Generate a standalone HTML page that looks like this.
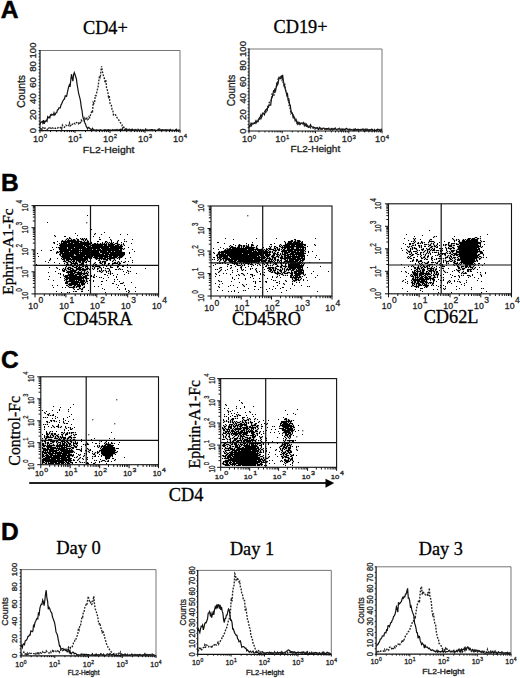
<!DOCTYPE html>
<html><head><meta charset="utf-8"><style>
html,body{margin:0;padding:0;background:#fff;}
svg{display:block;}
</style></head><body>
<svg width="520" height="678" viewBox="0 0 520 678">
<rect width="520" height="678" fill="#fff"/>
<text transform="translate(0.80 18.20)" font-family='"Liberation Sans", sans-serif' font-size="24.6" text-anchor="start" font-weight="bold" fill="#000" stroke="#000" stroke-width="0.5">A</text>
<text transform="translate(1.00 191.00)" font-family='"Liberation Sans", sans-serif' font-size="24.5" text-anchor="start" font-weight="bold" fill="#000" stroke="#000" stroke-width="0.5">B</text>
<text transform="translate(1.00 368.20)" font-family='"Liberation Sans", sans-serif' font-size="24.5" text-anchor="start" font-weight="bold" fill="#000" stroke="#000" stroke-width="0.5">C</text>
<text transform="translate(1.00 539.60)" font-family='"Liberation Sans", sans-serif' font-size="24.5" text-anchor="start" font-weight="bold" fill="#000" stroke="#000" stroke-width="0.5">D</text>
<line x1="40" y1="50.5" x2="180" y2="50.5" stroke="#666" stroke-width="0.9" />
<line x1="180" y1="50.5" x2="180" y2="130.7" stroke="#666" stroke-width="0.9" />
<line x1="40" y1="50.1" x2="40" y2="131.1" stroke="#111" stroke-width="1.2" />
<line x1="39.6" y1="130.7" x2="180.4" y2="130.7" stroke="#111" stroke-width="1.2" />
<text transform="translate(36.00 130.70) rotate(-90)" font-family='"Liberation Sans", sans-serif' font-size="9.5" text-anchor="middle" font-weight="normal" fill="#222" stroke="#222" stroke-width="0.3">0</text>
<text transform="translate(36.00 114.66) rotate(-90)" font-family='"Liberation Sans", sans-serif' font-size="9.5" text-anchor="middle" font-weight="normal" fill="#222" stroke="#222" stroke-width="0.3">20</text>
<text transform="translate(36.00 98.62) rotate(-90)" font-family='"Liberation Sans", sans-serif' font-size="9.5" text-anchor="middle" font-weight="normal" fill="#222" stroke="#222" stroke-width="0.3">40</text>
<text transform="translate(36.00 82.58) rotate(-90)" font-family='"Liberation Sans", sans-serif' font-size="9.5" text-anchor="middle" font-weight="normal" fill="#222" stroke="#222" stroke-width="0.3">60</text>
<text transform="translate(36.00 66.54) rotate(-90)" font-family='"Liberation Sans", sans-serif' font-size="9.5" text-anchor="middle" font-weight="normal" fill="#222" stroke="#222" stroke-width="0.3">80</text>
<text transform="translate(36.00 50.50) rotate(-90)" font-family='"Liberation Sans", sans-serif' font-size="9.5" text-anchor="middle" font-weight="normal" fill="#222" stroke="#222" stroke-width="0.3">100</text>
<path d="M40 130.7h-1.4M40 127.5h-1.4M40 124.3h-1.4M40 121.1h-1.4M40 117.9h-1.4M40 114.7h-1.4M40 111.5h-1.4M40 108.2h-1.4M40 105.0h-1.4M40 101.8h-1.4M40 98.6h-1.4M40 95.4h-1.4M40 92.2h-1.4M40 89.0h-1.4M40 85.8h-1.4M40 82.6h-1.4M40 79.4h-1.4M40 76.2h-1.4M40 73.0h-1.4M40 69.7h-1.4M40 66.5h-1.4M40 63.3h-1.4M40 60.1h-1.4M40 56.9h-1.4M40 53.7h-1.4M40 50.5h-1.4" stroke="#222" stroke-width="1.0" fill="none"/>
<text transform="translate(25.40 91.40) rotate(-90)" font-family='"Liberation Sans", sans-serif' font-size="10.3" text-anchor="middle" font-weight="normal" fill="#222" stroke="#222" stroke-width="0.3">Counts</text>
<text transform="translate(40.00 142.00)" x="-7.04" y="0" font-family='"Liberation Sans", sans-serif' font-size="9.3" fill="#222" stroke="#222" stroke-width="0.28">10<tspan dx="0.4" dy="-3.80" font-size="6.00">0</tspan></text>
<text transform="translate(75.00 142.00)" x="-7.04" y="0" font-family='"Liberation Sans", sans-serif' font-size="9.3" fill="#222" stroke="#222" stroke-width="0.28">10<tspan dx="0.4" dy="-3.80" font-size="6.00">1</tspan></text>
<text transform="translate(110.00 142.00)" x="-7.04" y="0" font-family='"Liberation Sans", sans-serif' font-size="9.3" fill="#222" stroke="#222" stroke-width="0.28">10<tspan dx="0.4" dy="-3.80" font-size="6.00">2</tspan></text>
<text transform="translate(145.00 142.00)" x="-7.04" y="0" font-family='"Liberation Sans", sans-serif' font-size="9.3" fill="#222" stroke="#222" stroke-width="0.28">10<tspan dx="0.4" dy="-3.80" font-size="6.00">3</tspan></text>
<text transform="translate(180.00 142.00)" x="-7.04" y="0" font-family='"Liberation Sans", sans-serif' font-size="9.3" fill="#222" stroke="#222" stroke-width="0.28">10<tspan dx="0.4" dy="-3.80" font-size="6.00">4</tspan></text>
<path d="M40.0 130.7v2.2399999999999998M50.5 130.7v1.4M56.7 130.7v1.4M61.1 130.7v1.4M64.5 130.7v1.4M67.2 130.7v1.4M69.6 130.7v1.4M71.6 130.7v1.4M73.4 130.7v1.4M75.0 130.7v2.2399999999999998M85.5 130.7v1.4M91.7 130.7v1.4M96.1 130.7v1.4M99.5 130.7v1.4M102.2 130.7v1.4M104.6 130.7v1.4M106.6 130.7v1.4M108.4 130.7v1.4M110.0 130.7v2.2399999999999998M120.5 130.7v1.4M126.7 130.7v1.4M131.1 130.7v1.4M134.5 130.7v1.4M137.2 130.7v1.4M139.6 130.7v1.4M141.6 130.7v1.4M143.4 130.7v1.4M145.0 130.7v2.2399999999999998M155.5 130.7v1.4M161.7 130.7v1.4M166.1 130.7v1.4M169.5 130.7v1.4M172.2 130.7v1.4M174.6 130.7v1.4M176.6 130.7v1.4M178.4 130.7v1.4M180.0 130.7v2.2399999999999998" stroke="#111" stroke-width="1.0" fill="none"/>
<text transform="translate(108.60 152.50) scale(1.100 1)" font-family='"Liberation Sans", sans-serif' font-size="9.5" text-anchor="middle" font-weight="normal" fill="#222" stroke="#222" stroke-width="0.3">FL2-Height</text>
<text transform="translate(105.40 33.70)" font-family='"Liberation Serif", serif' font-size="18.3" text-anchor="middle" font-weight="normal" fill="#000" stroke="#000" stroke-width="0.3">CD4+</text>
<line x1="249" y1="49" x2="382" y2="49" stroke="#666" stroke-width="0.9" />
<line x1="382" y1="49" x2="382" y2="131" stroke="#666" stroke-width="0.9" />
<line x1="249" y1="48.6" x2="249" y2="131.4" stroke="#111" stroke-width="1.2" />
<line x1="248.6" y1="131" x2="382.4" y2="131" stroke="#111" stroke-width="1.2" />
<text transform="translate(245.50 131.00) rotate(-90)" font-family='"Liberation Sans", sans-serif' font-size="9.5" text-anchor="middle" font-weight="normal" fill="#222" stroke="#222" stroke-width="0.3">0</text>
<text transform="translate(245.50 114.60) rotate(-90)" font-family='"Liberation Sans", sans-serif' font-size="9.5" text-anchor="middle" font-weight="normal" fill="#222" stroke="#222" stroke-width="0.3">20</text>
<text transform="translate(245.50 98.20) rotate(-90)" font-family='"Liberation Sans", sans-serif' font-size="9.5" text-anchor="middle" font-weight="normal" fill="#222" stroke="#222" stroke-width="0.3">40</text>
<text transform="translate(245.50 81.80) rotate(-90)" font-family='"Liberation Sans", sans-serif' font-size="9.5" text-anchor="middle" font-weight="normal" fill="#222" stroke="#222" stroke-width="0.3">60</text>
<text transform="translate(245.50 65.40) rotate(-90)" font-family='"Liberation Sans", sans-serif' font-size="9.5" text-anchor="middle" font-weight="normal" fill="#222" stroke="#222" stroke-width="0.3">80</text>
<text transform="translate(245.50 49.00) rotate(-90)" font-family='"Liberation Sans", sans-serif' font-size="9.5" text-anchor="middle" font-weight="normal" fill="#222" stroke="#222" stroke-width="0.3">100</text>
<path d="M249 131.0h-1.4M249 127.7h-1.4M249 124.4h-1.4M249 121.2h-1.4M249 117.9h-1.4M249 114.6h-1.4M249 111.3h-1.4M249 108.0h-1.4M249 104.8h-1.4M249 101.5h-1.4M249 98.2h-1.4M249 94.9h-1.4M249 91.6h-1.4M249 88.4h-1.4M249 85.1h-1.4M249 81.8h-1.4M249 78.5h-1.4M249 75.2h-1.4M249 72.0h-1.4M249 68.7h-1.4M249 65.4h-1.4M249 62.1h-1.4M249 58.8h-1.4M249 55.6h-1.4M249 52.3h-1.4M249 49.0h-1.4" stroke="#222" stroke-width="1.0" fill="none"/>
<text transform="translate(235.30 90.50) rotate(-90)" font-family='"Liberation Sans", sans-serif' font-size="10" text-anchor="middle" font-weight="normal" fill="#222" stroke="#222" stroke-width="0.3">Counts</text>
<text transform="translate(249.00 142.30)" x="-7.04" y="0" font-family='"Liberation Sans", sans-serif' font-size="9.3" fill="#222" stroke="#222" stroke-width="0.28">10<tspan dx="0.4" dy="-3.80" font-size="6.00">0</tspan></text>
<text transform="translate(282.25 142.30)" x="-7.04" y="0" font-family='"Liberation Sans", sans-serif' font-size="9.3" fill="#222" stroke="#222" stroke-width="0.28">10<tspan dx="0.4" dy="-3.80" font-size="6.00">1</tspan></text>
<text transform="translate(315.50 142.30)" x="-7.04" y="0" font-family='"Liberation Sans", sans-serif' font-size="9.3" fill="#222" stroke="#222" stroke-width="0.28">10<tspan dx="0.4" dy="-3.80" font-size="6.00">2</tspan></text>
<text transform="translate(348.75 142.30)" x="-7.04" y="0" font-family='"Liberation Sans", sans-serif' font-size="9.3" fill="#222" stroke="#222" stroke-width="0.28">10<tspan dx="0.4" dy="-3.80" font-size="6.00">3</tspan></text>
<text transform="translate(382.00 142.30)" x="-7.04" y="0" font-family='"Liberation Sans", sans-serif' font-size="9.3" fill="#222" stroke="#222" stroke-width="0.28">10<tspan dx="0.4" dy="-3.80" font-size="6.00">4</tspan></text>
<path d="M249.0 131v2.2399999999999998M259.0 131v1.4M264.9 131v1.4M269.0 131v1.4M272.2 131v1.4M274.9 131v1.4M277.1 131v1.4M279.0 131v1.4M280.7 131v1.4M282.2 131v2.2399999999999998M292.3 131v1.4M298.1 131v1.4M302.3 131v1.4M305.5 131v1.4M308.1 131v1.4M310.3 131v1.4M312.3 131v1.4M314.0 131v1.4M315.5 131v2.2399999999999998M325.5 131v1.4M331.4 131v1.4M335.5 131v1.4M338.7 131v1.4M341.4 131v1.4M343.6 131v1.4M345.5 131v1.4M347.2 131v1.4M348.8 131v2.2399999999999998M358.8 131v1.4M364.6 131v1.4M368.8 131v1.4M372.0 131v1.4M374.6 131v1.4M376.8 131v1.4M378.8 131v1.4M380.5 131v1.4M382.0 131v2.2399999999999998" stroke="#111" stroke-width="1.0" fill="none"/>
<text transform="translate(315.40 152.30) scale(1.060 1)" font-family='"Liberation Sans", sans-serif' font-size="9.5" text-anchor="middle" font-weight="normal" fill="#222" stroke="#222" stroke-width="0.3">FL2-Height</text>
<text transform="translate(300.50 33.10)" font-family='"Liberation Serif", serif' font-size="18.3" text-anchor="middle" font-weight="normal" fill="#000" stroke="#000" stroke-width="0.3">CD19+</text>
<path d="M40.0 124.5 L40.7 122.3 L41.4 122.2 L42.1 121.6 L42.8 123.2 L43.5 120.2 L44.2 123.8 L44.9 121.3 L45.6 121.6 L46.3 120.3 L47.0 121.2 L47.7 116.8 L48.4 117.8 L49.1 116.9 L49.8 117.8 L50.5 114.8 L51.2 115.4 L51.9 114.2 L52.6 114.9 L53.3 115.1 L54.0 112.8 L54.7 115.0 L55.4 114.1 L56.1 112.8 L56.8 112.5 L57.5 109.7 L58.2 109.6 L58.9 107.8 L59.6 107.8 L60.3 107.8 L61.0 104.8 L61.7 103.9 L62.4 102.1 L63.1 100.5 L63.8 99.4 L64.5 99.0 L65.2 95.8 L65.9 95.9 L66.6 96.3 L67.3 93.0 L68.0 89.6 L68.7 86.6 L69.4 84.9 L70.1 86.9 L70.8 79.8 L71.5 74.2 L72.2 78.3 L72.9 81.1 L73.6 74.6 L74.3 72.6 L75.0 74.5 L75.7 76.7 L76.4 79.0 L77.1 84.4 L77.8 88.5 L78.5 92.7 L79.2 95.6 L79.9 98.2 L80.6 101.6 L81.3 107.3 L82.0 110.3 L82.7 116.2 L83.4 118.6 L84.1 120.1 L84.8 122.7 L85.5 124.0 L86.2 126.3 L86.9 127.5 L87.6 128.8 L88.3 127.3 L89.0 127.7 L89.7 128.5 L90.4 129.0 L91.1 129.6 L91.8 129.4 L92.5 128.3 L93.2 129.4 L93.9 130.2 L94.6 130.0 L95.3 130.4 L96.0 129.9 L96.7 129.9 L97.4 130.1 L98.1 130.2 L98.8 130.1 L99.5 130.1 L100.2 129.7 L100.9 130.2 L101.6 130.1 L102.3 130.4 L103.0 130.4 L103.7 130.1 L104.4 129.8 L105.1 129.7 L105.8 130.2 L106.5 130.1 L107.2 129.9 L107.9 130.1 L108.6 129.7 L109.3 130.4 L110.0 129.8 L110.7 130.4 L111.4 130.2 L112.1 130.3 L112.8 129.5 L113.5 130.1 L114.2 130.4 L114.9 129.6 L115.6 129.9 L116.3 130.1 L117.0 129.4 L117.7 130.2 L118.4 130.4 L119.1 129.6 L119.8 130.2 L120.5 129.4 L121.2 130.0 L121.9 129.2 L122.6 130.4 L123.3 130.3 L124.0 130.1 L124.7 129.7 L125.4 130.4 L126.1 130.4 L126.8 129.1 L127.5 130.4 L128.2 130.4 L128.9 130.3 L129.6 129.5 L130.3 130.4 L131.0 130.0 L131.7 129.8 L132.4 129.5 L133.1 130.4 L133.8 130.4 L134.5 129.8 L135.2 130.4 L135.9 129.5 L136.6 130.4 L137.3 130.1 L138.0 130.0 L138.7 130.1 L139.4 130.4 L140.1 130.4 L140.8 130.4 L141.5 130.2 L142.2 130.2 L142.9 130.4 L143.6 130.2 L144.3 130.4 L145.0 130.0 L145.7 128.9 L146.4 130.4 L147.1 130.4 L147.8 130.3 L148.5 130.1 L149.2 130.1 L149.9 130.1 L150.6 130.1 L151.3 129.6 L152.0 129.9 L152.7 129.6 L153.4 130.3 L154.1 130.0 L154.8 130.4 L155.5 130.1 L156.2 130.4 L156.9 130.3 L157.6 130.4 L158.3 129.2 L159.0 129.8 L159.7 130.4 L160.4 130.4 L161.1 130.0 L161.8 130.2 L162.5 130.0 L163.2 130.4 L163.9 130.0 L164.6 130.4 L165.3 130.0 L166.0 129.5 L166.7 130.3 L167.4 130.4 L168.1 130.4 L168.8 130.1 L169.5 129.9 L170.2 130.4 L170.9 130.3 L171.6 130.3 L172.3 130.1 L173.0 130.4 L173.7 130.4 L174.4 130.4 L175.1 130.4 L175.8 130.4 L176.5 129.4 L177.2 130.4 L177.9 130.4 L178.6 130.4 L179.3 130.4 L180.0 130.0" fill="none" stroke="#111" stroke-width="1.2"/>
<path d="M40.0 128.7 L40.7 128.9 L41.4 127.6 L42.1 129.9 L42.8 127.7 L43.5 128.3 L44.2 129.1 L44.9 128.0 L45.6 128.1 L46.3 128.1 L47.0 129.0 L47.7 130.1 L48.4 128.6 L49.1 127.8 L49.8 128.9 L50.5 128.1 L51.2 128.4 L51.9 129.2 L52.6 127.9 L53.3 128.3 L54.0 127.7 L54.7 128.2 L55.4 128.4 L56.1 127.5 L56.8 127.9 L57.5 128.0 L58.2 127.7 L58.9 127.3 L59.6 127.1 L60.3 127.8 L61.0 127.4 L61.7 128.9 L62.4 125.3 L63.1 126.8 L63.8 126.8 L64.5 127.3 L65.2 126.3 L65.9 125.1 L66.6 125.5 L67.3 125.8 L68.0 124.8 L68.7 125.5 L69.4 123.1 L70.1 125.9 L70.8 125.5 L71.5 123.8 L72.2 124.4 L72.9 123.7 L73.6 122.7 L74.3 123.3 L75.0 123.9 L75.7 122.6 L76.4 122.5 L77.1 122.8 L77.8 123.2 L78.5 123.9 L79.2 122.1 L79.9 123.1 L80.6 122.5 L81.3 120.2 L82.0 121.2 L82.7 121.1 L83.4 120.9 L84.1 120.9 L84.8 118.3 L85.5 120.1 L86.2 119.1 L86.9 118.1 L87.6 119.7 L88.3 119.1 L89.0 116.9 L89.7 117.7 L90.4 115.1 L91.1 113.9 L91.8 110.7 L92.5 111.5 L93.2 102.5 L93.9 103.5 L94.6 102.3 L95.3 95.7 L96.0 95.7 L96.7 92.6 L97.4 89.6 L98.1 86.8 L98.8 80.8 L99.5 76.2 L100.2 78.4 L100.9 70.8 L101.6 66.3 L102.3 71.1 L103.0 74.1 L103.7 76.7 L104.4 78.4 L105.1 82.9 L105.8 79.7 L106.5 87.5 L107.2 89.6 L107.9 92.2 L108.6 98.4 L109.3 95.7 L110.0 103.2 L110.7 104.7 L111.4 105.6 L112.1 109.9 L112.8 110.4 L113.5 115.3 L114.2 115.6 L114.9 115.1 L115.6 114.9 L116.3 116.2 L117.0 117.6 L117.7 118.5 L118.4 119.3 L119.1 120.7 L119.8 122.1 L120.5 122.8 L121.2 123.7 L121.9 124.5 L122.6 128.2 L123.3 126.2 L124.0 127.5 L124.7 129.3 L125.4 128.9 L126.1 129.4 L126.8 129.7 L127.5 130.0 L128.2 129.8 L128.9 128.8 L129.6 130.1 L130.3 128.6 L131.0 129.6 L131.7 129.4 L132.4 129.2 L133.1 130.1 L133.8 129.8 L134.5 130.4 L135.2 129.2 L135.9 130.4 L136.6 130.3 L137.3 130.1 L138.0 129.3 L138.7 129.9 L139.4 129.2 L140.1 129.0 L140.8 130.4 L141.5 130.4 L142.2 130.4 L142.9 129.8 L143.6 130.4 L144.3 130.4 L145.0 130.4 L145.7 130.0 L146.4 129.9 L147.1 129.0 L147.8 130.4 L148.5 130.3 L149.2 130.4 L149.9 129.9 L150.6 130.4 L151.3 129.8 L152.0 129.4 L152.7 130.4 L153.4 129.8 L154.1 129.4 L154.8 130.2 L155.5 130.4 L156.2 130.2 L156.9 130.3 L157.6 130.4 L158.3 130.4 L159.0 130.4 L159.7 129.1 L160.4 130.3 L161.1 130.4 L161.8 129.9 L162.5 129.7 L163.2 130.3 L163.9 130.0 L164.6 129.8 L165.3 130.4 L166.0 130.4 L166.7 130.3 L167.4 129.9 L168.1 130.4 L168.8 130.4 L169.5 130.4 L170.2 129.4 L170.9 130.0 L171.6 130.3 L172.3 130.4 L173.0 130.4 L173.7 130.4 L174.4 129.6 L175.1 129.8 L175.8 129.6 L176.5 130.4 L177.2 130.3 L177.9 130.4 L178.6 130.4 L179.3 130.0 L180.0 129.6" fill="none" stroke="#222" stroke-width="1.35" stroke-dasharray="1.8 1.3"/>
<path d="M249.0 127.2 L249.7 125.8 L250.4 125.2 L251.1 123.2 L251.8 124.3 L252.5 123.9 L253.2 123.8 L253.9 123.0 L254.6 123.1 L255.3 122.2 L256.0 120.7 L256.7 122.1 L257.4 121.3 L258.1 121.5 L258.8 119.0 L259.5 117.8 L260.2 116.9 L260.9 115.0 L261.6 117.1 L262.3 114.0 L263.0 113.1 L263.7 113.5 L264.4 114.7 L265.1 112.4 L265.8 109.7 L266.5 109.0 L267.2 109.5 L267.9 107.4 L268.6 105.4 L269.3 105.0 L270.0 105.2 L270.7 105.1 L271.4 98.6 L272.1 97.5 L272.8 95.3 L273.5 90.9 L274.2 91.3 L274.9 89.3 L275.6 90.9 L276.3 87.0 L277.0 82.6 L277.7 84.6 L278.4 81.3 L279.1 77.4 L279.8 77.9 L280.5 77.2 L281.2 76.2 L281.9 77.4 L282.6 74.9 L283.3 80.3 L284.0 84.5 L284.7 86.7 L285.4 89.6 L286.1 92.1 L286.8 95.1 L287.5 94.0 L288.2 100.2 L288.9 99.4 L289.6 104.4 L290.3 105.3 L291.0 111.0 L291.7 113.2 L292.4 113.2 L293.1 117.3 L293.8 116.4 L294.5 118.5 L295.2 119.4 L295.9 119.1 L296.6 121.6 L297.3 123.9 L298.0 122.1 L298.7 123.7 L299.4 122.7 L300.1 124.4 L300.8 123.1 L301.5 123.2 L302.2 123.3 L302.9 123.5 L303.6 122.6 L304.3 125.6 L305.0 123.8 L305.7 125.7 L306.4 126.4 L307.1 125.4 L307.8 126.4 L308.5 127.3 L309.2 126.6 L309.9 126.1 L310.6 124.7 L311.3 126.4 L312.0 126.8 L312.7 127.1 L313.4 126.9 L314.1 128.0 L314.8 127.5 L315.5 128.0 L316.2 128.5 L316.9 127.5 L317.6 128.0 L318.3 129.7 L319.0 128.9 L319.7 127.4 L320.4 128.3 L321.1 128.8 L321.8 129.3 L322.5 128.6 L323.2 128.2 L323.9 128.1 L324.6 129.1 L325.3 128.9 L326.0 128.4 L326.7 128.7 L327.4 128.6 L328.1 129.3 L328.8 128.5 L329.5 129.3 L330.2 129.5 L330.9 129.3 L331.6 128.5 L332.3 129.9 L333.0 128.7 L333.7 129.4 L334.4 128.6 L335.1 128.0 L335.8 129.3 L336.5 129.4 L337.2 129.1 L337.9 129.4 L338.6 128.8 L339.3 128.8 L340.0 129.2 L340.7 130.5 L341.4 129.8 L342.1 129.0 L342.8 129.7 L343.5 129.1 L344.2 129.1 L344.9 129.9 L345.6 129.1 L346.3 128.4 L347.0 128.9 L347.7 129.5 L348.4 129.6 L349.1 130.2 L349.8 129.1 L350.5 130.0 L351.2 129.8 L351.9 129.5 L352.6 130.1 L353.3 129.9 L354.0 129.1 L354.7 130.3 L355.4 129.0 L356.1 129.7 L356.8 129.7 L357.5 130.0 L358.2 129.3 L358.9 129.8 L359.6 129.7 L360.3 130.4 L361.0 129.4 L361.7 129.9 L362.4 129.7 L363.1 129.1 L363.8 130.7 L364.5 129.9 L365.2 129.1 L365.9 130.7 L366.6 129.4 L367.3 130.2 L368.0 130.5 L368.7 129.6 L369.4 129.8 L370.1 129.7 L370.8 130.0 L371.5 129.2 L372.2 129.4 L372.9 130.0 L373.6 130.7 L374.3 130.5 L375.0 130.7 L375.7 130.5 L376.4 129.9 L377.1 130.1 L377.8 129.1 L378.5 129.7 L379.2 129.7 L379.9 130.4 L380.6 130.6 L381.3 130.0 L382.0 130.0" fill="none" stroke="#111" stroke-width="1.2"/>
<path d="M249.0 126.5 L249.7 126.5 L250.4 125.0 L251.1 126.0 L251.8 124.8 L252.5 123.4 L253.2 123.8 L253.9 124.6 L254.6 124.0 L255.3 122.1 L256.0 123.0 L256.7 121.5 L257.4 121.3 L258.1 120.4 L258.8 118.1 L259.5 118.9 L260.2 117.1 L260.9 118.6 L261.6 116.9 L262.3 115.3 L263.0 113.3 L263.7 113.6 L264.4 112.9 L265.1 110.3 L265.8 113.3 L266.5 109.8 L267.2 110.3 L267.9 105.3 L268.6 107.7 L269.3 102.4 L270.0 102.1 L270.7 101.9 L271.4 99.3 L272.1 93.8 L272.8 93.8 L273.5 95.0 L274.2 95.1 L274.9 91.4 L275.6 87.6 L276.3 87.4 L277.0 82.0 L277.7 82.8 L278.4 77.6 L279.1 78.2 L279.8 76.3 L280.5 78.0 L281.2 76.6 L281.9 80.1 L282.6 79.4 L283.3 83.4 L284.0 85.4 L284.7 83.5 L285.4 89.2 L286.1 91.8 L286.8 93.1 L287.5 97.4 L288.2 98.1 L288.9 104.0 L289.6 107.0 L290.3 109.1 L291.0 113.6 L291.7 112.7 L292.4 114.1 L293.1 114.9 L293.8 117.8 L294.5 117.5 L295.2 120.7 L295.9 119.5 L296.6 121.1 L297.3 123.6 L298.0 123.6 L298.7 122.8 L299.4 124.0 L300.1 122.7 L300.8 123.6 L301.5 123.0 L302.2 122.3 L302.9 124.1 L303.6 125.0 L304.3 124.4 L305.0 124.3 L305.7 125.3 L306.4 124.2 L307.1 125.8 L307.8 125.6 L308.5 128.2 L309.2 126.4 L309.9 125.8 L310.6 127.8 L311.3 127.2 L312.0 127.6 L312.7 127.8 L313.4 128.0 L314.1 127.8 L314.8 128.9 L315.5 128.7 L316.2 128.0 L316.9 128.3 L317.6 127.8 L318.3 128.7 L319.0 129.1 L319.7 129.0 L320.4 129.1 L321.1 128.6 L321.8 129.8 L322.5 128.7 L323.2 128.9 L323.9 128.7 L324.6 129.0 L325.3 128.8 L326.0 130.3 L326.7 129.3 L327.4 128.1 L328.1 128.9 L328.8 128.3 L329.5 129.8 L330.2 130.1 L330.9 129.0 L331.6 129.7 L332.3 129.2 L333.0 129.6 L333.7 130.4 L334.4 129.2 L335.1 128.7 L335.8 129.9 L336.5 129.8 L337.2 129.9 L337.9 130.1 L338.6 129.1 L339.3 128.4 L340.0 130.1 L340.7 129.3 L341.4 128.9 L342.1 128.9 L342.8 130.3 L343.5 129.7 L344.2 129.8 L344.9 130.1 L345.6 129.3 L346.3 129.0 L347.0 129.2 L347.7 129.1 L348.4 129.6 L349.1 129.2 L349.8 129.8 L350.5 129.5 L351.2 129.7 L351.9 130.2 L352.6 130.6 L353.3 130.7 L354.0 129.9 L354.7 130.0 L355.4 129.6 L356.1 130.5 L356.8 130.7 L357.5 129.6 L358.2 130.4 L358.9 129.8 L359.6 129.9 L360.3 130.1 L361.0 129.8 L361.7 130.5 L362.4 129.2 L363.1 129.7 L363.8 130.0 L364.5 129.5 L365.2 130.3 L365.9 129.3 L366.6 130.1 L367.3 129.3 L368.0 130.0 L368.7 130.4 L369.4 130.7 L370.1 130.7 L370.8 130.7 L371.5 130.2 L372.2 130.7 L372.9 130.0 L373.6 130.1 L374.3 129.5 L375.0 130.3 L375.7 130.7 L376.4 129.9 L377.1 130.0 L377.8 130.0 L378.5 130.1 L379.2 130.0 L379.9 129.6 L380.6 130.7 L381.3 129.3 L382.0 129.8" fill="none" stroke="#222" stroke-width="1.35" stroke-dasharray="1.8 1.3"/>
<line x1="21" y1="569.6" x2="156" y2="569.6" stroke="#666" stroke-width="0.9" />
<line x1="156" y1="569.6" x2="156" y2="655.8" stroke="#666" stroke-width="0.9" />
<line x1="21" y1="569.2" x2="21" y2="656.1999999999999" stroke="#111" stroke-width="1.2" />
<line x1="20.6" y1="655.8" x2="156.4" y2="655.8" stroke="#111" stroke-width="1.2" />
<text transform="translate(16.90 655.80) rotate(-90)" font-family='"Liberation Sans", sans-serif' font-size="8.0" text-anchor="middle" font-weight="normal" fill="#222" stroke="#222" stroke-width="0.3">0</text>
<text transform="translate(16.90 638.56) rotate(-90)" font-family='"Liberation Sans", sans-serif' font-size="8.0" text-anchor="middle" font-weight="normal" fill="#222" stroke="#222" stroke-width="0.3">20</text>
<text transform="translate(16.90 621.32) rotate(-90)" font-family='"Liberation Sans", sans-serif' font-size="8.0" text-anchor="middle" font-weight="normal" fill="#222" stroke="#222" stroke-width="0.3">40</text>
<text transform="translate(16.90 604.08) rotate(-90)" font-family='"Liberation Sans", sans-serif' font-size="8.0" text-anchor="middle" font-weight="normal" fill="#222" stroke="#222" stroke-width="0.3">60</text>
<text transform="translate(16.90 586.84) rotate(-90)" font-family='"Liberation Sans", sans-serif' font-size="8.0" text-anchor="middle" font-weight="normal" fill="#222" stroke="#222" stroke-width="0.3">80</text>
<text transform="translate(16.90 569.60) rotate(-90)" font-family='"Liberation Sans", sans-serif' font-size="8.0" text-anchor="middle" font-weight="normal" fill="#222" stroke="#222" stroke-width="0.3">100</text>
<path d="M21 655.8h-1.4M21 652.4h-1.4M21 648.9h-1.4M21 645.5h-1.4M21 642.0h-1.4M21 638.6h-1.4M21 635.1h-1.4M21 631.7h-1.4M21 628.2h-1.4M21 624.8h-1.4M21 621.3h-1.4M21 617.9h-1.4M21 614.4h-1.4M21 611.0h-1.4M21 607.5h-1.4M21 604.1h-1.4M21 600.6h-1.4M21 597.2h-1.4M21 593.7h-1.4M21 590.3h-1.4M21 586.8h-1.4M21 583.4h-1.4M21 579.9h-1.4M21 576.5h-1.4M21 573.0h-1.4M21 569.6h-1.4" stroke="#222" stroke-width="1.0" fill="none"/>
<text transform="translate(8.10 611.60) rotate(-90)" font-family='"Liberation Sans", sans-serif' font-size="9" text-anchor="middle" font-weight="normal" fill="#222" stroke="#222" stroke-width="0.3">Counts</text>
<text transform="translate(21.00 667.00)" x="-5.65" y="0" font-family='"Liberation Sans", sans-serif' font-size="7.3" fill="#222" stroke="#222" stroke-width="0.28">10<tspan dx="0.4" dy="-3.00" font-size="5.00">0</tspan></text>
<text transform="translate(54.75 667.00)" x="-5.65" y="0" font-family='"Liberation Sans", sans-serif' font-size="7.3" fill="#222" stroke="#222" stroke-width="0.28">10<tspan dx="0.4" dy="-3.00" font-size="5.00">1</tspan></text>
<text transform="translate(88.50 667.00)" x="-5.65" y="0" font-family='"Liberation Sans", sans-serif' font-size="7.3" fill="#222" stroke="#222" stroke-width="0.28">10<tspan dx="0.4" dy="-3.00" font-size="5.00">2</tspan></text>
<text transform="translate(122.25 667.00)" x="-5.65" y="0" font-family='"Liberation Sans", sans-serif' font-size="7.3" fill="#222" stroke="#222" stroke-width="0.28">10<tspan dx="0.4" dy="-3.00" font-size="5.00">3</tspan></text>
<text transform="translate(156.00 667.00)" x="-5.65" y="0" font-family='"Liberation Sans", sans-serif' font-size="7.3" fill="#222" stroke="#222" stroke-width="0.28">10<tspan dx="0.4" dy="-3.00" font-size="5.00">4</tspan></text>
<path d="M21.0 655.8v2.2399999999999998M31.2 655.8v1.4M37.1 655.8v1.4M41.3 655.8v1.4M44.6 655.8v1.4M47.3 655.8v1.4M49.5 655.8v1.4M51.5 655.8v1.4M53.2 655.8v1.4M54.8 655.8v2.2399999999999998M64.9 655.8v1.4M70.9 655.8v1.4M75.1 655.8v1.4M78.3 655.8v1.4M81.0 655.8v1.4M83.3 655.8v1.4M85.2 655.8v1.4M87.0 655.8v1.4M88.5 655.8v2.2399999999999998M98.7 655.8v1.4M104.6 655.8v1.4M108.8 655.8v1.4M112.1 655.8v1.4M114.8 655.8v1.4M117.0 655.8v1.4M119.0 655.8v1.4M120.7 655.8v1.4M122.2 655.8v2.2399999999999998M132.4 655.8v1.4M138.4 655.8v1.4M142.6 655.8v1.4M145.8 655.8v1.4M148.5 655.8v1.4M150.8 655.8v1.4M152.7 655.8v1.4M154.5 655.8v1.4M156.0 655.8v2.2399999999999998" stroke="#111" stroke-width="1.0" fill="none"/>
<text transform="translate(83.60 674.60)" font-family='"Liberation Sans", sans-serif' font-size="6.4" text-anchor="middle" font-weight="normal" fill="#222" stroke="#222" stroke-width="0.3">FL2-Height</text>
<text transform="translate(78.50 554.20)" font-family='"Liberation Serif", serif' font-size="18.5" text-anchor="middle" font-weight="normal" fill="#000" stroke="#000" stroke-width="0.3">Day 0</text>
<line x1="197.7" y1="570.4" x2="331.3" y2="570.4" stroke="#666" stroke-width="0.9" />
<line x1="331.3" y1="570.4" x2="331.3" y2="654.3" stroke="#666" stroke-width="0.9" />
<line x1="197.7" y1="570.0" x2="197.7" y2="654.6999999999999" stroke="#111" stroke-width="1.2" />
<line x1="197.29999999999998" y1="654.3" x2="331.7" y2="654.3" stroke="#111" stroke-width="1.2" />
<text transform="translate(194.80 654.30) rotate(-90) scale(0.920 1)" font-family='"Liberation Sans", sans-serif' font-size="8.2" text-anchor="middle" font-weight="normal" fill="#222" stroke="#222" stroke-width="0.3">0</text>
<text transform="translate(194.80 643.81) rotate(-90) scale(0.920 1)" font-family='"Liberation Sans", sans-serif' font-size="8.2" text-anchor="middle" font-weight="normal" fill="#222" stroke="#222" stroke-width="0.3">10</text>
<text transform="translate(194.80 633.32) rotate(-90) scale(0.920 1)" font-family='"Liberation Sans", sans-serif' font-size="8.2" text-anchor="middle" font-weight="normal" fill="#222" stroke="#222" stroke-width="0.3">20</text>
<text transform="translate(194.80 622.84) rotate(-90) scale(0.920 1)" font-family='"Liberation Sans", sans-serif' font-size="8.2" text-anchor="middle" font-weight="normal" fill="#222" stroke="#222" stroke-width="0.3">30</text>
<text transform="translate(194.80 612.35) rotate(-90) scale(0.920 1)" font-family='"Liberation Sans", sans-serif' font-size="8.2" text-anchor="middle" font-weight="normal" fill="#222" stroke="#222" stroke-width="0.3">40</text>
<text transform="translate(194.80 601.86) rotate(-90) scale(0.920 1)" font-family='"Liberation Sans", sans-serif' font-size="8.2" text-anchor="middle" font-weight="normal" fill="#222" stroke="#222" stroke-width="0.3">50</text>
<text transform="translate(194.80 591.38) rotate(-90) scale(0.920 1)" font-family='"Liberation Sans", sans-serif' font-size="8.2" text-anchor="middle" font-weight="normal" fill="#222" stroke="#222" stroke-width="0.3">60</text>
<text transform="translate(194.80 580.89) rotate(-90) scale(0.920 1)" font-family='"Liberation Sans", sans-serif' font-size="8.2" text-anchor="middle" font-weight="normal" fill="#222" stroke="#222" stroke-width="0.3">70</text>
<text transform="translate(194.80 570.40) rotate(-90) scale(0.920 1)" font-family='"Liberation Sans", sans-serif' font-size="8.2" text-anchor="middle" font-weight="normal" fill="#222" stroke="#222" stroke-width="0.3">80</text>
<path d="M197.7 654.3h-1.4M197.7 649.1h-1.4M197.7 643.8h-1.4M197.7 638.6h-1.4M197.7 633.3h-1.4M197.7 628.1h-1.4M197.7 622.8h-1.4M197.7 617.6h-1.4M197.7 612.3h-1.4M197.7 607.1h-1.4M197.7 601.9h-1.4M197.7 596.6h-1.4M197.7 591.4h-1.4M197.7 586.1h-1.4M197.7 580.9h-1.4M197.7 575.6h-1.4M197.7 570.4h-1.4" stroke="#222" stroke-width="1.0" fill="none"/>
<text transform="translate(186.00 612.30) rotate(-90)" font-family='"Liberation Sans", sans-serif' font-size="8.4" text-anchor="middle" font-weight="normal" fill="#222" stroke="#222" stroke-width="0.3">Counts</text>
<text transform="translate(197.70 664.60)" x="-5.65" y="0" font-family='"Liberation Sans", sans-serif' font-size="7.3" fill="#222" stroke="#222" stroke-width="0.28">10<tspan dx="0.4" dy="-3.00" font-size="5.00">0</tspan></text>
<text transform="translate(231.10 664.60)" x="-5.65" y="0" font-family='"Liberation Sans", sans-serif' font-size="7.3" fill="#222" stroke="#222" stroke-width="0.28">10<tspan dx="0.4" dy="-3.00" font-size="5.00">1</tspan></text>
<text transform="translate(264.50 664.60)" x="-5.65" y="0" font-family='"Liberation Sans", sans-serif' font-size="7.3" fill="#222" stroke="#222" stroke-width="0.28">10<tspan dx="0.4" dy="-3.00" font-size="5.00">2</tspan></text>
<text transform="translate(297.90 664.60)" x="-5.65" y="0" font-family='"Liberation Sans", sans-serif' font-size="7.3" fill="#222" stroke="#222" stroke-width="0.28">10<tspan dx="0.4" dy="-3.00" font-size="5.00">3</tspan></text>
<text transform="translate(331.30 664.60)" x="-5.65" y="0" font-family='"Liberation Sans", sans-serif' font-size="7.3" fill="#222" stroke="#222" stroke-width="0.28">10<tspan dx="0.4" dy="-3.00" font-size="5.00">4</tspan></text>
<path d="M197.7 654.3v2.2399999999999998M207.8 654.3v1.4M213.6 654.3v1.4M217.8 654.3v1.4M221.0 654.3v1.4M223.7 654.3v1.4M225.9 654.3v1.4M227.9 654.3v1.4M229.6 654.3v1.4M231.1 654.3v2.2399999999999998M241.2 654.3v1.4M247.0 654.3v1.4M251.2 654.3v1.4M254.4 654.3v1.4M257.1 654.3v1.4M259.3 654.3v1.4M261.3 654.3v1.4M263.0 654.3v1.4M264.5 654.3v2.2399999999999998M274.6 654.3v1.4M280.4 654.3v1.4M284.6 654.3v1.4M287.8 654.3v1.4M290.5 654.3v1.4M292.7 654.3v1.4M294.7 654.3v1.4M296.4 654.3v1.4M297.9 654.3v2.2399999999999998M308.0 654.3v1.4M313.8 654.3v1.4M318.0 654.3v1.4M321.2 654.3v1.4M323.9 654.3v1.4M326.1 654.3v1.4M328.1 654.3v1.4M329.8 654.3v1.4M331.3 654.3v2.2399999999999998" stroke="#111" stroke-width="1.0" fill="none"/>
<text transform="translate(265.00 674.60) scale(1.050 1)" font-family='"Liberation Sans", sans-serif' font-size="7.3" text-anchor="middle" font-weight="normal" fill="#222" stroke="#222" stroke-width="0.3">FL2-Height</text>
<text transform="translate(252.00 554.90)" font-family='"Liberation Serif", serif' font-size="18.3" text-anchor="middle" font-weight="normal" fill="#000" stroke="#000" stroke-width="0.3">Day 1</text>
<line x1="376.1" y1="566.8" x2="511" y2="566.8" stroke="#666" stroke-width="0.9" />
<line x1="511" y1="566.8" x2="511" y2="654.2" stroke="#666" stroke-width="0.9" />
<line x1="376.1" y1="566.4" x2="376.1" y2="654.6" stroke="#111" stroke-width="1.2" />
<line x1="375.70000000000005" y1="654.2" x2="511.4" y2="654.2" stroke="#111" stroke-width="1.2" />
<text transform="translate(373.20 654.20) rotate(-90) scale(0.920 1)" font-family='"Liberation Sans", sans-serif' font-size="8.2" text-anchor="middle" font-weight="normal" fill="#222" stroke="#222" stroke-width="0.3">0</text>
<text transform="translate(373.20 643.28) rotate(-90) scale(0.920 1)" font-family='"Liberation Sans", sans-serif' font-size="8.2" text-anchor="middle" font-weight="normal" fill="#222" stroke="#222" stroke-width="0.3">10</text>
<text transform="translate(373.20 632.35) rotate(-90) scale(0.920 1)" font-family='"Liberation Sans", sans-serif' font-size="8.2" text-anchor="middle" font-weight="normal" fill="#222" stroke="#222" stroke-width="0.3">20</text>
<text transform="translate(373.20 621.42) rotate(-90) scale(0.920 1)" font-family='"Liberation Sans", sans-serif' font-size="8.2" text-anchor="middle" font-weight="normal" fill="#222" stroke="#222" stroke-width="0.3">30</text>
<text transform="translate(373.20 610.50) rotate(-90) scale(0.920 1)" font-family='"Liberation Sans", sans-serif' font-size="8.2" text-anchor="middle" font-weight="normal" fill="#222" stroke="#222" stroke-width="0.3">40</text>
<text transform="translate(373.20 599.58) rotate(-90) scale(0.920 1)" font-family='"Liberation Sans", sans-serif' font-size="8.2" text-anchor="middle" font-weight="normal" fill="#222" stroke="#222" stroke-width="0.3">50</text>
<text transform="translate(373.20 588.65) rotate(-90) scale(0.920 1)" font-family='"Liberation Sans", sans-serif' font-size="8.2" text-anchor="middle" font-weight="normal" fill="#222" stroke="#222" stroke-width="0.3">60</text>
<text transform="translate(373.20 577.72) rotate(-90) scale(0.920 1)" font-family='"Liberation Sans", sans-serif' font-size="8.2" text-anchor="middle" font-weight="normal" fill="#222" stroke="#222" stroke-width="0.3">70</text>
<text transform="translate(373.20 566.80) rotate(-90) scale(0.920 1)" font-family='"Liberation Sans", sans-serif' font-size="8.2" text-anchor="middle" font-weight="normal" fill="#222" stroke="#222" stroke-width="0.3">80</text>
<path d="M376.1 654.2h-1.4M376.1 648.7h-1.4M376.1 643.3h-1.4M376.1 637.8h-1.4M376.1 632.4h-1.4M376.1 626.9h-1.4M376.1 621.4h-1.4M376.1 616.0h-1.4M376.1 610.5h-1.4M376.1 605.0h-1.4M376.1 599.6h-1.4M376.1 594.1h-1.4M376.1 588.6h-1.4M376.1 583.2h-1.4M376.1 577.7h-1.4M376.1 572.3h-1.4M376.1 566.8h-1.4" stroke="#222" stroke-width="1.0" fill="none"/>
<text transform="translate(364.40 610.50) rotate(-90)" font-family='"Liberation Sans", sans-serif' font-size="8.4" text-anchor="middle" font-weight="normal" fill="#222" stroke="#222" stroke-width="0.3">Counts</text>
<text transform="translate(376.10 663.70)" x="-5.65" y="0" font-family='"Liberation Sans", sans-serif' font-size="7.3" fill="#222" stroke="#222" stroke-width="0.28">10<tspan dx="0.4" dy="-3.00" font-size="5.00">0</tspan></text>
<text transform="translate(409.83 663.70)" x="-5.65" y="0" font-family='"Liberation Sans", sans-serif' font-size="7.3" fill="#222" stroke="#222" stroke-width="0.28">10<tspan dx="0.4" dy="-3.00" font-size="5.00">1</tspan></text>
<text transform="translate(443.55 663.70)" x="-5.65" y="0" font-family='"Liberation Sans", sans-serif' font-size="7.3" fill="#222" stroke="#222" stroke-width="0.28">10<tspan dx="0.4" dy="-3.00" font-size="5.00">2</tspan></text>
<text transform="translate(477.27 663.70)" x="-5.65" y="0" font-family='"Liberation Sans", sans-serif' font-size="7.3" fill="#222" stroke="#222" stroke-width="0.28">10<tspan dx="0.4" dy="-3.00" font-size="5.00">3</tspan></text>
<text transform="translate(511.00 663.70)" x="-5.65" y="0" font-family='"Liberation Sans", sans-serif' font-size="7.3" fill="#222" stroke="#222" stroke-width="0.28">10<tspan dx="0.4" dy="-3.00" font-size="5.00">4</tspan></text>
<path d="M376.1 654.2v2.2399999999999998M386.3 654.2v1.4M392.2 654.2v1.4M396.4 654.2v1.4M399.7 654.2v1.4M402.3 654.2v1.4M404.6 654.2v1.4M406.6 654.2v1.4M408.3 654.2v1.4M409.8 654.2v2.2399999999999998M420.0 654.2v1.4M425.9 654.2v1.4M430.1 654.2v1.4M433.4 654.2v1.4M436.1 654.2v1.4M438.3 654.2v1.4M440.3 654.2v1.4M442.0 654.2v1.4M443.6 654.2v2.2399999999999998M453.7 654.2v1.4M459.6 654.2v1.4M463.9 654.2v1.4M467.1 654.2v1.4M469.8 654.2v1.4M472.1 654.2v1.4M474.0 654.2v1.4M475.7 654.2v1.4M477.3 654.2v2.2399999999999998M487.4 654.2v1.4M493.4 654.2v1.4M497.6 654.2v1.4M500.8 654.2v1.4M503.5 654.2v1.4M505.8 654.2v1.4M507.7 654.2v1.4M509.5 654.2v1.4M511.0 654.2v2.2399999999999998" stroke="#111" stroke-width="1.0" fill="none"/>
<text transform="translate(443.30 673.80) scale(1.170 1)" font-family='"Liberation Sans", sans-serif' font-size="7.3" text-anchor="middle" font-weight="normal" fill="#222" stroke="#222" stroke-width="0.3">FL2-Height</text>
<text transform="translate(440.80 554.90)" font-family='"Liberation Serif", serif' font-size="18.3" text-anchor="middle" font-weight="normal" fill="#000" stroke="#000" stroke-width="0.3">Day 3</text>
<path d="M21.0 646.7 L21.7 645.3 L22.4 647.4 L23.1 644.1 L23.8 643.8 L24.5 644.7 L25.2 641.0 L25.9 640.3 L26.6 640.1 L27.3 638.5 L28.0 636.4 L28.7 636.4 L29.4 635.0 L30.1 635.1 L30.8 630.9 L31.5 631.0 L32.2 631.7 L32.9 631.0 L33.6 624.5 L34.3 626.2 L35.0 622.4 L35.7 621.2 L36.4 619.6 L37.1 618.4 L37.8 618.8 L38.5 612.4 L39.2 614.1 L39.9 608.1 L40.6 605.7 L41.3 604.1 L42.0 604.3 L42.7 600.0 L43.4 601.9 L44.1 605.7 L44.8 600.7 L45.5 594.3 L46.2 590.2 L46.9 598.2 L47.6 601.0 L48.3 609.2 L49.0 607.4 L49.7 608.6 L50.4 610.7 L51.1 612.1 L51.8 613.1 L52.5 617.0 L53.2 618.9 L53.9 620.8 L54.6 622.8 L55.3 626.5 L56.0 631.9 L56.7 633.5 L57.4 634.8 L58.1 638.8 L58.8 642.2 L59.5 646.2 L60.2 646.0 L60.9 649.3 L61.6 648.7 L62.3 648.6 L63.0 648.4 L63.7 650.0 L64.4 649.3 L65.1 649.2 L65.8 650.7 L66.5 650.6 L67.2 651.8 L67.9 651.2 L68.6 649.4 L69.3 652.5 L70.0 650.8 L70.7 653.5 L71.4 653.9 L72.1 652.5 L72.8 652.1 L73.5 652.2 L74.2 653.9 L74.9 653.4 L75.6 653.4 L76.3 653.8 L77.0 655.4 L77.7 654.6 L78.4 654.9 L79.1 654.9 L79.8 655.1 L80.5 655.1 L81.2 654.1 L81.9 654.4 L82.6 654.1 L83.3 654.2 L84.0 655.3 L84.7 654.3 L85.4 654.6 L86.1 654.3 L86.8 654.4 L87.5 655.2 L88.2 654.5 L88.9 654.5 L89.6 655.1 L90.3 655.1 L91.0 655.2 L91.7 654.9 L92.4 653.8 L93.1 655.2 L93.8 655.1 L94.5 655.4 L95.2 654.4 L95.9 655.5 L96.6 654.1 L97.3 655.2 L98.0 654.8 L98.7 654.6 L99.4 655.3 L100.1 654.7 L100.8 653.6 L101.5 654.2 L102.2 655.1 L102.9 655.5 L103.6 654.0 L104.3 654.8 L105.0 655.5 L105.7 655.2 L106.4 654.6 L107.1 654.1 L107.8 653.9 L108.5 654.4 L109.2 654.7 L109.9 653.6 L110.6 653.9 L111.3 655.0 L112.0 654.6 L112.7 654.5 L113.4 654.6 L114.1 654.4 L114.8 655.4 L115.5 655.5 L116.2 655.5 L116.9 655.3 L117.6 655.3 L118.3 655.5 L119.0 655.5 L119.7 655.5 L120.4 655.5 L121.1 654.6 L121.8 654.0 L122.5 655.4 L123.2 654.8 L123.9 654.9 L124.6 654.4 L125.3 654.2 L126.0 655.5 L126.7 655.2 L127.4 654.3 L128.1 655.1 L128.8 655.1 L129.5 655.2 L130.2 655.5 L130.9 654.9 L131.6 654.2 L132.3 654.9 L133.0 654.6 L133.7 655.2 L134.4 655.0 L135.1 655.1 L135.8 654.6 L136.5 655.2 L137.2 654.7 L137.9 655.2 L138.6 654.8 L139.3 654.4 L140.0 655.2 L140.7 654.6 L141.4 655.5 L142.1 655.2 L142.8 655.2 L143.5 655.0 L144.2 654.9 L144.9 653.7 L145.6 655.5 L146.3 654.5 L147.0 655.5 L147.7 654.6 L148.4 654.9 L149.1 654.9 L149.8 654.4 L150.5 654.9 L151.2 655.2 L151.9 654.8 L152.6 654.3 L153.3 654.7 L154.0 655.1 L154.7 655.5 L155.4 655.4" fill="none" stroke="#111" stroke-width="1.2"/>
<path d="M21.0 653.6 L21.7 654.2 L22.4 653.9 L23.1 653.1 L23.8 652.1 L24.5 654.2 L25.2 654.3 L25.9 652.6 L26.6 654.6 L27.3 653.2 L28.0 655.2 L28.7 653.8 L29.4 653.2 L30.1 654.2 L30.8 653.4 L31.5 653.4 L32.2 653.3 L32.9 653.1 L33.6 653.6 L34.3 653.7 L35.0 653.4 L35.7 654.3 L36.4 652.1 L37.1 652.7 L37.8 653.5 L38.5 652.1 L39.2 654.0 L39.9 653.4 L40.6 652.7 L41.3 653.2 L42.0 652.3 L42.7 651.7 L43.4 653.3 L44.1 653.3 L44.8 652.6 L45.5 652.4 L46.2 650.8 L46.9 651.7 L47.6 651.9 L48.3 652.3 L49.0 653.1 L49.7 651.6 L50.4 651.4 L51.1 652.6 L51.8 651.7 L52.5 650.7 L53.2 652.6 L53.9 650.9 L54.6 651.1 L55.3 650.6 L56.0 651.5 L56.7 651.9 L57.4 650.7 L58.1 651.2 L58.8 650.3 L59.5 652.5 L60.2 651.7 L60.9 649.8 L61.6 650.6 L62.3 650.8 L63.0 650.2 L63.7 649.1 L64.4 649.4 L65.1 650.0 L65.8 649.7 L66.5 648.5 L67.2 649.6 L67.9 648.3 L68.6 647.2 L69.3 648.6 L70.0 648.6 L70.7 647.4 L71.4 647.7 L72.1 647.3 L72.8 645.0 L73.5 643.0 L74.2 642.7 L74.9 640.3 L75.6 640.5 L76.3 638.0 L77.0 636.0 L77.7 634.8 L78.4 628.1 L79.1 629.7 L79.8 625.6 L80.5 625.3 L81.2 621.6 L81.9 616.9 L82.6 617.3 L83.3 612.3 L84.0 612.1 L84.7 607.9 L85.4 605.9 L86.1 604.6 L86.8 605.4 L87.5 600.9 L88.2 596.2 L88.9 598.7 L89.6 601.5 L90.3 602.8 L91.0 601.9 L91.7 604.3 L92.4 603.6 L93.1 600.2 L93.8 596.1 L94.5 604.1 L95.2 608.7 L95.9 610.7 L96.6 612.6 L97.3 615.0 L98.0 618.4 L98.7 623.7 L99.4 623.9 L100.1 623.1 L100.8 628.2 L101.5 628.3 L102.2 633.4 L102.9 631.1 L103.6 632.8 L104.3 635.8 L105.0 638.7 L105.7 641.1 L106.4 643.5 L107.1 645.6 L107.8 646.7 L108.5 648.3 L109.2 649.0 L109.9 650.5 L110.6 651.1 L111.3 652.0 L112.0 652.7 L112.7 653.3 L113.4 653.9 L114.1 653.5 L114.8 654.0 L115.5 654.2 L116.2 654.0 L116.9 654.3 L117.6 654.6 L118.3 653.5 L119.0 654.8 L119.7 654.2 L120.4 652.4 L121.1 654.8 L121.8 653.9 L122.5 655.1 L123.2 654.0 L123.9 654.5 L124.6 655.0 L125.3 654.2 L126.0 654.1 L126.7 654.6 L127.4 655.5 L128.1 655.4 L128.8 655.5 L129.5 655.0 L130.2 655.1 L130.9 655.4 L131.6 655.1 L132.3 654.4 L133.0 655.3 L133.7 654.6 L134.4 654.4 L135.1 654.9 L135.8 654.8 L136.5 655.3 L137.2 655.0 L137.9 654.6 L138.6 654.8 L139.3 654.6 L140.0 654.7 L140.7 655.5 L141.4 655.1 L142.1 654.7 L142.8 654.7 L143.5 654.6 L144.2 654.8 L144.9 654.1 L145.6 655.2 L146.3 654.8 L147.0 655.3 L147.7 655.5 L148.4 655.1 L149.1 654.4 L149.8 654.3 L150.5 655.4 L151.2 655.4 L151.9 654.2 L152.6 654.5 L153.3 655.5 L154.0 655.0 L154.7 655.5 L155.4 655.3" fill="none" stroke="#222" stroke-width="1.35" stroke-dasharray="1.8 1.3"/>
<path d="M197.7 630.7 L198.4 629.0 L199.1 630.9 L199.8 632.6 L200.5 628.8 L201.2 626.2 L201.9 626.5 L202.6 625.0 L203.3 629.8 L204.0 627.4 L204.7 623.8 L205.4 622.7 L206.1 622.8 L206.8 620.7 L207.5 619.0 L208.2 613.3 L208.9 612.8 L209.6 611.5 L210.3 615.3 L211.0 613.5 L211.7 617.6 L212.4 614.3 L213.1 612.2 L213.8 614.8 L214.5 609.9 L215.2 607.0 L215.9 608.3 L216.6 604.6 L217.3 608.5 L218.0 604.6 L218.7 604.7 L219.4 608.6 L220.1 604.8 L220.8 609.9 L221.5 606.9 L222.2 611.2 L222.9 613.2 L223.6 619.9 L224.3 622.5 L225.0 618.6 L225.7 618.5 L226.4 615.1 L227.1 615.0 L227.8 611.7 L228.5 609.0 L229.2 609.8 L229.9 614.4 L230.6 620.2 L231.3 620.0 L232.0 622.4 L232.7 629.1 L233.4 629.0 L234.1 631.2 L234.8 633.3 L235.5 634.2 L236.2 635.4 L236.9 635.4 L237.6 638.9 L238.3 639.3 L239.0 641.8 L239.7 641.2 L240.4 640.9 L241.1 644.2 L241.8 647.2 L242.5 646.7 L243.2 646.6 L243.9 646.8 L244.6 647.4 L245.3 648.4 L246.0 648.2 L246.7 650.7 L247.4 649.8 L248.1 650.5 L248.8 651.9 L249.5 652.2 L250.2 651.2 L250.9 651.8 L251.6 652.3 L252.3 651.9 L253.0 651.1 L253.7 652.8 L254.4 653.0 L255.1 652.7 L255.8 651.9 L256.5 652.4 L257.2 652.3 L257.9 652.5 L258.6 653.5 L259.3 653.7 L260.0 653.2 L260.7 653.2 L261.4 653.3 L262.1 653.0 L262.8 652.9 L263.5 652.6 L264.2 652.9 L264.9 654.0 L265.6 653.5 L266.3 652.8 L267.0 652.7 L267.7 652.4 L268.4 653.2 L269.1 653.2 L269.8 652.1 L270.5 653.2 L271.2 652.6 L271.9 653.7 L272.6 653.0 L273.3 653.9 L274.0 652.6 L274.7 652.7 L275.4 653.1 L276.1 653.5 L276.8 653.2 L277.5 652.1 L278.2 653.0 L278.9 652.9 L279.6 652.6 L280.3 652.4 L281.0 653.9 L281.7 652.6 L282.4 652.3 L283.1 653.2 L283.8 652.9 L284.5 652.4 L285.2 652.4 L285.9 651.7 L286.6 651.1 L287.3 651.0 L288.0 650.0 L288.7 649.9 L289.4 650.6 L290.1 651.0 L290.8 652.0 L291.5 651.8 L292.2 651.7 L292.9 652.9 L293.6 652.0 L294.3 651.7 L295.0 653.1 L295.7 652.4 L296.4 653.1 L297.1 652.6 L297.8 652.2 L298.5 652.2 L299.2 652.6 L299.9 652.7 L300.6 652.4 L301.3 652.8 L302.0 652.0 L302.7 652.9 L303.4 651.9 L304.1 652.8 L304.8 653.4 L305.5 653.6 L306.2 654.0 L306.9 652.1 L307.6 653.4 L308.3 653.7 L309.0 653.6 L309.7 652.5 L310.4 653.3 L311.1 654.0 L311.8 652.2 L312.5 653.3 L313.2 653.7 L313.9 652.7 L314.6 653.4 L315.3 652.5 L316.0 652.6 L316.7 652.7 L317.4 653.2 L318.1 653.1 L318.8 653.7 L319.5 652.6 L320.2 653.1 L320.9 653.7 L321.6 653.5 L322.3 652.4 L323.0 653.6 L323.7 652.9 L324.4 653.4 L325.1 653.4 L325.8 653.9 L326.5 653.3 L327.2 652.2 L327.9 652.5 L328.6 653.7 L329.3 653.1 L330.0 653.9 L330.7 653.4" fill="none" stroke="#111" stroke-width="1.2"/>
<path d="M197.7 649.7 L198.4 650.5 L199.1 648.1 L199.8 648.5 L200.5 647.3 L201.2 650.6 L201.9 649.5 L202.6 649.4 L203.3 647.6 L204.0 647.2 L204.7 645.1 L205.4 647.8 L206.1 644.9 L206.8 645.2 L207.5 645.3 L208.2 645.0 L208.9 646.7 L209.6 646.0 L210.3 646.4 L211.0 646.5 L211.7 648.1 L212.4 646.1 L213.1 646.0 L213.8 646.1 L214.5 643.7 L215.2 644.3 L215.9 644.8 L216.6 645.0 L217.3 643.6 L218.0 642.2 L218.7 644.0 L219.4 641.8 L220.1 641.4 L220.8 640.5 L221.5 639.2 L222.2 637.5 L222.9 637.5 L223.6 634.1 L224.3 633.5 L225.0 632.3 L225.7 629.5 L226.4 628.5 L227.1 626.2 L227.8 623.4 L228.5 620.3 L229.2 618.7 L229.9 615.6 L230.6 609.6 L231.3 598.0 L232.0 601.4 L232.7 591.8 L233.4 587.3 L234.1 584.9 L234.8 573.6 L235.5 574.9 L236.2 580.6 L236.9 580.8 L237.6 577.6 L238.3 580.8 L239.0 581.9 L239.7 581.2 L240.4 586.8 L241.1 588.6 L241.8 594.0 L242.5 594.7 L243.2 598.8 L243.9 600.5 L244.6 600.4 L245.3 610.8 L246.0 609.3 L246.7 613.5 L247.4 619.1 L248.1 620.7 L248.8 624.1 L249.5 627.6 L250.2 628.7 L250.9 635.4 L251.6 637.2 L252.3 638.8 L253.0 643.0 L253.7 644.8 L254.4 646.2 L255.1 648.5 L255.8 649.8 L256.5 651.3 L257.2 651.4 L257.9 651.8 L258.6 650.7 L259.3 651.7 L260.0 651.2 L260.7 652.3 L261.4 651.3 L262.1 650.9 L262.8 652.2 L263.5 654.0 L264.2 653.5 L264.9 653.0 L265.6 654.0 L266.3 652.9 L267.0 652.9 L267.7 653.5 L268.4 653.2 L269.1 653.0 L269.8 652.8 L270.5 653.0 L271.2 653.6 L271.9 652.3 L272.6 652.6 L273.3 653.8 L274.0 654.0 L274.7 652.0 L275.4 653.3 L276.1 654.0 L276.8 652.9 L277.5 652.7 L278.2 653.8 L278.9 652.7 L279.6 652.7 L280.3 652.7 L281.0 652.3 L281.7 651.7 L282.4 653.7 L283.1 654.0 L283.8 653.2 L284.5 653.0 L285.2 653.4 L285.9 653.0 L286.6 652.1 L287.3 652.4 L288.0 653.3 L288.7 652.9 L289.4 652.2 L290.1 652.3 L290.8 653.7 L291.5 652.3 L292.2 653.8 L292.9 653.4 L293.6 652.6 L294.3 653.0 L295.0 653.2 L295.7 653.3 L296.4 653.3 L297.1 654.0 L297.8 653.7 L298.5 652.9 L299.2 653.1 L299.9 652.6 L300.6 652.9 L301.3 653.2 L302.0 651.8 L302.7 653.2 L303.4 653.1 L304.1 653.0 L304.8 652.4 L305.5 652.9 L306.2 652.8 L306.9 653.2 L307.6 651.8 L308.3 653.0 L309.0 653.5 L309.7 652.7 L310.4 652.7 L311.1 653.6 L311.8 654.0 L312.5 653.6 L313.2 653.6 L313.9 653.2 L314.6 653.7 L315.3 653.6 L316.0 652.7 L316.7 653.4 L317.4 653.7 L318.1 652.8 L318.8 653.5 L319.5 653.9 L320.2 653.8 L320.9 653.2 L321.6 654.0 L322.3 653.8 L323.0 653.1 L323.7 652.2 L324.4 653.1 L325.1 653.3 L325.8 653.1 L326.5 653.3 L327.2 654.0 L327.9 653.7 L328.6 654.0 L329.3 652.5 L330.0 653.3 L330.7 654.0" fill="none" stroke="#222" stroke-width="1.35" stroke-dasharray="1.8 1.3"/>
<path d="M376.1 646.5 L376.8 645.6 L377.5 644.2 L378.2 644.1 L378.9 642.6 L379.6 641.3 L380.3 639.0 L381.0 638.9 L381.7 637.8 L382.4 635.9 L383.1 636.0 L383.8 636.1 L384.5 633.0 L385.2 632.5 L385.9 632.9 L386.6 629.9 L387.3 630.3 L388.0 625.8 L388.7 625.7 L389.4 626.7 L390.1 624.6 L390.8 622.5 L391.5 622.5 L392.2 620.3 L392.9 619.2 L393.6 616.4 L394.3 615.9 L395.0 614.3 L395.7 611.3 L396.4 606.8 L397.1 608.7 L397.8 612.1 L398.5 602.3 L399.2 604.0 L399.9 603.3 L400.6 602.3 L401.3 601.7 L402.0 599.3 L402.7 597.4 L403.4 598.3 L404.1 596.5 L404.8 596.8 L405.5 594.1 L406.2 594.0 L406.9 590.9 L407.6 588.4 L408.3 598.2 L409.0 598.2 L409.7 600.9 L410.4 606.8 L411.1 606.0 L411.8 609.9 L412.5 612.4 L413.2 613.8 L413.9 616.1 L414.6 623.2 L415.3 625.2 L416.0 628.1 L416.7 632.6 L417.4 632.8 L418.1 638.3 L418.8 636.2 L419.5 636.4 L420.2 640.7 L420.9 642.4 L421.6 644.5 L422.3 643.1 L423.0 644.1 L423.7 645.1 L424.4 648.1 L425.1 644.6 L425.8 647.1 L426.5 647.2 L427.2 646.9 L427.9 647.8 L428.6 648.6 L429.3 648.1 L430.0 649.2 L430.7 650.0 L431.4 650.4 L432.1 649.8 L432.8 650.1 L433.5 650.5 L434.2 651.3 L434.9 651.0 L435.6 651.9 L436.3 651.6 L437.0 650.3 L437.7 652.2 L438.4 651.0 L439.1 651.8 L439.8 651.4 L440.5 652.1 L441.2 651.4 L441.9 651.5 L442.6 650.2 L443.3 652.3 L444.0 651.4 L444.7 651.1 L445.4 652.2 L446.1 651.7 L446.8 651.5 L447.5 651.6 L448.2 651.3 L448.9 650.5 L449.6 650.3 L450.3 651.9 L451.0 651.9 L451.7 651.6 L452.4 651.4 L453.1 651.8 L453.8 651.9 L454.5 651.4 L455.2 651.8 L455.9 651.7 L456.6 650.7 L457.3 651.6 L458.0 650.3 L458.7 649.4 L459.4 651.5 L460.1 650.7 L460.8 652.0 L461.5 649.3 L462.2 650.6 L462.9 649.4 L463.6 649.4 L464.3 648.0 L465.0 650.5 L465.7 647.9 L466.4 649.5 L467.1 647.5 L467.8 646.9 L468.5 647.6 L469.2 649.7 L469.9 648.5 L470.6 649.4 L471.3 650.7 L472.0 650.8 L472.7 649.4 L473.4 650.1 L474.1 651.6 L474.8 650.1 L475.5 651.4 L476.2 651.0 L476.9 650.1 L477.6 651.3 L478.3 650.8 L479.0 651.4 L479.7 650.9 L480.4 652.0 L481.1 651.7 L481.8 652.5 L482.5 651.3 L483.2 652.0 L483.9 653.0 L484.6 653.2 L485.3 653.1 L486.0 653.1 L486.7 652.1 L487.4 652.8 L488.1 653.0 L488.8 652.8 L489.5 653.0 L490.2 652.4 L490.9 653.1 L491.6 652.5 L492.3 652.2 L493.0 651.8 L493.7 653.4 L494.4 652.0 L495.1 652.2 L495.8 651.9 L496.5 653.9 L497.2 653.9 L497.9 652.4 L498.6 651.8 L499.3 652.4 L500.0 652.5 L500.7 652.6 L501.4 653.2 L502.1 652.4 L502.8 652.9 L503.5 653.2 L504.2 653.2 L504.9 653.2 L505.6 652.7 L506.3 653.0 L507.0 653.5 L507.7 652.4 L508.4 653.7 L509.1 652.9 L509.8 653.7 L510.5 652.2" fill="none" stroke="#111" stroke-width="1.2"/>
<path d="M376.1 652.7 L376.8 652.2 L377.5 650.5 L378.2 651.5 L378.9 651.7 L379.6 650.7 L380.3 651.2 L381.0 651.0 L381.7 650.7 L382.4 650.5 L383.1 650.8 L383.8 651.2 L384.5 649.4 L385.2 650.8 L385.9 649.9 L386.6 649.9 L387.3 648.5 L388.0 649.3 L388.7 650.1 L389.4 647.8 L390.1 646.9 L390.8 646.9 L391.5 648.3 L392.2 649.8 L392.9 648.4 L393.6 648.5 L394.3 646.8 L395.0 647.6 L395.7 645.7 L396.4 646.2 L397.1 645.0 L397.8 644.2 L398.5 644.3 L399.2 643.2 L399.9 644.5 L400.6 642.9 L401.3 642.6 L402.0 641.3 L402.7 642.2 L403.4 639.1 L404.1 639.7 L404.8 637.6 L405.5 636.0 L406.2 635.5 L406.9 633.8 L407.6 633.2 L408.3 631.6 L409.0 631.1 L409.7 630.1 L410.4 627.3 L411.1 625.7 L411.8 624.4 L412.5 621.4 L413.2 621.4 L413.9 619.8 L414.6 616.6 L415.3 617.4 L416.0 612.2 L416.7 607.7 L417.4 604.3 L418.1 602.3 L418.8 600.0 L419.5 601.1 L420.2 592.8 L420.9 586.7 L421.6 587.1 L422.3 594.9 L423.0 591.3 L423.7 592.8 L424.4 592.7 L425.1 594.3 L425.8 595.5 L426.5 595.2 L427.2 595.3 L427.9 592.1 L428.6 595.6 L429.3 588.0 L430.0 597.1 L430.7 598.8 L431.4 603.1 L432.1 611.6 L432.8 615.0 L433.5 613.2 L434.2 619.9 L434.9 624.0 L435.6 625.0 L436.3 631.6 L437.0 635.4 L437.7 638.0 L438.4 638.4 L439.1 643.5 L439.8 644.0 L440.5 645.1 L441.2 645.9 L441.9 648.0 L442.6 648.8 L443.3 648.3 L444.0 649.5 L444.7 650.2 L445.4 648.3 L446.1 650.0 L446.8 648.7 L447.5 649.6 L448.2 650.9 L448.9 650.6 L449.6 650.6 L450.3 650.8 L451.0 651.6 L451.7 651.4 L452.4 650.3 L453.1 651.1 L453.8 650.5 L454.5 652.5 L455.2 650.3 L455.9 650.5 L456.6 650.5 L457.3 650.4 L458.0 650.8 L458.7 650.8 L459.4 649.4 L460.1 650.2 L460.8 649.6 L461.5 651.4 L462.2 652.2 L462.9 651.1 L463.6 650.0 L464.3 650.2 L465.0 649.1 L465.7 650.0 L466.4 648.9 L467.1 647.9 L467.8 647.5 L468.5 648.2 L469.2 649.4 L469.9 648.5 L470.6 649.6 L471.3 651.2 L472.0 650.5 L472.7 652.0 L473.4 651.7 L474.1 650.4 L474.8 649.7 L475.5 650.7 L476.2 650.4 L476.9 651.1 L477.6 652.0 L478.3 650.1 L479.0 650.7 L479.7 651.3 L480.4 651.9 L481.1 651.5 L481.8 651.5 L482.5 652.2 L483.2 651.6 L483.9 651.2 L484.6 651.4 L485.3 650.9 L486.0 651.8 L486.7 652.2 L487.4 649.6 L488.1 652.4 L488.8 651.6 L489.5 652.0 L490.2 652.2 L490.9 650.3 L491.6 651.1 L492.3 651.7 L493.0 651.4 L493.7 652.2 L494.4 651.7 L495.1 651.0 L495.8 652.5 L496.5 652.9 L497.2 652.6 L497.9 651.8 L498.6 652.2 L499.3 652.7 L500.0 652.8 L500.7 653.1 L501.4 652.4 L502.1 651.7 L502.8 652.2 L503.5 653.0 L504.2 653.2 L504.9 653.9 L505.6 652.9 L506.3 653.0 L507.0 652.8 L507.7 652.7 L508.4 653.5 L509.1 653.3 L509.8 653.0 L510.5 652.6" fill="none" stroke="#222" stroke-width="1.35" stroke-dasharray="1.8 1.3"/>
<path d="M94 233h1v1h-1zM95 234h1v1h-1zM55 235h1v1h-1zM54 236h1v1h-1zM433 236h1v1h-1zM435 236h1v1h-1zM70 237h1v1h-1zM434 237h1v1h-1zM474 237h1v1h-1zM477 237h1v1h-1zM480 237h1v1h-1zM66 238h1v1h-1zM68 238h1v1h-1zM71 238h1v1h-1zM77 238h1v1h-1zM81 238h1v1h-1zM83 238h1v1h-1zM85 238h1v1h-1zM99 238h1v1h-1zM414 238h1v1h-1zM453 238h1v1h-1zM467 238h1v1h-1zM471 238h1v1h-1zM475 238h2v1h-2zM479 238h1v1h-1zM65 239h1v1h-1zM67 239h1v1h-1zM69 239h2v1h-2zM72 239h1v1h-1zM75 239h2v1h-2zM80 239h1v1h-1zM84 239h1v1h-1zM87 239h1v1h-1zM111 239h1v1h-1zM413 239h1v1h-1zM415 239h1v1h-1zM429 239h1v1h-1zM452 239h1v1h-1zM454 239h1v1h-1zM457 239h1v1h-1zM459 239h1v1h-1zM462 239h1v1h-1zM464 239h1v1h-1zM466 239h1v1h-1zM470 239h1v1h-1zM478 239h1v1h-1zM480 239h1v1h-1zM61 240h1v1h-1zM63 240h2v1h-2zM66 240h1v1h-1zM76 240h1v1h-1zM79 240h1v1h-1zM81 240h2v1h-2zM84 240h1v1h-1zM86 240h1v1h-1zM88 240h1v1h-1zM110 240h1v1h-1zM117 240h1v1h-1zM124 240h1v1h-1zM290 240h1v1h-1zM294 240h1v1h-1zM296 240h1v1h-1zM300 240h1v1h-1zM413 240h1v1h-1zM415 240h1v1h-1zM430 240h2v1h-2zM453 240h1v1h-1zM455 240h1v1h-1zM458 240h1v1h-1zM465 240h1v1h-1zM481 240h1v1h-1zM82 241h2v1h-2zM85 241h2v1h-2zM107 241h1v1h-1zM118 241h1v1h-1zM125 241h1v1h-1zM285 241h1v1h-1zM293 241h1v1h-1zM296 241h1v1h-1zM301 241h1v1h-1zM412 241h1v1h-1zM414 241h1v1h-1zM422 241h1v1h-1zM428 241h1v1h-1zM434 241h1v1h-1zM460 241h2v1h-2zM478 241h1v1h-1zM480 241h1v1h-1zM482 241h1v1h-1zM62 242h1v1h-1zM70 242h1v1h-1zM79 242h1v1h-1zM89 242h1v1h-1zM97 242h1v1h-1zM104 242h1v1h-1zM106 242h1v1h-1zM108 242h1v1h-1zM110 242h1v1h-1zM112 242h1v1h-1zM116 242h1v1h-1zM284 242h1v1h-1zM287 242h1v1h-1zM292 242h1v1h-1zM300 242h1v1h-1zM413 242h1v1h-1zM415 242h1v1h-1zM417 242h1v1h-1zM420 242h1v1h-1zM423 242h1v1h-1zM429 242h1v1h-1zM431 242h1v1h-1zM433 242h1v1h-1zM454 242h1v1h-1zM458 242h1v1h-1zM481 242h1v1h-1zM53 243h1v1h-1zM60 243h1v1h-1zM67 243h1v1h-1zM73 243h1v1h-1zM90 243h1v1h-1zM92 243h2v1h-2zM96 243h1v1h-1zM98 243h2v1h-2zM101 243h1v1h-1zM103 243h1v1h-1zM105 243h1v1h-1zM107 243h1v1h-1zM109 243h1v1h-1zM113 243h2v1h-2zM118 243h1v1h-1zM121 243h1v1h-1zM252 243h1v1h-1zM286 243h1v1h-1zM303 243h1v1h-1zM411 243h1v1h-1zM414 243h1v1h-1zM419 243h1v1h-1zM421 243h1v1h-1zM424 243h1v1h-1zM428 243h1v1h-1zM430 243h1v1h-1zM432 243h1v1h-1zM434 243h1v1h-1zM449 243h1v1h-1zM455 243h1v1h-1zM457 243h2v1h-2zM59 244h1v1h-1zM91 244h1v1h-1zM107 244h1v1h-1zM115 244h2v1h-2zM120 244h1v1h-1zM122 244h1v1h-1zM124 244h1v1h-1zM238 244h1v1h-1zM240 244h1v1h-1zM246 244h1v1h-1zM253 244h1v1h-1zM279 244h1v1h-1zM281 244h1v1h-1zM284 244h1v1h-1zM315 244h1v1h-1zM412 244h2v1h-2zM418 244h1v1h-1zM427 244h1v1h-1zM429 244h1v1h-1zM431 244h1v1h-1zM434 244h1v1h-1zM436 244h1v1h-1zM444 244h1v1h-1zM447 244h1v1h-1zM449 244h2v1h-2zM452 244h3v1h-3zM459 244h1v1h-1zM478 244h2v1h-2zM83 245h1v1h-1zM89 245h2v1h-2zM103 245h1v1h-1zM107 245h1v1h-1zM114 245h1v1h-1zM119 245h1v1h-1zM122 245h2v1h-2zM229 245h1v1h-1zM231 245h1v1h-1zM242 245h1v1h-1zM245 245h1v1h-1zM247 245h1v1h-1zM256 245h1v1h-1zM271 245h1v1h-1zM280 245h1v1h-1zM282 245h1v1h-1zM290 245h1v1h-1zM295 245h1v1h-1zM303 245h1v1h-1zM314 245h1v1h-1zM409 245h1v1h-1zM411 245h1v1h-1zM414 245h1v1h-1zM420 245h1v1h-1zM424 245h2v1h-2zM428 245h1v1h-1zM431 245h1v1h-1zM433 245h1v1h-1zM435 245h1v1h-1zM437 245h1v1h-1zM444 245h1v1h-1zM446 245h1v1h-1zM452 245h1v1h-1zM457 245h2v1h-2zM479 245h1v1h-1zM59 246h1v1h-1zM85 246h1v1h-1zM91 246h1v1h-1zM230 246h1v1h-1zM233 246h1v1h-1zM235 246h1v1h-1zM237 246h1v1h-1zM240 246h1v1h-1zM242 246h1v1h-1zM245 246h1v1h-1zM249 246h2v1h-2zM252 246h2v1h-2zM257 246h1v1h-1zM270 246h1v1h-1zM276 246h1v1h-1zM281 246h1v1h-1zM283 246h1v1h-1zM304 246h2v1h-2zM408 246h1v1h-1zM410 246h1v1h-1zM412 246h1v1h-1zM418 246h1v1h-1zM420 246h1v1h-1zM429 246h2v1h-2zM433 246h1v1h-1zM436 246h1v1h-1zM445 246h1v1h-1zM448 246h1v1h-1zM452 246h2v1h-2zM481 246h1v1h-1zM57 247h1v1h-1zM67 247h1v1h-1zM74 247h1v1h-1zM86 247h1v1h-1zM109 247h1v1h-1zM122 247h1v1h-1zM229 247h1v1h-1zM236 247h1v1h-1zM240 247h1v1h-1zM242 247h1v1h-1zM244 247h1v1h-1zM255 247h1v1h-1zM257 247h1v1h-1zM262 247h1v1h-1zM269 247h1v1h-1zM271 247h1v1h-1zM275 247h1v1h-1zM279 247h2v1h-2zM294 247h2v1h-2zM407 247h1v1h-1zM409 247h1v1h-1zM411 247h1v1h-1zM413 247h1v1h-1zM415 247h1v1h-1zM420 247h1v1h-1zM429 247h1v1h-1zM432 247h1v1h-1zM434 247h2v1h-2zM446 247h1v1h-1zM449 247h3v1h-3zM454 247h1v1h-1zM457 247h1v1h-1zM479 247h2v1h-2zM482 247h1v1h-1zM58 248h1v1h-1zM67 248h1v1h-1zM100 248h1v1h-1zM123 248h1v1h-1zM228 248h1v1h-1zM231 248h1v1h-1zM254 248h2v1h-2zM258 248h1v1h-1zM261 248h1v1h-1zM263 248h1v1h-1zM267 248h1v1h-1zM271 248h1v1h-1zM273 248h1v1h-1zM276 248h1v1h-1zM278 248h1v1h-1zM281 248h1v1h-1zM283 248h1v1h-1zM286 248h1v1h-1zM290 248h1v1h-1zM294 248h2v1h-2zM299 248h1v1h-1zM301 248h1v1h-1zM304 248h1v1h-1zM411 248h1v1h-1zM413 248h1v1h-1zM421 248h2v1h-2zM427 248h2v1h-2zM430 248h2v1h-2zM433 248h1v1h-1zM441 248h1v1h-1zM445 248h1v1h-1zM447 248h1v1h-1zM452 248h1v1h-1zM457 248h1v1h-1zM477 248h1v1h-1zM71 249h1v1h-1zM79 249h1v1h-1zM81 249h1v1h-1zM90 249h1v1h-1zM92 249h1v1h-1zM96 249h1v1h-1zM101 249h1v1h-1zM119 249h1v1h-1zM122 249h1v1h-1zM124 249h1v1h-1zM224 249h1v1h-1zM226 249h1v1h-1zM247 249h1v1h-1zM263 249h1v1h-1zM265 249h1v1h-1zM268 249h1v1h-1zM274 249h1v1h-1zM276 249h1v1h-1zM280 249h1v1h-1zM282 249h1v1h-1zM285 249h2v1h-2zM304 249h1v1h-1zM407 249h1v1h-1zM411 249h1v1h-1zM415 249h1v1h-1zM417 249h1v1h-1zM426 249h1v1h-1zM430 249h1v1h-1zM432 249h1v1h-1zM440 249h1v1h-1zM442 249h1v1h-1zM449 249h1v1h-1zM451 249h1v1h-1zM453 249h2v1h-2zM456 249h1v1h-1zM59 250h1v1h-1zM223 250h1v1h-1zM254 250h1v1h-1zM256 250h1v1h-1zM264 250h1v1h-1zM267 250h1v1h-1zM269 250h2v1h-2zM272 250h1v1h-1zM277 250h1v1h-1zM281 250h1v1h-1zM293 250h1v1h-1zM305 250h1v1h-1zM406 250h1v1h-1zM408 250h2v1h-2zM416 250h1v1h-1zM418 250h1v1h-1zM421 250h1v1h-1zM423 250h2v1h-2zM426 250h1v1h-1zM428 250h2v1h-2zM431 250h1v1h-1zM435 250h1v1h-1zM439 250h1v1h-1zM441 250h1v1h-1zM447 250h1v1h-1zM450 250h1v1h-1zM455 250h1v1h-1zM457 250h2v1h-2zM478 250h1v1h-1zM480 250h1v1h-1zM56 251h1v1h-1zM58 251h1v1h-1zM69 251h1v1h-1zM79 251h1v1h-1zM81 251h1v1h-1zM99 251h1v1h-1zM107 251h1v1h-1zM111 251h1v1h-1zM114 251h1v1h-1zM122 251h1v1h-1zM218 251h1v1h-1zM220 251h1v1h-1zM252 251h1v1h-1zM257 251h1v1h-1zM268 251h1v1h-1zM271 251h1v1h-1zM273 251h2v1h-2zM276 251h1v1h-1zM278 251h1v1h-1zM287 251h1v1h-1zM296 251h1v1h-1zM299 251h1v1h-1zM304 251h1v1h-1zM407 251h1v1h-1zM411 251h1v1h-1zM417 251h1v1h-1zM423 251h1v1h-1zM425 251h1v1h-1zM428 251h1v1h-1zM430 251h1v1h-1zM432 251h1v1h-1zM434 251h1v1h-1zM436 251h1v1h-1zM438 251h1v1h-1zM442 251h1v1h-1zM446 251h1v1h-1zM448 251h1v1h-1zM450 251h1v1h-1zM454 251h1v1h-1zM482 251h1v1h-1zM59 252h1v1h-1zM63 252h1v1h-1zM99 252h1v1h-1zM214 252h1v1h-1zM271 252h1v1h-1zM273 252h1v1h-1zM275 252h1v1h-1zM281 252h1v1h-1zM283 252h1v1h-1zM290 252h1v1h-1zM304 252h2v1h-2zM407 252h2v1h-2zM410 252h1v1h-1zM415 252h2v1h-2zM422 252h1v1h-1zM424 252h1v1h-1zM426 252h1v1h-1zM428 252h1v1h-1zM430 252h1v1h-1zM433 252h1v1h-1zM437 252h1v1h-1zM440 252h2v1h-2zM445 252h1v1h-1zM447 252h1v1h-1zM449 252h1v1h-1zM451 252h1v1h-1zM453 252h1v1h-1zM455 252h1v1h-1zM478 252h2v1h-2zM57 253h1v1h-1zM59 253h1v1h-1zM79 253h1v1h-1zM100 253h2v1h-2zM109 253h1v1h-1zM213 253h1v1h-1zM217 253h1v1h-1zM220 253h1v1h-1zM224 253h1v1h-1zM242 253h1v1h-1zM268 253h1v1h-1zM270 253h1v1h-1zM272 253h1v1h-1zM276 253h1v1h-1zM278 253h1v1h-1zM281 253h1v1h-1zM283 253h1v1h-1zM288 253h2v1h-2zM294 253h1v1h-1zM406 253h1v1h-1zM409 253h2v1h-2zM412 253h1v1h-1zM417 253h1v1h-1zM421 253h1v1h-1zM423 253h1v1h-1zM425 253h1v1h-1zM427 253h1v1h-1zM429 253h1v1h-1zM439 253h1v1h-1zM446 253h1v1h-1zM448 253h1v1h-1zM451 253h2v1h-2zM457 253h2v1h-2zM477 253h1v1h-1zM479 253h1v1h-1zM483 253h1v1h-1zM61 254h1v1h-1zM74 254h1v1h-1zM104 254h1v1h-1zM216 254h1v1h-1zM226 254h1v1h-1zM248 254h1v1h-1zM264 254h1v1h-1zM272 254h1v1h-1zM275 254h1v1h-1zM279 254h1v1h-1zM281 254h1v1h-1zM286 254h1v1h-1zM304 254h1v1h-1zM411 254h1v1h-1zM416 254h1v1h-1zM419 254h1v1h-1zM421 254h1v1h-1zM424 254h1v1h-1zM426 254h1v1h-1zM428 254h1v1h-1zM437 254h1v1h-1zM440 254h2v1h-2zM443 254h1v1h-1zM450 254h1v1h-1zM453 254h1v1h-1zM477 254h1v1h-1zM480 254h1v1h-1zM482 254h1v1h-1zM59 255h1v1h-1zM61 255h1v1h-1zM74 255h2v1h-2zM85 255h1v1h-1zM108 255h1v1h-1zM124 255h1v1h-1zM218 255h1v1h-1zM259 255h1v1h-1zM264 255h1v1h-1zM270 255h2v1h-2zM276 255h1v1h-1zM278 255h1v1h-1zM280 255h1v1h-1zM282 255h2v1h-2zM289 255h1v1h-1zM291 255h1v1h-1zM295 255h1v1h-1zM297 255h1v1h-1zM410 255h1v1h-1zM413 255h1v1h-1zM417 255h1v1h-1zM420 255h1v1h-1zM424 255h1v1h-1zM427 255h1v1h-1zM436 255h1v1h-1zM438 255h2v1h-2zM444 255h1v1h-1zM447 255h1v1h-1zM449 255h1v1h-1zM451 255h2v1h-2zM455 255h1v1h-1zM458 255h1v1h-1zM479 255h1v1h-1zM60 256h1v1h-1zM93 256h1v1h-1zM112 256h1v1h-1zM118 256h1v1h-1zM123 256h1v1h-1zM216 256h1v1h-1zM218 256h1v1h-1zM228 256h1v1h-1zM257 256h1v1h-1zM260 256h1v1h-1zM265 256h1v1h-1zM269 256h1v1h-1zM274 256h2v1h-2zM279 256h2v1h-2zM283 256h1v1h-1zM286 256h1v1h-1zM407 256h1v1h-1zM409 256h1v1h-1zM411 256h1v1h-1zM421 256h1v1h-1zM423 256h1v1h-1zM425 256h1v1h-1zM431 256h1v1h-1zM445 256h2v1h-2zM448 256h2v1h-2zM453 256h2v1h-2zM457 256h1v1h-1zM478 256h1v1h-1zM481 256h1v1h-1zM483 256h1v1h-1zM61 257h1v1h-1zM70 257h1v1h-1zM83 257h1v1h-1zM92 257h1v1h-1zM98 257h1v1h-1zM103 257h1v1h-1zM108 257h1v1h-1zM117 257h1v1h-1zM122 257h1v1h-1zM222 257h1v1h-1zM228 257h2v1h-2zM266 257h1v1h-1zM268 257h1v1h-1zM270 257h2v1h-2zM276 257h2v1h-2zM279 257h1v1h-1zM283 257h1v1h-1zM291 257h1v1h-1zM300 257h1v1h-1zM303 257h1v1h-1zM408 257h1v1h-1zM410 257h1v1h-1zM420 257h1v1h-1zM422 257h1v1h-1zM425 257h1v1h-1zM428 257h1v1h-1zM432 257h1v1h-1zM439 257h2v1h-2zM448 257h1v1h-1zM450 257h1v1h-1zM452 257h1v1h-1zM456 257h1v1h-1zM458 257h2v1h-2zM479 257h2v1h-2zM482 257h1v1h-1zM62 258h1v1h-1zM71 258h1v1h-1zM88 258h1v1h-1zM90 258h1v1h-1zM94 258h1v1h-1zM106 258h1v1h-1zM115 258h2v1h-2zM118 258h1v1h-1zM120 258h1v1h-1zM214 258h1v1h-1zM218 258h1v1h-1zM221 258h1v1h-1zM230 258h1v1h-1zM260 258h1v1h-1zM265 258h1v1h-1zM271 258h1v1h-1zM273 258h1v1h-1zM278 258h1v1h-1zM296 258h1v1h-1zM407 258h1v1h-1zM409 258h1v1h-1zM413 258h1v1h-1zM423 258h2v1h-2zM426 258h2v1h-2zM437 258h1v1h-1zM442 258h1v1h-1zM444 258h1v1h-1zM446 258h1v1h-1zM451 258h1v1h-1zM453 258h1v1h-1zM455 258h1v1h-1zM457 258h1v1h-1zM459 258h1v1h-1zM477 258h2v1h-2zM481 258h1v1h-1zM49 259h1v1h-1zM61 259h1v1h-1zM65 259h1v1h-1zM95 259h1v1h-1zM97 259h2v1h-2zM100 259h1v1h-1zM102 259h1v1h-1zM108 259h1v1h-1zM111 259h1v1h-1zM113 259h1v1h-1zM115 259h1v1h-1zM213 259h1v1h-1zM217 259h1v1h-1zM219 259h1v1h-1zM222 259h1v1h-1zM224 259h1v1h-1zM253 259h1v1h-1zM263 259h2v1h-2zM267 259h2v1h-2zM273 259h1v1h-1zM276 259h1v1h-1zM280 259h1v1h-1zM282 259h2v1h-2zM286 259h1v1h-1zM288 259h1v1h-1zM301 259h1v1h-1zM412 259h1v1h-1zM421 259h1v1h-1zM425 259h1v1h-1zM432 259h1v1h-1zM435 259h1v1h-1zM439 259h2v1h-2zM443 259h1v1h-1zM445 259h1v1h-1zM449 259h1v1h-1zM452 259h1v1h-1zM454 259h1v1h-1zM456 259h1v1h-1zM475 259h1v1h-1zM477 259h1v1h-1zM480 259h1v1h-1zM50 260h1v1h-1zM63 260h1v1h-1zM65 260h1v1h-1zM69 260h2v1h-2zM72 260h1v1h-1zM75 260h1v1h-1zM86 260h1v1h-1zM88 260h1v1h-1zM100 260h1v1h-1zM103 260h3v1h-3zM109 260h1v1h-1zM112 260h1v1h-1zM114 260h1v1h-1zM218 260h2v1h-2zM221 260h1v1h-1zM224 260h1v1h-1zM227 260h1v1h-1zM233 260h1v1h-1zM237 260h1v1h-1zM262 260h1v1h-1zM267 260h1v1h-1zM270 260h1v1h-1zM272 260h1v1h-1zM274 260h1v1h-1zM276 260h1v1h-1zM279 260h1v1h-1zM284 260h1v1h-1zM288 260h1v1h-1zM294 260h1v1h-1zM299 260h1v1h-1zM304 260h1v1h-1zM418 260h2v1h-2zM431 260h1v1h-1zM438 260h1v1h-1zM444 260h1v1h-1zM446 260h1v1h-1zM448 260h1v1h-1zM450 260h2v1h-2zM453 260h1v1h-1zM455 260h1v1h-1zM460 260h1v1h-1zM475 260h1v1h-1zM66 261h2v1h-2zM71 261h1v1h-1zM75 261h1v1h-1zM77 261h1v1h-1zM81 261h1v1h-1zM85 261h1v1h-1zM87 261h1v1h-1zM99 261h1v1h-1zM101 261h1v1h-1zM106 261h1v1h-1zM113 261h1v1h-1zM115 261h1v1h-1zM117 261h1v1h-1zM119 261h1v1h-1zM124 261h1v1h-1zM132 261h1v1h-1zM220 261h1v1h-1zM223 261h1v1h-1zM226 261h1v1h-1zM228 261h1v1h-1zM236 261h1v1h-1zM260 261h1v1h-1zM266 261h2v1h-2zM273 261h1v1h-1zM275 261h1v1h-1zM278 261h1v1h-1zM280 261h1v1h-1zM283 261h1v1h-1zM298 261h1v1h-1zM301 261h1v1h-1zM303 261h1v1h-1zM411 261h1v1h-1zM413 261h1v1h-1zM417 261h1v1h-1zM422 261h1v1h-1zM427 261h1v1h-1zM432 261h1v1h-1zM437 261h1v1h-1zM445 261h1v1h-1zM449 261h1v1h-1zM452 261h2v1h-2zM457 261h1v1h-1zM460 261h1v1h-1zM476 261h1v1h-1zM64 262h2v1h-2zM68 262h2v1h-2zM72 262h1v1h-1zM74 262h1v1h-1zM77 262h2v1h-2zM81 262h1v1h-1zM84 262h1v1h-1zM94 262h1v1h-1zM101 262h1v1h-1zM103 262h1v1h-1zM112 262h2v1h-2zM116 262h1v1h-1zM118 262h1v1h-1zM120 262h1v1h-1zM125 262h1v1h-1zM219 262h1v1h-1zM223 262h1v1h-1zM225 262h1v1h-1zM229 262h1v1h-1zM233 262h1v1h-1zM237 262h1v1h-1zM239 262h1v1h-1zM241 262h2v1h-2zM257 262h1v1h-1zM259 262h1v1h-1zM262 262h3v1h-3zM269 262h1v1h-1zM271 262h2v1h-2zM274 262h1v1h-1zM276 262h1v1h-1zM279 262h1v1h-1zM282 262h1v1h-1zM285 262h2v1h-2zM296 262h1v1h-1zM302 262h1v1h-1zM419 262h1v1h-1zM421 262h1v1h-1zM423 262h1v1h-1zM425 262h2v1h-2zM434 262h1v1h-1zM436 262h1v1h-1zM438 262h1v1h-1zM447 262h2v1h-2zM455 262h2v1h-2zM459 262h1v1h-1zM474 262h1v1h-1zM66 263h1v1h-1zM68 263h1v1h-1zM70 263h1v1h-1zM79 263h2v1h-2zM86 263h1v1h-1zM93 263h1v1h-1zM95 263h1v1h-1zM99 263h1v1h-1zM102 263h1v1h-1zM118 263h1v1h-1zM218 263h1v1h-1zM221 263h1v1h-1zM224 263h1v1h-1zM231 263h1v1h-1zM238 263h1v1h-1zM240 263h1v1h-1zM242 263h1v1h-1zM244 263h1v1h-1zM250 263h1v1h-1zM252 263h1v1h-1zM255 263h2v1h-2zM259 263h1v1h-1zM264 263h2v1h-2zM268 263h1v1h-1zM273 263h1v1h-1zM277 263h1v1h-1zM282 263h1v1h-1zM284 263h1v1h-1zM287 263h1v1h-1zM289 263h1v1h-1zM301 263h1v1h-1zM303 263h1v1h-1zM418 263h1v1h-1zM420 263h1v1h-1zM422 263h1v1h-1zM424 263h1v1h-1zM428 263h1v1h-1zM431 263h2v1h-2zM435 263h1v1h-1zM439 263h1v1h-1zM447 263h1v1h-1zM453 263h1v1h-1zM458 263h1v1h-1zM460 263h1v1h-1zM462 263h1v1h-1zM473 263h1v1h-1zM475 263h1v1h-1zM64 264h2v1h-2zM69 264h1v1h-1zM72 264h2v1h-2zM76 264h1v1h-1zM78 264h1v1h-1zM84 264h2v1h-2zM87 264h1v1h-1zM92 264h1v1h-1zM94 264h1v1h-1zM101 264h1v1h-1zM103 264h1v1h-1zM105 264h1v1h-1zM107 264h1v1h-1zM109 264h1v1h-1zM111 264h1v1h-1zM113 264h1v1h-1zM117 264h1v1h-1zM120 264h1v1h-1zM233 264h1v1h-1zM235 264h1v1h-1zM238 264h3v1h-3zM242 264h2v1h-2zM245 264h1v1h-1zM247 264h1v1h-1zM249 264h1v1h-1zM253 264h1v1h-1zM257 264h2v1h-2zM260 264h1v1h-1zM263 264h1v1h-1zM266 264h1v1h-1zM268 264h1v1h-1zM270 264h1v1h-1zM272 264h1v1h-1zM274 264h1v1h-1zM277 264h1v1h-1zM280 264h1v1h-1zM282 264h1v1h-1zM286 264h1v1h-1zM300 264h1v1h-1zM302 264h1v1h-1zM304 264h1v1h-1zM419 264h1v1h-1zM421 264h1v1h-1zM423 264h1v1h-1zM427 264h2v1h-2zM433 264h1v1h-1zM440 264h1v1h-1zM446 264h1v1h-1zM454 264h2v1h-2zM457 264h1v1h-1zM459 264h1v1h-1zM461 264h1v1h-1zM464 264h1v1h-1zM474 264h1v1h-1zM478 264h1v1h-1zM63 265h1v1h-1zM67 265h1v1h-1zM74 265h1v1h-1zM76 265h1v1h-1zM79 265h1v1h-1zM81 265h1v1h-1zM93 265h1v1h-1zM96 265h1v1h-1zM106 265h1v1h-1zM108 265h1v1h-1zM110 265h1v1h-1zM112 265h1v1h-1zM118 265h1v1h-1zM227 265h1v1h-1zM236 265h1v1h-1zM241 265h1v1h-1zM243 265h1v1h-1zM248 265h1v1h-1zM251 265h2v1h-2zM259 265h1v1h-1zM265 265h1v1h-1zM267 265h1v1h-1zM269 265h1v1h-1zM271 265h1v1h-1zM273 265h1v1h-1zM276 265h1v1h-1zM278 265h1v1h-1zM280 265h1v1h-1zM283 265h2v1h-2zM286 265h1v1h-1zM411 265h1v1h-1zM413 265h1v1h-1zM420 265h1v1h-1zM422 265h1v1h-1zM424 265h1v1h-1zM426 265h1v1h-1zM430 265h1v1h-1zM432 265h1v1h-1zM439 265h1v1h-1zM441 265h1v1h-1zM443 265h1v1h-1zM453 265h1v1h-1zM456 265h1v1h-1zM458 265h1v1h-1zM468 265h1v1h-1zM471 265h1v1h-1zM473 265h1v1h-1zM475 265h1v1h-1zM65 266h1v1h-1zM68 266h4v1h-4zM74 266h2v1h-2zM78 266h1v1h-1zM80 266h2v1h-2zM84 266h1v1h-1zM94 266h1v1h-1zM100 266h1v1h-1zM103 266h1v1h-1zM107 266h1v1h-1zM111 266h1v1h-1zM127 266h1v1h-1zM231 266h1v1h-1zM240 266h1v1h-1zM242 266h1v1h-1zM268 266h1v1h-1zM270 266h1v1h-1zM272 266h1v1h-1zM275 266h1v1h-1zM279 266h1v1h-1zM282 266h1v1h-1zM287 266h1v1h-1zM303 266h1v1h-1zM412 266h1v1h-1zM414 266h1v1h-1zM417 266h1v1h-1zM419 266h1v1h-1zM421 266h2v1h-2zM425 266h1v1h-1zM428 266h1v1h-1zM431 266h1v1h-1zM459 266h1v1h-1zM464 266h1v1h-1zM468 266h1v1h-1zM471 266h2v1h-2zM474 266h1v1h-1zM57 267h1v1h-1zM66 267h2v1h-2zM71 267h3v1h-3zM77 267h1v1h-1zM82 267h2v1h-2zM86 267h1v1h-1zM88 267h1v1h-1zM92 267h2v1h-2zM95 267h1v1h-1zM97 267h2v1h-2zM101 267h1v1h-1zM118 267h1v1h-1zM219 267h1v1h-1zM230 267h1v1h-1zM267 267h1v1h-1zM274 267h1v1h-1zM276 267h1v1h-1zM282 267h1v1h-1zM284 267h1v1h-1zM286 267h2v1h-2zM413 267h1v1h-1zM416 267h1v1h-1zM419 267h2v1h-2zM423 267h1v1h-1zM426 267h1v1h-1zM428 267h3v1h-3zM432 267h2v1h-2zM436 267h1v1h-1zM442 267h2v1h-2zM457 267h1v1h-1zM460 267h1v1h-1zM462 267h3v1h-3zM467 267h1v1h-1zM469 267h1v1h-1zM473 267h2v1h-2zM56 268h1v1h-1zM62 268h1v1h-1zM64 268h1v1h-1zM66 268h1v1h-1zM69 268h1v1h-1zM73 268h1v1h-1zM75 268h1v1h-1zM81 268h1v1h-1zM84 268h2v1h-2zM89 268h1v1h-1zM93 268h1v1h-1zM99 268h2v1h-2zM106 268h1v1h-1zM109 268h1v1h-1zM118 268h1v1h-1zM120 268h1v1h-1zM220 268h2v1h-2zM231 268h1v1h-1zM240 268h1v1h-1zM251 268h1v1h-1zM255 268h1v1h-1zM271 268h1v1h-1zM274 268h1v1h-1zM277 268h1v1h-1zM280 268h2v1h-2zM283 268h1v1h-1zM285 268h2v1h-2zM288 268h1v1h-1zM296 268h1v1h-1zM301 268h1v1h-1zM416 268h1v1h-1zM420 268h1v1h-1zM422 268h1v1h-1zM424 268h1v1h-1zM434 268h2v1h-2zM460 268h2v1h-2zM465 268h1v1h-1zM468 268h1v1h-1zM470 268h2v1h-2zM473 268h1v1h-1zM475 268h1v1h-1zM63 269h1v1h-1zM66 269h2v1h-2zM71 269h1v1h-1zM74 269h2v1h-2zM88 269h1v1h-1zM90 269h1v1h-1zM92 269h1v1h-1zM94 269h1v1h-1zM98 269h1v1h-1zM105 269h1v1h-1zM108 269h1v1h-1zM117 269h1v1h-1zM119 269h1v1h-1zM121 269h1v1h-1zM216 269h1v1h-1zM220 269h1v1h-1zM242 269h1v1h-1zM256 269h1v1h-1zM268 269h1v1h-1zM272 269h1v1h-1zM274 269h1v1h-1zM276 269h1v1h-1zM279 269h1v1h-1zM281 269h1v1h-1zM283 269h1v1h-1zM285 269h1v1h-1zM291 269h1v1h-1zM295 269h1v1h-1zM297 269h1v1h-1zM303 269h1v1h-1zM414 269h2v1h-2zM418 269h1v1h-1zM420 269h2v1h-2zM428 269h2v1h-2zM432 269h1v1h-1zM434 269h1v1h-1zM443 269h1v1h-1zM457 269h3v1h-3zM461 269h1v1h-1zM464 269h1v1h-1zM472 269h1v1h-1zM474 269h1v1h-1zM65 270h1v1h-1zM67 270h3v1h-3zM77 270h2v1h-2zM81 270h1v1h-1zM86 270h2v1h-2zM89 270h1v1h-1zM97 270h1v1h-1zM100 270h1v1h-1zM102 270h1v1h-1zM104 270h1v1h-1zM106 270h1v1h-1zM108 270h1v1h-1zM110 270h1v1h-1zM128 270h1v1h-1zM219 270h1v1h-1zM221 270h1v1h-1zM237 270h1v1h-1zM241 270h1v1h-1zM243 270h1v1h-1zM255 270h1v1h-1zM269 270h1v1h-1zM272 270h1v1h-1zM277 270h2v1h-2zM282 270h1v1h-1zM285 270h1v1h-1zM287 270h1v1h-1zM289 270h2v1h-2zM294 270h2v1h-2zM416 270h1v1h-1zM418 270h2v1h-2zM421 270h1v1h-1zM427 270h1v1h-1zM434 270h1v1h-1zM436 270h1v1h-1zM444 270h1v1h-1zM456 270h1v1h-1zM460 270h1v1h-1zM463 270h1v1h-1zM469 270h1v1h-1zM471 270h1v1h-1zM62 271h1v1h-1zM66 271h1v1h-1zM76 271h2v1h-2zM79 271h2v1h-2zM82 271h2v1h-2zM85 271h2v1h-2zM88 271h1v1h-1zM98 271h1v1h-1zM101 271h1v1h-1zM103 271h1v1h-1zM105 271h1v1h-1zM107 271h1v1h-1zM109 271h1v1h-1zM127 271h1v1h-1zM129 271h1v1h-1zM218 271h1v1h-1zM220 271h1v1h-1zM232 271h1v1h-1zM257 271h1v1h-1zM268 271h1v1h-1zM271 271h1v1h-1zM273 271h1v1h-1zM275 271h1v1h-1zM278 271h2v1h-2zM283 271h1v1h-1zM286 271h1v1h-1zM288 271h1v1h-1zM292 271h2v1h-2zM302 271h1v1h-1zM406 271h1v1h-1zM413 271h1v1h-1zM415 271h1v1h-1zM421 271h1v1h-1zM424 271h1v1h-1zM428 271h1v1h-1zM432 271h1v1h-1zM435 271h1v1h-1zM443 271h1v1h-1zM445 271h1v1h-1zM457 271h1v1h-1zM459 271h1v1h-1zM462 271h1v1h-1zM469 271h1v1h-1zM73 272h1v1h-1zM82 272h2v1h-2zM85 272h1v1h-1zM87 272h1v1h-1zM100 272h1v1h-1zM102 272h1v1h-1zM108 272h1v1h-1zM128 272h1v1h-1zM219 272h1v1h-1zM256 272h1v1h-1zM263 272h1v1h-1zM270 272h1v1h-1zM273 272h1v1h-1zM276 272h1v1h-1zM279 272h2v1h-2zM282 272h1v1h-1zM285 272h2v1h-2zM290 272h1v1h-1zM293 272h1v1h-1zM297 272h1v1h-1zM405 272h1v1h-1zM416 272h1v1h-1zM418 272h2v1h-2zM424 272h2v1h-2zM427 272h1v1h-1zM429 272h2v1h-2zM433 272h1v1h-1zM435 272h1v1h-1zM438 272h1v1h-1zM444 272h1v1h-1zM446 272h1v1h-1zM458 272h1v1h-1zM461 272h1v1h-1zM463 272h2v1h-2zM466 272h1v1h-1zM59 273h1v1h-1zM67 273h1v1h-1zM69 273h1v1h-1zM75 273h2v1h-2zM88 273h1v1h-1zM109 273h1v1h-1zM111 273h1v1h-1zM216 273h1v1h-1zM243 273h1v1h-1zM274 273h1v1h-1zM281 273h1v1h-1zM283 273h1v1h-1zM288 273h2v1h-2zM293 273h1v1h-1zM412 273h1v1h-1zM418 273h1v1h-1zM430 273h1v1h-1zM433 273h1v1h-1zM435 273h1v1h-1zM437 273h1v1h-1zM462 273h1v1h-1zM480 273h1v1h-1zM67 274h1v1h-1zM74 274h1v1h-1zM82 274h1v1h-1zM85 274h2v1h-2zM88 274h1v1h-1zM215 274h1v1h-1zM239 274h1v1h-1zM242 274h1v1h-1zM244 274h1v1h-1zM264 274h1v1h-1zM276 274h1v1h-1zM278 274h3v1h-3zM283 274h1v1h-1zM285 274h1v1h-1zM287 274h1v1h-1zM290 274h1v1h-1zM294 274h1v1h-1zM301 274h2v1h-2zM304 274h1v1h-1zM410 274h1v1h-1zM412 274h1v1h-1zM418 274h1v1h-1zM424 274h1v1h-1zM431 274h1v1h-1zM434 274h1v1h-1zM461 274h1v1h-1zM463 274h1v1h-1zM481 274h1v1h-1zM64 275h1v1h-1zM77 275h2v1h-2zM81 275h1v1h-1zM83 275h2v1h-2zM90 275h1v1h-1zM93 275h1v1h-1zM238 275h1v1h-1zM243 275h1v1h-1zM251 275h1v1h-1zM253 275h1v1h-1zM263 275h1v1h-1zM277 275h1v1h-1zM282 275h1v1h-1zM284 275h1v1h-1zM286 275h1v1h-1zM293 275h1v1h-1zM300 275h1v1h-1zM303 275h1v1h-1zM305 275h1v1h-1zM411 275h1v1h-1zM413 275h1v1h-1zM418 275h1v1h-1zM422 275h2v1h-2zM426 275h1v1h-1zM428 275h3v1h-3zM432 275h1v1h-1zM435 275h2v1h-2zM438 275h1v1h-1zM459 275h1v1h-1zM462 275h1v1h-1zM470 275h1v1h-1zM480 275h1v1h-1zM63 276h1v1h-1zM68 276h1v1h-1zM82 276h1v1h-1zM87 276h1v1h-1zM92 276h1v1h-1zM94 276h1v1h-1zM276 276h1v1h-1zM292 276h1v1h-1zM294 276h1v1h-1zM298 276h1v1h-1zM301 276h1v1h-1zM410 276h1v1h-1zM414 276h1v1h-1zM416 276h1v1h-1zM418 276h1v1h-1zM420 276h1v1h-1zM424 276h1v1h-1zM427 276h1v1h-1zM431 276h1v1h-1zM433 276h1v1h-1zM435 276h1v1h-1zM458 276h1v1h-1zM468 276h2v1h-2zM64 277h1v1h-1zM87 277h1v1h-1zM100 277h1v1h-1zM277 277h1v1h-1zM301 277h1v1h-1zM412 277h1v1h-1zM414 277h1v1h-1zM419 277h1v1h-1zM423 277h1v1h-1zM428 277h1v1h-1zM431 277h2v1h-2zM436 277h1v1h-1zM442 277h1v1h-1zM65 278h1v1h-1zM84 278h1v1h-1zM291 278h1v1h-1zM293 278h1v1h-1zM297 278h1v1h-1zM299 278h2v1h-2zM414 278h1v1h-1zM416 278h1v1h-1zM418 278h1v1h-1zM424 278h1v1h-1zM434 278h1v1h-1zM443 278h1v1h-1zM64 279h1v1h-1zM68 279h1v1h-1zM82 279h1v1h-1zM84 279h2v1h-2zM87 279h1v1h-1zM293 279h2v1h-2zM299 279h1v1h-1zM301 279h1v1h-1zM411 279h1v1h-1zM429 279h1v1h-1zM431 279h1v1h-1zM65 280h1v1h-1zM67 280h2v1h-2zM75 280h1v1h-1zM77 280h1v1h-1zM85 280h1v1h-1zM87 280h1v1h-1zM114 280h1v1h-1zM219 280h1v1h-1zM274 280h1v1h-1zM286 280h1v1h-1zM292 280h1v1h-1zM297 280h1v1h-1zM300 280h1v1h-1zM402 280h1v1h-1zM412 280h1v1h-1zM420 280h1v1h-1zM425 280h1v1h-1zM427 280h1v1h-1zM432 280h1v1h-1zM442 280h1v1h-1zM448 280h1v1h-1zM450 280h1v1h-1zM65 281h1v1h-1zM79 281h1v1h-1zM85 281h1v1h-1zM218 281h1v1h-1zM220 281h1v1h-1zM254 281h1v1h-1zM285 281h1v1h-1zM293 281h1v1h-1zM295 281h2v1h-2zM299 281h1v1h-1zM403 281h1v1h-1zM411 281h1v1h-1zM413 281h1v1h-1zM416 281h1v1h-1zM427 281h1v1h-1zM430 281h1v1h-1zM434 281h1v1h-1zM441 281h1v1h-1zM447 281h1v1h-1zM449 281h1v1h-1zM458 281h1v1h-1zM460 281h1v1h-1zM466 281h1v1h-1zM68 282h3v1h-3zM84 282h1v1h-1zM86 282h2v1h-2zM122 282h1v1h-1zM265 282h1v1h-1zM279 282h1v1h-1zM292 282h1v1h-1zM407 282h1v1h-1zM413 282h1v1h-1zM416 282h1v1h-1zM419 282h1v1h-1zM424 282h1v1h-1zM428 282h1v1h-1zM432 282h1v1h-1zM448 282h1v1h-1zM450 282h1v1h-1zM459 282h1v1h-1zM68 283h1v1h-1zM78 283h1v1h-1zM80 283h1v1h-1zM85 283h1v1h-1zM123 283h1v1h-1zM284 283h1v1h-1zM411 283h1v1h-1zM415 283h1v1h-1zM420 283h2v1h-2zM425 283h1v1h-1zM427 283h1v1h-1zM429 283h1v1h-1zM431 283h1v1h-1zM66 284h2v1h-2zM80 284h1v1h-1zM243 284h1v1h-1zM283 284h1v1h-1zM413 284h1v1h-1zM415 284h1v1h-1zM417 284h1v1h-1zM421 284h1v1h-1zM423 284h1v1h-1zM427 284h2v1h-2zM431 284h1v1h-1zM433 284h1v1h-1zM464 284h1v1h-1zM68 285h1v1h-1zM72 285h2v1h-2zM76 285h1v1h-1zM81 285h1v1h-1zM83 285h2v1h-2zM242 285h1v1h-1zM244 285h1v1h-1zM411 285h1v1h-1zM414 285h2v1h-2zM417 285h1v1h-1zM422 285h1v1h-1zM432 285h1v1h-1zM67 286h1v1h-1zM69 286h4v1h-4zM75 286h1v1h-1zM83 286h1v1h-1zM219 286h1v1h-1zM243 286h1v1h-1zM308 286h1v1h-1zM412 286h2v1h-2zM419 286h1v1h-1zM424 286h1v1h-1zM428 286h1v1h-1zM440 286h1v1h-1zM68 287h1v1h-1zM75 287h1v1h-1zM77 287h2v1h-2zM80 287h1v1h-1zM82 287h1v1h-1zM218 287h1v1h-1zM261 287h1v1h-1zM415 287h1v1h-1zM417 287h1v1h-1zM425 287h1v1h-1zM427 287h1v1h-1zM445 287h1v1h-1zM72 288h1v1h-1zM74 288h1v1h-1zM78 288h1v1h-1zM81 288h1v1h-1zM83 288h1v1h-1zM444 288h1v1h-1zM471 288h1v1h-1zM482 288h1v1h-1zM73 289h1v1h-1zM79 289h2v1h-2zM420 289h1v1h-1zM443 289h1v1h-1zM445 289h1v1h-1zM81 290h2v1h-2zM129 290h1v1h-1zM244 290h1v1h-1zM74 291h1v1h-1zM128 291h1v1h-1zM68 292h1v1h-1zM129 292h1v1h-1zM242 402h1v1h-1zM241 403h1v1h-1zM226 404h1v1h-1zM225 405h1v1h-1zM236 407h1v1h-1zM68 410h1v1h-1zM228 410h1v1h-1zM227 411h1v1h-1zM229 411h1v1h-1zM250 411h1v1h-1zM45 412h1v1h-1zM249 412h1v1h-1zM44 413h1v1h-1zM48 413h1v1h-1zM228 413h1v1h-1zM49 414h1v1h-1zM52 414h1v1h-1zM237 414h1v1h-1zM239 414h1v1h-1zM47 415h1v1h-1zM49 415h1v1h-1zM51 415h1v1h-1zM224 415h1v1h-1zM236 415h1v1h-1zM238 415h1v1h-1zM225 416h1v1h-1zM236 416h1v1h-1zM44 417h1v1h-1zM46 417h1v1h-1zM55 417h1v1h-1zM235 417h1v1h-1zM237 417h1v1h-1zM231 418h1v1h-1zM234 418h1v1h-1zM236 418h1v1h-1zM243 418h1v1h-1zM247 418h2v1h-2zM250 418h1v1h-1zM254 418h1v1h-1zM284 418h1v1h-1zM230 419h1v1h-1zM242 419h1v1h-1zM244 419h1v1h-1zM246 419h1v1h-1zM249 419h1v1h-1zM255 419h1v1h-1zM287 419h1v1h-1zM289 419h1v1h-1zM52 420h1v1h-1zM63 420h1v1h-1zM224 420h1v1h-1zM228 420h1v1h-1zM231 420h1v1h-1zM233 420h1v1h-1zM243 420h1v1h-1zM247 420h1v1h-1zM250 420h1v1h-1zM254 420h1v1h-1zM284 420h2v1h-2zM287 420h1v1h-1zM290 420h1v1h-1zM292 420h1v1h-1zM50 421h1v1h-1zM53 421h1v1h-1zM55 421h1v1h-1zM59 421h1v1h-1zM223 421h1v1h-1zM225 421h1v1h-1zM227 421h1v1h-1zM229 421h1v1h-1zM231 421h1v1h-1zM233 421h1v1h-1zM235 421h1v1h-1zM237 421h1v1h-1zM239 421h1v1h-1zM241 421h1v1h-1zM243 421h2v1h-2zM246 421h1v1h-1zM248 421h1v1h-1zM251 421h1v1h-1zM258 421h1v1h-1zM46 422h1v1h-1zM48 422h1v1h-1zM64 422h1v1h-1zM224 422h1v1h-1zM229 422h1v1h-1zM231 422h1v1h-1zM234 422h1v1h-1zM236 422h1v1h-1zM240 422h2v1h-2zM244 422h1v1h-1zM247 422h1v1h-1zM249 422h1v1h-1zM259 422h1v1h-1zM280 422h1v1h-1zM287 422h1v1h-1zM289 422h1v1h-1zM291 422h1v1h-1zM47 423h1v1h-1zM63 423h1v1h-1zM65 423h1v1h-1zM230 423h1v1h-1zM232 423h1v1h-1zM234 423h1v1h-1zM237 423h3v1h-3zM242 423h2v1h-2zM245 423h1v1h-1zM247 423h1v1h-1zM250 423h1v1h-1zM252 423h1v1h-1zM254 423h1v1h-1zM266 423h1v1h-1zM282 423h1v1h-1zM288 423h1v1h-1zM44 424h1v1h-1zM46 424h1v1h-1zM226 424h1v1h-1zM233 424h1v1h-1zM235 424h1v1h-1zM237 424h1v1h-1zM252 424h2v1h-2zM256 424h1v1h-1zM267 424h1v1h-1zM281 424h1v1h-1zM290 424h2v1h-2zM293 424h1v1h-1zM53 425h1v1h-1zM57 425h1v1h-1zM224 425h2v1h-2zM228 425h1v1h-1zM230 425h1v1h-1zM232 425h1v1h-1zM234 425h1v1h-1zM239 425h1v1h-1zM243 425h1v1h-1zM247 425h1v1h-1zM250 425h1v1h-1zM256 425h1v1h-1zM261 425h1v1h-1zM279 425h1v1h-1zM292 425h1v1h-1zM52 426h1v1h-1zM54 426h1v1h-1zM60 426h1v1h-1zM223 426h1v1h-1zM226 426h1v1h-1zM232 426h1v1h-1zM236 426h1v1h-1zM238 426h1v1h-1zM242 426h1v1h-1zM244 426h2v1h-2zM248 426h1v1h-1zM251 426h1v1h-1zM253 426h3v1h-3zM258 426h1v1h-1zM273 426h1v1h-1zM280 426h2v1h-2zM294 426h1v1h-1zM53 427h1v1h-1zM57 427h1v1h-1zM59 427h1v1h-1zM61 427h1v1h-1zM66 427h1v1h-1zM69 427h1v1h-1zM223 427h1v1h-1zM225 427h1v1h-1zM233 427h1v1h-1zM235 427h2v1h-2zM238 427h2v1h-2zM241 427h1v1h-1zM248 427h1v1h-1zM256 427h1v1h-1zM258 427h1v1h-1zM261 427h1v1h-1zM279 427h1v1h-1zM282 427h1v1h-1zM289 427h1v1h-1zM292 427h1v1h-1zM44 428h1v1h-1zM65 428h1v1h-1zM71 428h1v1h-1zM224 428h1v1h-1zM226 428h2v1h-2zM229 428h1v1h-1zM232 428h1v1h-1zM234 428h1v1h-1zM242 428h1v1h-1zM249 428h2v1h-2zM254 428h1v1h-1zM257 428h1v1h-1zM284 428h1v1h-1zM293 428h2v1h-2zM72 429h1v1h-1zM222 429h1v1h-1zM225 429h1v1h-1zM230 429h2v1h-2zM233 429h1v1h-1zM241 429h2v1h-2zM245 429h1v1h-1zM248 429h1v1h-1zM250 429h1v1h-1zM252 429h1v1h-1zM255 429h2v1h-2zM258 429h1v1h-1zM281 429h1v1h-1zM286 429h1v1h-1zM293 429h1v1h-1zM225 430h2v1h-2zM228 430h1v1h-1zM230 430h1v1h-1zM234 430h1v1h-1zM236 430h2v1h-2zM239 430h2v1h-2zM245 430h1v1h-1zM247 430h1v1h-1zM249 430h1v1h-1zM253 430h1v1h-1zM257 430h1v1h-1zM294 430h1v1h-1zM49 431h1v1h-1zM51 431h1v1h-1zM64 431h1v1h-1zM223 431h2v1h-2zM230 431h1v1h-1zM235 431h1v1h-1zM239 431h1v1h-1zM243 431h1v1h-1zM245 431h1v1h-1zM254 431h1v1h-1zM259 431h1v1h-1zM283 431h1v1h-1zM290 431h1v1h-1zM293 431h1v1h-1zM47 432h1v1h-1zM50 432h1v1h-1zM52 432h1v1h-1zM63 432h1v1h-1zM66 432h1v1h-1zM68 432h1v1h-1zM70 432h1v1h-1zM74 432h1v1h-1zM224 432h1v1h-1zM227 432h1v1h-1zM229 432h1v1h-1zM231 432h1v1h-1zM233 432h1v1h-1zM237 432h1v1h-1zM248 432h1v1h-1zM250 432h1v1h-1zM255 432h3v1h-3zM260 432h1v1h-1zM263 432h1v1h-1zM282 432h1v1h-1zM291 432h1v1h-1zM48 433h1v1h-1zM50 433h1v1h-1zM53 433h1v1h-1zM61 433h2v1h-2zM64 433h2v1h-2zM68 433h1v1h-1zM70 433h1v1h-1zM72 433h2v1h-2zM75 433h1v1h-1zM222 433h1v1h-1zM226 433h1v1h-1zM230 433h1v1h-1zM242 433h1v1h-1zM254 433h1v1h-1zM258 433h1v1h-1zM264 433h1v1h-1zM283 433h2v1h-2zM287 433h1v1h-1zM291 433h1v1h-1zM49 434h2v1h-2zM53 434h1v1h-1zM56 434h2v1h-2zM63 434h1v1h-1zM71 434h1v1h-1zM74 434h1v1h-1zM223 434h1v1h-1zM225 434h1v1h-1zM227 434h2v1h-2zM230 434h1v1h-1zM232 434h1v1h-1zM238 434h1v1h-1zM241 434h1v1h-1zM247 434h1v1h-1zM251 434h1v1h-1zM255 434h2v1h-2zM282 434h1v1h-1zM289 434h1v1h-1zM292 434h1v1h-1zM46 435h1v1h-1zM48 435h1v1h-1zM51 435h1v1h-1zM54 435h2v1h-2zM58 435h1v1h-1zM61 435h1v1h-1zM66 435h1v1h-1zM70 435h1v1h-1zM73 435h1v1h-1zM75 435h1v1h-1zM222 435h1v1h-1zM225 435h1v1h-1zM228 435h1v1h-1zM231 435h1v1h-1zM233 435h2v1h-2zM237 435h1v1h-1zM239 435h1v1h-1zM242 435h1v1h-1zM244 435h2v1h-2zM249 435h1v1h-1zM254 435h1v1h-1zM256 435h1v1h-1zM284 435h1v1h-1zM288 435h1v1h-1zM291 435h1v1h-1zM45 436h1v1h-1zM49 436h1v1h-1zM51 436h2v1h-2zM54 436h1v1h-1zM56 436h1v1h-1zM59 436h1v1h-1zM61 436h1v1h-1zM63 436h1v1h-1zM65 436h1v1h-1zM68 436h1v1h-1zM71 436h1v1h-1zM74 436h1v1h-1zM224 436h1v1h-1zM226 436h1v1h-1zM233 436h1v1h-1zM235 436h1v1h-1zM237 436h1v1h-1zM239 436h1v1h-1zM245 436h3v1h-3zM250 436h2v1h-2zM260 436h2v1h-2zM285 436h2v1h-2zM288 436h1v1h-1zM45 437h1v1h-1zM53 437h2v1h-2zM56 437h2v1h-2zM59 437h1v1h-1zM67 437h1v1h-1zM72 437h1v1h-1zM224 437h1v1h-1zM226 437h1v1h-1zM228 437h1v1h-1zM230 437h1v1h-1zM232 437h1v1h-1zM234 437h1v1h-1zM236 437h1v1h-1zM238 437h2v1h-2zM241 437h1v1h-1zM243 437h2v1h-2zM248 437h1v1h-1zM251 437h1v1h-1zM255 437h1v1h-1zM259 437h1v1h-1zM262 437h1v1h-1zM266 437h1v1h-1zM284 437h1v1h-1zM286 437h2v1h-2zM289 437h1v1h-1zM44 438h1v1h-1zM47 438h5v1h-5zM58 438h1v1h-1zM60 438h1v1h-1zM62 438h1v1h-1zM66 438h1v1h-1zM69 438h2v1h-2zM73 438h2v1h-2zM223 438h1v1h-1zM225 438h1v1h-1zM227 438h1v1h-1zM229 438h1v1h-1zM231 438h1v1h-1zM233 438h1v1h-1zM238 438h1v1h-1zM241 438h1v1h-1zM244 438h3v1h-3zM251 438h2v1h-2zM254 438h1v1h-1zM261 438h1v1h-1zM265 438h1v1h-1zM285 438h1v1h-1zM288 438h1v1h-1zM290 438h1v1h-1zM42 439h1v1h-1zM46 439h1v1h-1zM52 439h1v1h-1zM56 439h2v1h-2zM61 439h2v1h-2zM65 439h2v1h-2zM68 439h2v1h-2zM71 439h2v1h-2zM75 439h1v1h-1zM114 439h1v1h-1zM226 439h1v1h-1zM228 439h1v1h-1zM233 439h1v1h-1zM237 439h1v1h-1zM239 439h1v1h-1zM241 439h1v1h-1zM243 439h1v1h-1zM248 439h1v1h-1zM250 439h1v1h-1zM254 439h2v1h-2zM260 439h1v1h-1zM266 439h1v1h-1zM283 439h1v1h-1zM286 439h1v1h-1zM289 439h1v1h-1zM44 440h1v1h-1zM49 440h1v1h-1zM54 440h1v1h-1zM57 440h1v1h-1zM60 440h1v1h-1zM64 440h1v1h-1zM67 440h1v1h-1zM71 440h1v1h-1zM76 440h1v1h-1zM227 440h1v1h-1zM229 440h1v1h-1zM232 440h1v1h-1zM236 440h1v1h-1zM242 440h1v1h-1zM256 440h1v1h-1zM259 440h1v1h-1zM261 440h1v1h-1zM284 440h1v1h-1zM286 440h1v1h-1zM294 440h1v1h-1zM43 441h1v1h-1zM48 441h1v1h-1zM55 441h1v1h-1zM58 441h1v1h-1zM60 441h1v1h-1zM65 441h1v1h-1zM68 441h2v1h-2zM72 441h3v1h-3zM77 441h1v1h-1zM86 441h1v1h-1zM105 441h1v1h-1zM229 441h1v1h-1zM231 441h1v1h-1zM234 441h2v1h-2zM239 441h2v1h-2zM242 441h1v1h-1zM245 441h1v1h-1zM251 441h1v1h-1zM253 441h2v1h-2zM256 441h1v1h-1zM258 441h1v1h-1zM260 441h1v1h-1zM262 441h1v1h-1zM283 441h1v1h-1zM285 441h1v1h-1zM287 441h2v1h-2zM290 441h2v1h-2zM42 442h1v1h-1zM44 442h1v1h-1zM46 442h1v1h-1zM50 442h2v1h-2zM54 442h1v1h-1zM57 442h1v1h-1zM61 442h1v1h-1zM63 442h1v1h-1zM66 442h1v1h-1zM69 442h2v1h-2zM72 442h1v1h-1zM74 442h1v1h-1zM76 442h1v1h-1zM87 442h1v1h-1zM104 442h1v1h-1zM106 442h1v1h-1zM112 442h1v1h-1zM224 442h1v1h-1zM230 442h1v1h-1zM234 442h1v1h-1zM236 442h2v1h-2zM239 442h1v1h-1zM243 442h3v1h-3zM248 442h1v1h-1zM254 442h1v1h-1zM257 442h1v1h-1zM259 442h2v1h-2zM282 442h1v1h-1zM284 442h1v1h-1zM286 442h1v1h-1zM288 442h2v1h-2zM44 443h1v1h-1zM46 443h1v1h-1zM49 443h1v1h-1zM52 443h2v1h-2zM56 443h1v1h-1zM58 443h2v1h-2zM61 443h1v1h-1zM65 443h1v1h-1zM67 443h1v1h-1zM71 443h1v1h-1zM86 443h1v1h-1zM88 443h1v1h-1zM105 443h1v1h-1zM107 443h1v1h-1zM109 443h2v1h-2zM113 443h1v1h-1zM223 443h1v1h-1zM226 443h1v1h-1zM229 443h1v1h-1zM231 443h1v1h-1zM233 443h1v1h-1zM238 443h1v1h-1zM241 443h2v1h-2zM246 443h1v1h-1zM248 443h1v1h-1zM261 443h2v1h-2zM283 443h1v1h-1zM289 443h1v1h-1zM44 444h2v1h-2zM48 444h1v1h-1zM50 444h3v1h-3zM54 444h1v1h-1zM56 444h1v1h-1zM58 444h1v1h-1zM61 444h1v1h-1zM65 444h1v1h-1zM68 444h1v1h-1zM71 444h1v1h-1zM74 444h2v1h-2zM77 444h1v1h-1zM84 444h1v1h-1zM86 444h1v1h-1zM99 444h1v1h-1zM104 444h1v1h-1zM111 444h2v1h-2zM222 444h1v1h-1zM225 444h1v1h-1zM229 444h2v1h-2zM233 444h1v1h-1zM237 444h1v1h-1zM239 444h1v1h-1zM243 444h1v1h-1zM245 444h1v1h-1zM248 444h1v1h-1zM250 444h1v1h-1zM254 444h1v1h-1zM256 444h1v1h-1zM258 444h3v1h-3zM262 444h1v1h-1zM281 444h1v1h-1zM286 444h1v1h-1zM288 444h1v1h-1zM290 444h1v1h-1zM46 445h1v1h-1zM55 445h1v1h-1zM68 445h1v1h-1zM70 445h1v1h-1zM72 445h1v1h-1zM75 445h2v1h-2zM98 445h1v1h-1zM101 445h1v1h-1zM103 445h1v1h-1zM106 445h1v1h-1zM226 445h3v1h-3zM231 445h2v1h-2zM234 445h1v1h-1zM238 445h1v1h-1zM240 445h1v1h-1zM242 445h1v1h-1zM250 445h1v1h-1zM257 445h1v1h-1zM280 445h1v1h-1zM283 445h1v1h-1zM286 445h1v1h-1zM291 445h1v1h-1zM42 446h1v1h-1zM45 446h1v1h-1zM52 446h4v1h-4zM63 446h1v1h-1zM65 446h1v1h-1zM71 446h1v1h-1zM73 446h1v1h-1zM77 446h1v1h-1zM98 446h1v1h-1zM100 446h1v1h-1zM113 446h1v1h-1zM222 446h1v1h-1zM225 446h1v1h-1zM229 446h1v1h-1zM231 446h1v1h-1zM234 446h1v1h-1zM238 446h1v1h-1zM241 446h1v1h-1zM243 446h1v1h-1zM258 446h1v1h-1zM260 446h1v1h-1zM279 446h1v1h-1zM282 446h1v1h-1zM285 446h1v1h-1zM288 446h2v1h-2zM291 446h1v1h-1zM297 446h1v1h-1zM43 447h2v1h-2zM46 447h1v1h-1zM56 447h1v1h-1zM58 447h1v1h-1zM60 447h1v1h-1zM67 447h4v1h-4zM74 447h1v1h-1zM81 447h1v1h-1zM97 447h1v1h-1zM99 447h2v1h-2zM102 447h1v1h-1zM224 447h1v1h-1zM226 447h3v1h-3zM231 447h2v1h-2zM234 447h1v1h-1zM240 447h2v1h-2zM244 447h1v1h-1zM256 447h1v1h-1zM260 447h1v1h-1zM280 447h1v1h-1zM282 447h1v1h-1zM287 447h1v1h-1zM46 448h1v1h-1zM49 448h1v1h-1zM65 448h1v1h-1zM71 448h1v1h-1zM76 448h1v1h-1zM88 448h1v1h-1zM101 448h1v1h-1zM115 448h1v1h-1zM224 448h1v1h-1zM233 448h1v1h-1zM235 448h2v1h-2zM259 448h1v1h-1zM261 448h2v1h-2zM279 448h1v1h-1zM281 448h1v1h-1zM284 448h1v1h-1zM287 448h1v1h-1zM296 448h1v1h-1zM42 449h1v1h-1zM54 449h2v1h-2zM57 449h1v1h-1zM68 449h1v1h-1zM70 449h1v1h-1zM72 449h1v1h-1zM80 449h1v1h-1zM87 449h1v1h-1zM89 449h1v1h-1zM100 449h1v1h-1zM115 449h1v1h-1zM225 449h3v1h-3zM229 449h1v1h-1zM235 449h1v1h-1zM257 449h1v1h-1zM260 449h1v1h-1zM263 449h1v1h-1zM266 449h1v1h-1zM275 449h1v1h-1zM281 449h1v1h-1zM283 449h1v1h-1zM285 449h3v1h-3zM290 449h1v1h-1zM297 449h1v1h-1zM42 450h1v1h-1zM48 450h1v1h-1zM59 450h1v1h-1zM73 450h1v1h-1zM79 450h1v1h-1zM88 450h1v1h-1zM224 450h1v1h-1zM230 450h2v1h-2zM240 450h1v1h-1zM251 450h1v1h-1zM259 450h1v1h-1zM261 450h2v1h-2zM276 450h1v1h-1zM280 450h1v1h-1zM285 450h1v1h-1zM291 450h1v1h-1zM296 450h1v1h-1zM44 451h1v1h-1zM46 451h1v1h-1zM48 451h1v1h-1zM57 451h2v1h-2zM60 451h1v1h-1zM74 451h1v1h-1zM80 451h1v1h-1zM85 451h1v1h-1zM87 451h1v1h-1zM89 451h1v1h-1zM98 451h1v1h-1zM100 451h1v1h-1zM115 451h2v1h-2zM224 451h1v1h-1zM226 451h1v1h-1zM229 451h2v1h-2zM233 451h1v1h-1zM237 451h1v1h-1zM259 451h1v1h-1zM261 451h1v1h-1zM281 451h1v1h-1zM283 451h2v1h-2zM286 451h1v1h-1zM289 451h1v1h-1zM51 452h1v1h-1zM54 452h1v1h-1zM62 452h1v1h-1zM73 452h1v1h-1zM86 452h1v1h-1zM88 452h1v1h-1zM92 452h1v1h-1zM94 452h1v1h-1zM96 452h1v1h-1zM99 452h1v1h-1zM117 452h1v1h-1zM223 452h1v1h-1zM225 452h1v1h-1zM227 452h2v1h-2zM256 452h1v1h-1zM258 452h1v1h-1zM262 452h1v1h-1zM282 452h1v1h-1zM286 452h2v1h-2zM43 453h1v1h-1zM47 453h1v1h-1zM70 453h2v1h-2zM85 453h1v1h-1zM93 453h1v1h-1zM95 453h1v1h-1zM98 453h1v1h-1zM115 453h1v1h-1zM226 453h1v1h-1zM229 453h1v1h-1zM233 453h1v1h-1zM259 453h2v1h-2zM281 453h1v1h-1zM285 453h1v1h-1zM288 453h1v1h-1zM290 453h1v1h-1zM44 454h2v1h-2zM48 454h1v1h-1zM53 454h2v1h-2zM56 454h1v1h-1zM61 454h1v1h-1zM67 454h1v1h-1zM72 454h1v1h-1zM79 454h1v1h-1zM84 454h1v1h-1zM92 454h1v1h-1zM95 454h1v1h-1zM101 454h1v1h-1zM113 454h2v1h-2zM225 454h1v1h-1zM228 454h1v1h-1zM258 454h1v1h-1zM282 454h1v1h-1zM284 454h1v1h-1zM287 454h1v1h-1zM289 454h1v1h-1zM291 454h2v1h-2zM44 455h1v1h-1zM49 455h1v1h-1zM78 455h1v1h-1zM80 455h1v1h-1zM83 455h1v1h-1zM94 455h1v1h-1zM102 455h1v1h-1zM224 455h1v1h-1zM227 455h1v1h-1zM233 455h1v1h-1zM260 455h1v1h-1zM262 455h1v1h-1zM281 455h2v1h-2zM284 455h2v1h-2zM290 455h1v1h-1zM45 456h1v1h-1zM52 456h1v1h-1zM66 456h1v1h-1zM70 456h2v1h-2zM73 456h1v1h-1zM76 456h1v1h-1zM84 456h1v1h-1zM93 456h1v1h-1zM104 456h1v1h-1zM111 456h1v1h-1zM222 456h1v1h-1zM226 456h1v1h-1zM231 456h1v1h-1zM258 456h2v1h-2zM263 456h1v1h-1zM268 456h1v1h-1zM283 456h1v1h-1zM287 456h2v1h-2zM292 456h1v1h-1zM43 457h2v1h-2zM60 457h1v1h-1zM70 457h1v1h-1zM75 457h1v1h-1zM77 457h1v1h-1zM79 457h1v1h-1zM86 457h1v1h-1zM92 457h1v1h-1zM110 457h1v1h-1zM112 457h1v1h-1zM224 457h1v1h-1zM226 457h1v1h-1zM232 457h1v1h-1zM260 457h3v1h-3zM264 457h1v1h-1zM266 457h2v1h-2zM269 457h1v1h-1zM281 457h1v1h-1zM284 457h1v1h-1zM289 457h1v1h-1zM291 457h1v1h-1zM42 458h1v1h-1zM50 458h1v1h-1zM67 458h1v1h-1zM78 458h1v1h-1zM80 458h1v1h-1zM83 458h1v1h-1zM87 458h1v1h-1zM223 458h1v1h-1zM229 458h1v1h-1zM260 458h1v1h-1zM262 458h1v1h-1zM264 458h1v1h-1zM268 458h1v1h-1zM283 458h1v1h-1zM285 458h1v1h-1zM287 458h1v1h-1zM290 458h1v1h-1zM56 459h1v1h-1zM60 459h1v1h-1zM71 459h1v1h-1zM74 459h1v1h-1zM77 459h1v1h-1zM79 459h1v1h-1zM82 459h1v1h-1zM86 459h1v1h-1zM105 459h1v1h-1zM107 459h2v1h-2zM114 459h1v1h-1zM225 459h3v1h-3zM263 459h1v1h-1zM265 459h1v1h-1zM286 459h2v1h-2zM289 459h1v1h-1zM72 460h1v1h-1zM78 460h1v1h-1zM95 460h1v1h-1zM101 460h1v1h-1zM105 460h1v1h-1zM107 460h1v1h-1zM115 460h1v1h-1zM224 460h1v1h-1zM257 460h1v1h-1zM261 460h1v1h-1zM265 460h1v1h-1zM280 460h1v1h-1zM282 460h1v1h-1zM289 460h1v1h-1zM291 460h1v1h-1zM293 460h1v1h-1zM44 461h1v1h-1zM64 461h1v1h-1zM67 461h1v1h-1zM71 461h1v1h-1zM80 461h1v1h-1zM100 461h1v1h-1zM102 461h1v1h-1zM104 461h1v1h-1zM106 461h1v1h-1zM229 461h1v1h-1zM231 461h1v1h-1zM262 461h1v1h-1zM264 461h1v1h-1zM281 461h1v1h-1zM284 461h1v1h-1zM290 461h1v1h-1zM292 461h1v1h-1zM45 462h1v1h-1zM47 462h1v1h-1zM49 462h1v1h-1zM57 462h1v1h-1zM65 462h1v1h-1zM69 462h1v1h-1zM79 462h1v1h-1zM81 462h1v1h-1zM83 462h1v1h-1zM86 462h1v1h-1zM88 462h1v1h-1zM94 462h1v1h-1zM222 462h1v1h-1zM224 462h1v1h-1zM228 462h1v1h-1zM232 462h1v1h-1zM235 462h1v1h-1zM260 462h1v1h-1zM267 462h1v1h-1zM285 462h1v1h-1zM288 462h1v1h-1zM293 462h1v1h-1zM43 463h2v1h-2zM47 463h1v1h-1zM54 463h1v1h-1zM60 463h1v1h-1zM64 463h1v1h-1zM66 463h1v1h-1zM70 463h2v1h-2zM95 463h1v1h-1zM224 463h2v1h-2zM228 463h1v1h-1zM231 463h1v1h-1zM258 463h2v1h-2zM262 463h1v1h-1zM284 463h1v1h-1zM286 463h1v1h-1zM222 464h1v1h-1zM229 464h1v1h-1zM236 464h2v1h-2zM256 464h1v1h-1zM285 464h1v1h-1zM292 464h1v1h-1zM224 465h1v1h-1zM230 465h2v1h-2zM233 465h1v1h-1zM235 465h1v1h-1zM241 465h1v1h-1zM256 465h1v1h-1zM260 465h1v1h-1zM262 465h1v1h-1zM265 465h1v1h-1z" fill="#c4c4c4"/>
<path d="" fill="#888"/>
<path d="" fill="#484848"/>
<path d="M87 215h1v1h-1zM47 222h1v1h-1zM91 229h1v1h-1zM429 230h1v1h-1zM104 232h1v1h-1zM75 233h1v1h-1zM95 233h1v1h-1zM94 234h1v1h-1zM101 234h1v1h-1zM120 234h1v1h-1zM127 234h1v1h-1zM406 234h1v1h-1zM487 234h1v1h-1zM54 235h1v1h-1zM77 235h1v1h-1zM422 235h1v1h-1zM55 236h1v1h-1zM64 236h2v1h-2zM93 236h1v1h-1zM414 236h1v1h-1zM434 236h1v1h-1zM436 236h1v1h-1zM454 236h1v1h-1zM480 236h1v1h-1zM69 237h1v1h-1zM99 237h1v1h-1zM109 237h1v1h-1zM433 237h1v1h-1zM475 237h2v1h-2zM67 238h1v1h-1zM69 238h2v1h-2zM76 238h1v1h-1zM80 238h1v1h-1zM82 238h1v1h-1zM84 238h1v1h-1zM86 238h1v1h-1zM90 238h1v1h-1zM225 238h1v1h-1zM256 238h1v1h-1zM276 238h1v1h-1zM315 238h1v1h-1zM404 238h1v1h-1zM413 238h1v1h-1zM415 238h1v1h-1zM452 238h1v1h-1zM468 238h3v1h-3zM472 238h3v1h-3zM477 238h2v1h-2zM480 238h1v1h-1zM66 239h1v1h-1zM68 239h1v1h-1zM71 239h1v1h-1zM73 239h2v1h-2zM77 239h2v1h-2zM81 239h3v1h-3zM85 239h2v1h-2zM99 239h2v1h-2zM110 239h1v1h-1zM124 239h1v1h-1zM132 239h1v1h-1zM233 239h1v1h-1zM294 239h2v1h-2zM414 239h1v1h-1zM420 239h1v1h-1zM430 239h2v1h-2zM453 239h1v1h-1zM456 239h1v1h-1zM458 239h1v1h-1zM463 239h1v1h-1zM465 239h1v1h-1zM467 239h3v1h-3zM471 239h7v1h-7zM62 240h1v1h-1zM65 240h1v1h-1zM67 240h9v1h-9zM77 240h2v1h-2zM83 240h1v1h-1zM85 240h1v1h-1zM87 240h1v1h-1zM111 240h1v1h-1zM118 240h1v1h-1zM291 240h2v1h-2zM295 240h1v1h-1zM297 240h3v1h-3zM408 240h1v1h-1zM414 240h1v1h-1zM429 240h1v1h-1zM454 240h1v1h-1zM456 240h1v1h-1zM459 240h1v1h-1zM462 240h3v1h-3zM466 240h12v1h-12zM480 240h1v1h-1zM57 241h1v1h-1zM61 241h21v1h-21zM84 241h1v1h-1zM87 241h2v1h-2zM97 241h2v1h-2zM105 241h2v1h-2zM111 241h1v1h-1zM117 241h1v1h-1zM124 241h1v1h-1zM126 241h1v1h-1zM284 241h1v1h-1zM288 241h5v1h-5zM294 241h2v1h-2zM297 241h4v1h-4zM302 241h1v1h-1zM411 241h1v1h-1zM413 241h1v1h-1zM415 241h1v1h-1zM421 241h1v1h-1zM429 241h5v1h-5zM444 241h1v1h-1zM454 241h1v1h-1zM458 241h2v1h-2zM462 241h16v1h-16zM481 241h1v1h-1zM483 241h2v1h-2zM53 242h2v1h-2zM61 242h1v1h-1zM63 242h7v1h-7zM71 242h8v1h-8zM80 242h9v1h-9zM91 242h1v1h-1zM102 242h1v1h-1zM105 242h1v1h-1zM107 242h1v1h-1zM109 242h1v1h-1zM111 242h1v1h-1zM113 242h1v1h-1zM117 242h1v1h-1zM121 242h1v1h-1zM217 242h2v1h-2zM252 242h1v1h-1zM285 242h1v1h-1zM288 242h4v1h-4zM293 242h7v1h-7zM301 242h2v1h-2zM414 242h1v1h-1zM418 242h1v1h-1zM421 242h2v1h-2zM424 242h1v1h-1zM428 242h1v1h-1zM434 242h1v1h-1zM439 242h1v1h-1zM448 242h2v1h-2zM459 242h22v1h-22zM54 243h1v1h-1zM59 243h1v1h-1zM61 243h6v1h-6zM68 243h5v1h-5zM74 243h16v1h-16zM91 243h1v1h-1zM94 243h2v1h-2zM97 243h1v1h-1zM100 243h1v1h-1zM102 243h1v1h-1zM104 243h1v1h-1zM106 243h1v1h-1zM108 243h1v1h-1zM110 243h3v1h-3zM115 243h3v1h-3zM123 243h1v1h-1zM131 243h1v1h-1zM224 243h1v1h-1zM246 243h1v1h-1zM274 243h1v1h-1zM285 243h1v1h-1zM287 243h16v1h-16zM403 243h1v1h-1zM409 243h2v1h-2zM412 243h2v1h-2zM417 243h2v1h-2zM420 243h1v1h-1zM422 243h1v1h-1zM431 243h1v1h-1zM433 243h1v1h-1zM437 243h1v1h-1zM448 243h1v1h-1zM451 243h4v1h-4zM456 243h1v1h-1zM459 243h22v1h-22zM57 244h1v1h-1zM60 244h31v1h-31zM92 244h15v1h-15zM108 244h7v1h-7zM117 244h3v1h-3zM121 244h1v1h-1zM123 244h1v1h-1zM233 244h1v1h-1zM239 244h1v1h-1zM248 244h1v1h-1zM251 244h2v1h-2zM262 244h1v1h-1zM270 244h2v1h-2zM280 244h1v1h-1zM285 244h21v1h-21zM314 244h1v1h-1zM405 244h1v1h-1zM409 244h2v1h-2zM415 244h1v1h-1zM424 244h3v1h-3zM428 244h1v1h-1zM430 244h1v1h-1zM433 244h1v1h-1zM437 244h1v1h-1zM443 244h1v1h-1zM445 244h2v1h-2zM448 244h1v1h-1zM451 244h1v1h-1zM456 244h3v1h-3zM460 244h18v1h-18zM480 244h1v1h-1zM484 244h1v1h-1zM59 245h24v1h-24zM84 245h5v1h-5zM91 245h12v1h-12zM104 245h3v1h-3zM108 245h6v1h-6zM115 245h4v1h-4zM120 245h2v1h-2zM124 245h1v1h-1zM230 245h1v1h-1zM235 245h1v1h-1zM238 245h4v1h-4zM243 245h2v1h-2zM246 245h1v1h-1zM248 245h1v1h-1zM251 245h3v1h-3zM257 245h1v1h-1zM279 245h1v1h-1zM281 245h1v1h-1zM283 245h7v1h-7zM291 245h4v1h-4zM296 245h7v1h-7zM304 245h2v1h-2zM315 245h1v1h-1zM412 245h2v1h-2zM415 245h1v1h-1zM418 245h2v1h-2zM421 245h1v1h-1zM429 245h2v1h-2zM434 245h1v1h-1zM436 245h1v1h-1zM439 245h1v1h-1zM443 245h1v1h-1zM445 245h1v1h-1zM448 245h4v1h-4zM453 245h2v1h-2zM459 245h20v1h-20zM480 245h1v1h-1zM60 246h25v1h-25zM86 246h5v1h-5zM92 246h31v1h-31zM229 246h1v1h-1zM231 246h2v1h-2zM238 246h2v1h-2zM241 246h1v1h-1zM243 246h2v1h-2zM246 246h3v1h-3zM251 246h1v1h-1zM256 246h1v1h-1zM269 246h1v1h-1zM271 246h1v1h-1zM274 246h2v1h-2zM279 246h2v1h-2zM282 246h1v1h-1zM284 246h20v1h-20zM307 246h1v1h-1zM407 246h1v1h-1zM409 246h1v1h-1zM411 246h1v1h-1zM419 246h1v1h-1zM421 246h1v1h-1zM424 246h2v1h-2zM428 246h1v1h-1zM431 246h2v1h-2zM434 246h2v1h-2zM437 246h1v1h-1zM449 246h3v1h-3zM457 246h24v1h-24zM482 246h1v1h-1zM52 247h1v1h-1zM56 247h1v1h-1zM58 247h9v1h-9zM68 247h6v1h-6zM75 247h11v1h-11zM87 247h22v1h-22zM110 247h12v1h-12zM128 247h1v1h-1zM220 247h1v1h-1zM230 247h6v1h-6zM237 247h3v1h-3zM241 247h1v1h-1zM243 247h1v1h-1zM245 247h10v1h-10zM256 247h1v1h-1zM263 247h1v1h-1zM270 247h1v1h-1zM274 247h1v1h-1zM276 247h2v1h-2zM281 247h13v1h-13zM296 247h10v1h-10zM408 247h1v1h-1zM412 247h1v1h-1zM414 247h1v1h-1zM419 247h1v1h-1zM421 247h1v1h-1zM430 247h2v1h-2zM436 247h2v1h-2zM445 247h1v1h-1zM448 247h1v1h-1zM452 247h2v1h-2zM458 247h21v1h-21zM481 247h1v1h-1zM59 248h8v1h-8zM68 248h32v1h-32zM101 248h22v1h-22zM124 248h1v1h-1zM213 248h1v1h-1zM223 248h1v1h-1zM227 248h1v1h-1zM229 248h2v1h-2zM232 248h22v1h-22zM256 248h2v1h-2zM262 248h1v1h-1zM266 248h1v1h-1zM268 248h3v1h-3zM274 248h2v1h-2zM277 248h1v1h-1zM279 248h1v1h-1zM282 248h1v1h-1zM284 248h2v1h-2zM287 248h3v1h-3zM291 248h3v1h-3zM296 248h3v1h-3zM300 248h1v1h-1zM302 248h2v1h-2zM305 248h1v1h-1zM401 248h1v1h-1zM410 248h1v1h-1zM412 248h1v1h-1zM414 248h3v1h-3zM423 248h1v1h-1zM426 248h1v1h-1zM429 248h1v1h-1zM432 248h1v1h-1zM434 248h1v1h-1zM439 248h2v1h-2zM442 248h1v1h-1zM446 248h1v1h-1zM448 248h4v1h-4zM453 248h2v1h-2zM458 248h19v1h-19zM478 248h2v1h-2zM53 249h1v1h-1zM59 249h12v1h-12zM72 249h7v1h-7zM80 249h1v1h-1zM82 249h8v1h-8zM91 249h1v1h-1zM93 249h3v1h-3zM97 249h4v1h-4zM102 249h17v1h-17zM120 249h2v1h-2zM123 249h1v1h-1zM132 249h1v1h-1zM218 249h1v1h-1zM225 249h1v1h-1zM227 249h20v1h-20zM248 249h15v1h-15zM264 249h1v1h-1zM266 249h2v1h-2zM269 249h5v1h-5zM275 249h1v1h-1zM277 249h3v1h-3zM281 249h1v1h-1zM283 249h2v1h-2zM287 249h17v1h-17zM305 249h1v1h-1zM406 249h1v1h-1zM410 249h1v1h-1zM412 249h1v1h-1zM416 249h1v1h-1zM421 249h3v1h-3zM427 249h3v1h-3zM431 249h1v1h-1zM433 249h2v1h-2zM441 249h1v1h-1zM446 249h1v1h-1zM450 249h1v1h-1zM457 249h23v1h-23zM41 250h1v1h-1zM50 250h2v1h-2zM60 250h62v1h-62zM224 250h30v1h-30zM255 250h1v1h-1zM257 250h7v1h-7zM265 250h2v1h-2zM268 250h1v1h-1zM273 250h4v1h-4zM278 250h2v1h-2zM282 250h11v1h-11zM294 250h11v1h-11zM402 250h1v1h-1zM407 250h1v1h-1zM410 250h1v1h-1zM417 250h1v1h-1zM419 250h1v1h-1zM422 250h1v1h-1zM425 250h1v1h-1zM427 250h1v1h-1zM430 250h1v1h-1zM432 250h3v1h-3zM436 250h3v1h-3zM440 250h1v1h-1zM442 250h1v1h-1zM446 250h1v1h-1zM451 250h4v1h-4zM456 250h1v1h-1zM459 250h19v1h-19zM479 250h1v1h-1zM483 250h1v1h-1zM57 251h1v1h-1zM59 251h10v1h-10zM70 251h9v1h-9zM80 251h1v1h-1zM82 251h17v1h-17zM100 251h7v1h-7zM108 251h3v1h-3zM112 251h2v1h-2zM115 251h7v1h-7zM134 251h1v1h-1zM219 251h1v1h-1zM221 251h31v1h-31zM253 251h4v1h-4zM258 251h10v1h-10zM269 251h2v1h-2zM272 251h1v1h-1zM275 251h1v1h-1zM281 251h6v1h-6zM288 251h8v1h-8zM297 251h2v1h-2zM300 251h4v1h-4zM305 251h1v1h-1zM308 251h1v1h-1zM312 251h1v1h-1zM408 251h3v1h-3zM413 251h4v1h-4zM424 251h1v1h-1zM427 251h1v1h-1zM429 251h1v1h-1zM440 251h2v1h-2zM447 251h1v1h-1zM449 251h1v1h-1zM451 251h3v1h-3zM456 251h26v1h-26zM56 252h3v1h-3zM60 252h3v1h-3zM64 252h35v1h-35zM100 252h25v1h-25zM129 252h1v1h-1zM213 252h1v1h-1zM218 252h53v1h-53zM272 252h1v1h-1zM274 252h1v1h-1zM277 252h2v1h-2zM282 252h1v1h-1zM284 252h6v1h-6zM291 252h13v1h-13zM308 252h1v1h-1zM406 252h1v1h-1zM409 252h1v1h-1zM411 252h1v1h-1zM417 252h1v1h-1zM420 252h2v1h-2zM423 252h1v1h-1zM427 252h1v1h-1zM429 252h1v1h-1zM432 252h1v1h-1zM434 252h3v1h-3zM438 252h1v1h-1zM446 252h1v1h-1zM450 252h1v1h-1zM452 252h1v1h-1zM456 252h22v1h-22zM480 252h3v1h-3zM37 253h1v1h-1zM56 253h1v1h-1zM60 253h19v1h-19zM80 253h20v1h-20zM102 253h7v1h-7zM110 253h15v1h-15zM129 253h1v1h-1zM214 253h1v1h-1zM218 253h2v1h-2zM221 253h3v1h-3zM225 253h17v1h-17zM243 253h25v1h-25zM269 253h1v1h-1zM273 253h3v1h-3zM277 253h1v1h-1zM280 253h1v1h-1zM282 253h1v1h-1zM284 253h4v1h-4zM290 253h4v1h-4zM295 253h11v1h-11zM407 253h1v1h-1zM411 253h1v1h-1zM415 253h2v1h-2zM420 253h1v1h-1zM426 253h1v1h-1zM428 253h1v1h-1zM430 253h1v1h-1zM438 253h1v1h-1zM440 253h6v1h-6zM447 253h1v1h-1zM449 253h2v1h-2zM453 253h4v1h-4zM459 253h18v1h-18zM480 253h3v1h-3zM59 254h2v1h-2zM62 254h12v1h-12zM75 254h29v1h-29zM105 254h20v1h-20zM217 254h9v1h-9zM227 254h21v1h-21zM249 254h15v1h-15zM265 254h6v1h-6zM273 254h2v1h-2zM276 254h3v1h-3zM280 254h1v1h-1zM282 254h4v1h-4zM287 254h17v1h-17zM409 254h2v1h-2zM412 254h2v1h-2zM417 254h2v1h-2zM420 254h1v1h-1zM423 254h1v1h-1zM425 254h1v1h-1zM430 254h1v1h-1zM438 254h2v1h-2zM442 254h1v1h-1zM444 254h2v1h-2zM451 254h2v1h-2zM454 254h23v1h-23zM478 254h2v1h-2zM483 254h1v1h-1zM60 255h1v1h-1zM62 255h12v1h-12zM76 255h9v1h-9zM86 255h22v1h-22zM109 255h15v1h-15zM216 255h2v1h-2zM219 255h40v1h-40zM260 255h4v1h-4zM265 255h5v1h-5zM272 255h3v1h-3zM277 255h1v1h-1zM279 255h1v1h-1zM281 255h1v1h-1zM284 255h5v1h-5zM290 255h1v1h-1zM292 255h3v1h-3zM296 255h1v1h-1zM298 255h7v1h-7zM307 255h1v1h-1zM316 255h1v1h-1zM411 255h2v1h-2zM421 255h1v1h-1zM425 255h1v1h-1zM428 255h1v1h-1zM435 255h1v1h-1zM437 255h1v1h-1zM440 255h1v1h-1zM445 255h1v1h-1zM448 255h1v1h-1zM450 255h1v1h-1zM453 255h2v1h-2zM456 255h2v1h-2zM459 255h20v1h-20zM483 255h1v1h-1zM38 256h1v1h-1zM61 256h32v1h-32zM94 256h18v1h-18zM113 256h5v1h-5zM119 256h4v1h-4zM217 256h1v1h-1zM219 256h9v1h-9zM229 256h28v1h-28zM258 256h2v1h-2zM261 256h4v1h-4zM266 256h3v1h-3zM271 256h3v1h-3zM276 256h3v1h-3zM281 256h2v1h-2zM284 256h2v1h-2zM287 256h18v1h-18zM408 256h1v1h-1zM410 256h1v1h-1zM417 256h1v1h-1zM420 256h1v1h-1zM424 256h1v1h-1zM427 256h2v1h-2zM432 256h1v1h-1zM439 256h2v1h-2zM447 256h1v1h-1zM450 256h2v1h-2zM458 256h20v1h-20zM479 256h2v1h-2zM62 257h8v1h-8zM71 257h12v1h-12zM84 257h8v1h-8zM93 257h5v1h-5zM99 257h4v1h-4zM104 257h4v1h-4zM109 257h8v1h-8zM118 257h4v1h-4zM130 257h1v1h-1zM213 257h2v1h-2zM217 257h5v1h-5zM223 257h5v1h-5zM230 257h36v1h-36zM267 257h1v1h-1zM269 257h1v1h-1zM272 257h4v1h-4zM278 257h1v1h-1zM280 257h3v1h-3zM284 257h7v1h-7zM292 257h8v1h-8zM301 257h2v1h-2zM304 257h1v1h-1zM315 257h1v1h-1zM407 257h1v1h-1zM409 257h1v1h-1zM413 257h2v1h-2zM421 257h1v1h-1zM423 257h2v1h-2zM427 257h1v1h-1zM431 257h1v1h-1zM445 257h3v1h-3zM449 257h1v1h-1zM451 257h1v1h-1zM453 257h3v1h-3zM457 257h1v1h-1zM460 257h19v1h-19zM481 257h1v1h-1zM483 257h1v1h-1zM486 257h1v1h-1zM50 258h1v1h-1zM57 258h1v1h-1zM61 258h1v1h-1zM63 258h8v1h-8zM72 258h16v1h-16zM89 258h1v1h-1zM91 258h1v1h-1zM95 258h11v1h-11zM107 258h8v1h-8zM117 258h1v1h-1zM119 258h1v1h-1zM125 258h1v1h-1zM217 258h1v1h-1zM219 258h2v1h-2zM222 258h8v1h-8zM231 258h29v1h-29zM261 258h4v1h-4zM266 258h5v1h-5zM272 258h1v1h-1zM274 258h2v1h-2zM280 258h16v1h-16zM297 258h8v1h-8zM408 258h1v1h-1zM410 258h2v1h-2zM421 258h2v1h-2zM425 258h1v1h-1zM431 258h2v1h-2zM436 258h1v1h-1zM438 258h4v1h-4zM443 258h1v1h-1zM445 258h1v1h-1zM449 258h2v1h-2zM452 258h1v1h-1zM454 258h1v1h-1zM458 258h1v1h-1zM460 258h17v1h-17zM479 258h2v1h-2zM50 259h1v1h-1zM62 259h3v1h-3zM66 259h22v1h-22zM96 259h1v1h-1zM99 259h1v1h-1zM101 259h1v1h-1zM103 259h5v1h-5zM109 259h2v1h-2zM114 259h1v1h-1zM119 259h1v1h-1zM212 259h1v1h-1zM214 259h1v1h-1zM218 259h1v1h-1zM220 259h2v1h-2zM223 259h1v1h-1zM225 259h28v1h-28zM254 259h9v1h-9zM265 259h2v1h-2zM269 259h4v1h-4zM274 259h2v1h-2zM277 259h2v1h-2zM281 259h1v1h-1zM284 259h2v1h-2zM287 259h1v1h-1zM289 259h12v1h-12zM302 259h3v1h-3zM319 259h1v1h-1zM413 259h1v1h-1zM416 259h2v1h-2zM424 259h1v1h-1zM426 259h2v1h-2zM431 259h1v1h-1zM434 259h1v1h-1zM436 259h1v1h-1zM441 259h1v1h-1zM450 259h2v1h-2zM455 259h1v1h-1zM457 259h18v1h-18zM476 259h1v1h-1zM479 259h1v1h-1zM49 260h1v1h-1zM64 260h1v1h-1zM66 260h3v1h-3zM71 260h1v1h-1zM73 260h2v1h-2zM76 260h10v1h-10zM87 260h1v1h-1zM98 260h2v1h-2zM106 260h2v1h-2zM110 260h1v1h-1zM113 260h1v1h-1zM115 260h1v1h-1zM132 260h1v1h-1zM217 260h1v1h-1zM220 260h1v1h-1zM223 260h1v1h-1zM225 260h2v1h-2zM228 260h5v1h-5zM234 260h3v1h-3zM238 260h24v1h-24zM263 260h4v1h-4zM268 260h2v1h-2zM271 260h1v1h-1zM273 260h1v1h-1zM275 260h1v1h-1zM277 260h2v1h-2zM280 260h2v1h-2zM285 260h3v1h-3zM289 260h5v1h-5zM295 260h4v1h-4zM300 260h4v1h-4zM412 260h2v1h-2zM416 260h2v1h-2zM420 260h2v1h-2zM432 260h1v1h-1zM439 260h1v1h-1zM443 260h1v1h-1zM445 260h1v1h-1zM449 260h1v1h-1zM452 260h1v1h-1zM454 260h1v1h-1zM457 260h3v1h-3zM461 260h14v1h-14zM476 260h2v1h-2zM45 261h1v1h-1zM63 261h3v1h-3zM68 261h3v1h-3zM72 261h3v1h-3zM76 261h1v1h-1zM78 261h3v1h-3zM82 261h3v1h-3zM86 261h1v1h-1zM88 261h2v1h-2zM100 261h1v1h-1zM102 261h4v1h-4zM112 261h1v1h-1zM118 261h1v1h-1zM121 261h1v1h-1zM125 261h1v1h-1zM128 261h1v1h-1zM219 261h1v1h-1zM224 261h2v1h-2zM229 261h7v1h-7zM237 261h23v1h-23zM261 261h5v1h-5zM268 261h5v1h-5zM274 261h1v1h-1zM277 261h1v1h-1zM279 261h1v1h-1zM281 261h1v1h-1zM284 261h14v1h-14zM299 261h2v1h-2zM302 261h1v1h-1zM410 261h1v1h-1zM412 261h1v1h-1zM416 261h1v1h-1zM418 261h4v1h-4zM428 261h1v1h-1zM438 261h2v1h-2zM443 261h1v1h-1zM446 261h3v1h-3zM450 261h2v1h-2zM454 261h2v1h-2zM461 261h15v1h-15zM477 261h1v1h-1zM48 262h1v1h-1zM54 262h1v1h-1zM66 262h2v1h-2zM70 262h2v1h-2zM73 262h1v1h-1zM75 262h2v1h-2zM79 262h2v1h-2zM82 262h2v1h-2zM85 262h2v1h-2zM95 262h1v1h-1zM99 262h2v1h-2zM102 262h1v1h-1zM104 262h2v1h-2zM114 262h2v1h-2zM117 262h1v1h-1zM119 262h1v1h-1zM123 262h2v1h-2zM132 262h1v1h-1zM222 262h1v1h-1zM224 262h1v1h-1zM230 262h3v1h-3zM234 262h3v1h-3zM240 262h1v1h-1zM243 262h14v1h-14zM258 262h1v1h-1zM265 262h4v1h-4zM270 262h1v1h-1zM273 262h1v1h-1zM275 262h1v1h-1zM277 262h2v1h-2zM280 262h2v1h-2zM283 262h2v1h-2zM287 262h9v1h-9zM297 262h5v1h-5zM309 262h1v1h-1zM418 262h1v1h-1zM422 262h1v1h-1zM424 262h1v1h-1zM427 262h2v1h-2zM431 262h3v1h-3zM435 262h1v1h-1zM437 262h1v1h-1zM443 262h1v1h-1zM446 262h1v1h-1zM453 262h2v1h-2zM457 262h1v1h-1zM460 262h14v1h-14zM59 263h1v1h-1zM64 263h1v1h-1zM67 263h1v1h-1zM71 263h7v1h-7zM81 263h3v1h-3zM94 263h1v1h-1zM100 263h2v1h-2zM104 263h2v1h-2zM108 263h2v1h-2zM112 263h6v1h-6zM119 263h2v1h-2zM217 263h1v1h-1zM219 263h2v1h-2zM222 263h1v1h-1zM225 263h1v1h-1zM232 263h6v1h-6zM239 263h1v1h-1zM241 263h1v1h-1zM243 263h1v1h-1zM245 263h5v1h-5zM251 263h1v1h-1zM257 263h2v1h-2zM262 263h2v1h-2zM266 263h2v1h-2zM270 263h1v1h-1zM274 263h3v1h-3zM280 263h2v1h-2zM283 263h1v1h-1zM285 263h2v1h-2zM288 263h1v1h-1zM290 263h11v1h-11zM302 263h1v1h-1zM304 263h1v1h-1zM415 263h1v1h-1zM419 263h1v1h-1zM421 263h1v1h-1zM425 263h3v1h-3zM436 263h2v1h-2zM440 263h1v1h-1zM446 263h1v1h-1zM448 263h1v1h-1zM454 263h4v1h-4zM459 263h1v1h-1zM461 263h1v1h-1zM463 263h10v1h-10zM474 263h1v1h-1zM478 263h2v1h-2zM484 263h1v1h-1zM36 264h1v1h-1zM66 264h3v1h-3zM70 264h2v1h-2zM74 264h2v1h-2zM77 264h1v1h-1zM79 264h5v1h-5zM86 264h1v1h-1zM90 264h1v1h-1zM93 264h1v1h-1zM95 264h2v1h-2zM102 264h1v1h-1zM104 264h1v1h-1zM108 264h1v1h-1zM112 264h1v1h-1zM118 264h2v1h-2zM127 264h1v1h-1zM215 264h1v1h-1zM227 264h2v1h-2zM234 264h1v1h-1zM236 264h2v1h-2zM241 264h1v1h-1zM244 264h1v1h-1zM248 264h1v1h-1zM250 264h3v1h-3zM255 264h1v1h-1zM259 264h1v1h-1zM264 264h1v1h-1zM267 264h1v1h-1zM273 264h1v1h-1zM275 264h2v1h-2zM281 264h1v1h-1zM285 264h1v1h-1zM288 264h12v1h-12zM301 264h1v1h-1zM303 264h1v1h-1zM401 264h1v1h-1zM415 264h1v1h-1zM420 264h1v1h-1zM422 264h1v1h-1zM429 264h4v1h-4zM434 264h1v1h-1zM439 264h1v1h-1zM442 264h1v1h-1zM453 264h1v1h-1zM456 264h1v1h-1zM458 264h1v1h-1zM460 264h1v1h-1zM465 264h9v1h-9zM475 264h1v1h-1zM61 265h2v1h-2zM64 265h3v1h-3zM68 265h6v1h-6zM75 265h1v1h-1zM77 265h2v1h-2zM80 265h1v1h-1zM82 265h6v1h-6zM92 265h1v1h-1zM95 265h1v1h-1zM102 265h3v1h-3zM107 265h1v1h-1zM111 265h1v1h-1zM127 265h1v1h-1zM213 265h1v1h-1zM230 265h2v1h-2zM237 265h4v1h-4zM242 265h1v1h-1zM244 265h1v1h-1zM253 265h1v1h-1zM257 265h1v1h-1zM260 265h1v1h-1zM266 265h1v1h-1zM268 265h1v1h-1zM270 265h1v1h-1zM272 265h1v1h-1zM277 265h1v1h-1zM281 265h2v1h-2zM285 265h1v1h-1zM288 265h16v1h-16zM412 265h1v1h-1zM418 265h1v1h-1zM421 265h1v1h-1zM423 265h1v1h-1zM427 265h3v1h-3zM440 265h1v1h-1zM442 265h1v1h-1zM446 265h1v1h-1zM454 265h1v1h-1zM457 265h1v1h-1zM465 265h3v1h-3zM469 265h2v1h-2zM474 265h1v1h-1zM478 265h1v1h-1zM482 265h1v1h-1zM66 266h1v1h-1zM72 266h2v1h-2zM76 266h2v1h-2zM79 266h1v1h-1zM82 266h2v1h-2zM85 266h3v1h-3zM92 266h2v1h-2zM95 266h5v1h-5zM106 266h1v1h-1zM110 266h1v1h-1zM117 266h2v1h-2zM122 266h2v1h-2zM227 266h1v1h-1zM235 266h1v1h-1zM241 266h1v1h-1zM248 266h1v1h-1zM251 266h1v1h-1zM265 266h2v1h-2zM276 266h3v1h-3zM280 266h2v1h-2zM283 266h4v1h-4zM288 266h15v1h-15zM320 266h1v1h-1zM408 266h1v1h-1zM411 266h1v1h-1zM413 266h1v1h-1zM418 266h1v1h-1zM420 266h1v1h-1zM423 266h2v1h-2zM426 266h2v1h-2zM429 266h1v1h-1zM432 266h1v1h-1zM436 266h1v1h-1zM442 266h3v1h-3zM457 266h2v1h-2zM461 266h3v1h-3zM465 266h3v1h-3zM469 266h2v1h-2zM473 266h1v1h-1zM49 267h1v1h-1zM56 267h1v1h-1zM65 267h1v1h-1zM68 267h3v1h-3zM74 267h3v1h-3zM78 267h4v1h-4zM85 267h1v1h-1zM87 267h1v1h-1zM94 267h1v1h-1zM99 267h2v1h-2zM103 267h1v1h-1zM110 267h3v1h-3zM117 267h1v1h-1zM127 267h1v1h-1zM130 267h1v1h-1zM220 267h2v1h-2zM231 267h1v1h-1zM240 267h2v1h-2zM245 267h1v1h-1zM263 267h1v1h-1zM268 267h6v1h-6zM275 267h1v1h-1zM280 267h2v1h-2zM285 267h1v1h-1zM288 267h15v1h-15zM307 267h1v1h-1zM404 267h1v1h-1zM414 267h2v1h-2zM417 267h2v1h-2zM421 267h2v1h-2zM424 267h2v1h-2zM427 267h1v1h-1zM431 267h1v1h-1zM434 267h1v1h-1zM439 267h1v1h-1zM458 267h2v1h-2zM461 267h1v1h-1zM465 267h2v1h-2zM468 267h1v1h-1zM470 267h3v1h-3zM475 267h1v1h-1zM479 267h1v1h-1zM57 268h1v1h-1zM63 268h1v1h-1zM65 268h1v1h-1zM67 268h2v1h-2zM70 268h3v1h-3zM76 268h5v1h-5zM82 268h2v1h-2zM86 268h3v1h-3zM92 268h1v1h-1zM94 268h1v1h-1zM97 268h2v1h-2zM101 268h1v1h-1zM105 268h1v1h-1zM107 268h2v1h-2zM119 268h1v1h-1zM145 268h1v1h-1zM219 268h1v1h-1zM230 268h1v1h-1zM241 268h1v1h-1zM250 268h1v1h-1zM252 268h1v1h-1zM256 268h1v1h-1zM267 268h4v1h-4zM272 268h2v1h-2zM275 268h2v1h-2zM282 268h1v1h-1zM284 268h1v1h-1zM287 268h1v1h-1zM289 268h7v1h-7zM297 268h4v1h-4zM302 268h1v1h-1zM414 268h2v1h-2zM417 268h3v1h-3zM421 268h1v1h-1zM423 268h1v1h-1zM427 268h7v1h-7zM436 268h1v1h-1zM442 268h2v1h-2zM448 268h1v1h-1zM458 268h2v1h-2zM462 268h3v1h-3zM472 268h1v1h-1zM474 268h1v1h-1zM59 269h1v1h-1zM62 269h1v1h-1zM64 269h2v1h-2zM68 269h3v1h-3zM72 269h2v1h-2zM76 269h12v1h-12zM89 269h1v1h-1zM93 269h1v1h-1zM97 269h1v1h-1zM101 269h1v1h-1zM109 269h1v1h-1zM115 269h2v1h-2zM118 269h1v1h-1zM120 269h1v1h-1zM122 269h1v1h-1zM215 269h1v1h-1zM217 269h1v1h-1zM221 269h1v1h-1zM227 269h1v1h-1zM237 269h1v1h-1zM241 269h1v1h-1zM243 269h1v1h-1zM250 269h1v1h-1zM255 269h1v1h-1zM264 269h1v1h-1zM269 269h3v1h-3zM273 269h1v1h-1zM275 269h1v1h-1zM277 269h2v1h-2zM280 269h1v1h-1zM282 269h1v1h-1zM284 269h1v1h-1zM286 269h5v1h-5zM292 269h3v1h-3zM296 269h1v1h-1zM298 269h5v1h-5zM411 269h1v1h-1zM416 269h2v1h-2zM419 269h1v1h-1zM422 269h3v1h-3zM427 269h1v1h-1zM430 269h2v1h-2zM433 269h1v1h-1zM435 269h2v1h-2zM456 269h1v1h-1zM460 269h1v1h-1zM462 269h2v1h-2zM467 269h5v1h-5zM473 269h1v1h-1zM477 269h1v1h-1zM62 270h3v1h-3zM66 270h1v1h-1zM70 270h7v1h-7zM79 270h2v1h-2zM82 270h4v1h-4zM90 270h1v1h-1zM99 270h1v1h-1zM101 270h1v1h-1zM103 270h1v1h-1zM105 270h1v1h-1zM109 270h1v1h-1zM127 270h1v1h-1zM220 270h1v1h-1zM225 270h1v1h-1zM232 270h1v1h-1zM242 270h1v1h-1zM245 270h1v1h-1zM256 270h1v1h-1zM268 270h1v1h-1zM270 270h2v1h-2zM273 270h3v1h-3zM279 270h3v1h-3zM284 270h1v1h-1zM286 270h1v1h-1zM288 270h1v1h-1zM291 270h3v1h-3zM296 270h8v1h-8zM414 270h2v1h-2zM417 270h1v1h-1zM420 270h1v1h-1zM422 270h3v1h-3zM428 270h6v1h-6zM435 270h1v1h-1zM439 270h1v1h-1zM443 270h1v1h-1zM454 270h1v1h-1zM457 270h3v1h-3zM467 270h2v1h-2zM470 270h1v1h-1zM55 271h1v1h-1zM63 271h2v1h-2zM67 271h9v1h-9zM78 271h1v1h-1zM81 271h1v1h-1zM84 271h1v1h-1zM87 271h1v1h-1zM97 271h1v1h-1zM99 271h2v1h-2zM102 271h1v1h-1zM106 271h1v1h-1zM108 271h1v1h-1zM110 271h1v1h-1zM123 271h1v1h-1zM128 271h1v1h-1zM130 271h1v1h-1zM219 271h1v1h-1zM237 271h1v1h-1zM256 271h1v1h-1zM259 271h1v1h-1zM269 271h2v1h-2zM272 271h1v1h-1zM274 271h1v1h-1zM277 271h1v1h-1zM280 271h2v1h-2zM284 271h2v1h-2zM291 271h1v1h-1zM294 271h8v1h-8zM303 271h1v1h-1zM313 271h1v1h-1zM328 271h1v1h-1zM401 271h1v1h-1zM405 271h1v1h-1zM412 271h1v1h-1zM414 271h1v1h-1zM416 271h5v1h-5zM422 271h2v1h-2zM426 271h2v1h-2zM429 271h3v1h-3zM433 271h2v1h-2zM436 271h2v1h-2zM444 271h1v1h-1zM452 271h1v1h-1zM458 271h1v1h-1zM463 271h1v1h-1zM467 271h2v1h-2zM470 271h2v1h-2zM48 272h1v1h-1zM66 272h7v1h-7zM74 272h8v1h-8zM84 272h1v1h-1zM86 272h1v1h-1zM88 272h1v1h-1zM101 272h1v1h-1zM106 272h1v1h-1zM110 272h1v1h-1zM126 272h1v1h-1zM218 272h1v1h-1zM232 272h1v1h-1zM257 272h1v1h-1zM262 272h1v1h-1zM264 272h1v1h-1zM271 272h2v1h-2zM274 272h2v1h-2zM277 272h2v1h-2zM281 272h1v1h-1zM283 272h2v1h-2zM287 272h3v1h-3zM291 272h2v1h-2zM294 272h3v1h-3zM298 272h6v1h-6zM406 272h1v1h-1zM412 272h4v1h-4zM417 272h1v1h-1zM420 272h4v1h-4zM426 272h1v1h-1zM428 272h1v1h-1zM431 272h1v1h-1zM434 272h1v1h-1zM436 272h2v1h-2zM445 272h1v1h-1zM447 272h1v1h-1zM459 272h1v1h-1zM462 272h1v1h-1zM465 272h1v1h-1zM477 272h1v1h-1zM480 272h1v1h-1zM485 272h1v1h-1zM58 273h1v1h-1zM60 273h1v1h-1zM68 273h1v1h-1zM70 273h5v1h-5zM77 273h11v1h-11zM108 273h1v1h-1zM110 273h1v1h-1zM112 273h1v1h-1zM128 273h1v1h-1zM136 273h1v1h-1zM215 273h1v1h-1zM223 273h1v1h-1zM226 273h1v1h-1zM241 273h2v1h-2zM247 273h1v1h-1zM260 273h1v1h-1zM275 273h6v1h-6zM282 273h1v1h-1zM284 273h4v1h-4zM290 273h3v1h-3zM294 273h10v1h-10zM311 273h1v1h-1zM408 273h1v1h-1zM413 273h5v1h-5zM419 273h11v1h-11zM431 273h1v1h-1zM434 273h1v1h-1zM436 273h1v1h-1zM438 273h1v1h-1zM461 273h1v1h-1zM463 273h4v1h-4zM485 273h1v1h-1zM60 274h1v1h-1zM63 274h1v1h-1zM68 274h6v1h-6zM75 274h7v1h-7zM83 274h2v1h-2zM87 274h1v1h-1zM94 274h1v1h-1zM104 274h2v1h-2zM110 274h1v1h-1zM117 274h1v1h-1zM124 274h1v1h-1zM216 274h1v1h-1zM230 274h1v1h-1zM238 274h1v1h-1zM243 274h1v1h-1zM250 274h3v1h-3zM260 274h1v1h-1zM263 274h1v1h-1zM277 274h1v1h-1zM281 274h2v1h-2zM291 274h2v1h-2zM295 274h6v1h-6zM303 274h1v1h-1zM305 274h1v1h-1zM411 274h1v1h-1zM413 274h5v1h-5zM419 274h5v1h-5zM425 274h6v1h-6zM433 274h1v1h-1zM435 274h4v1h-4zM443 274h1v1h-1zM450 274h1v1h-1zM472 274h1v1h-1zM480 274h1v1h-1zM63 275h1v1h-1zM65 275h12v1h-12zM79 275h2v1h-2zM82 275h1v1h-1zM85 275h4v1h-4zM91 275h1v1h-1zM94 275h1v1h-1zM107 275h1v1h-1zM113 275h1v1h-1zM219 275h1v1h-1zM236 275h1v1h-1zM239 275h1v1h-1zM244 275h1v1h-1zM252 275h1v1h-1zM254 275h1v1h-1zM264 275h1v1h-1zM279 275h1v1h-1zM283 275h1v1h-1zM285 275h1v1h-1zM287 275h1v1h-1zM290 275h3v1h-3zM294 275h6v1h-6zM304 275h1v1h-1zM317 275h1v1h-1zM410 275h1v1h-1zM412 275h1v1h-1zM414 275h4v1h-4zM419 275h3v1h-3zM424 275h2v1h-2zM427 275h1v1h-1zM431 275h1v1h-1zM433 275h2v1h-2zM437 275h1v1h-1zM440 275h1v1h-1zM452 275h1v1h-1zM458 275h1v1h-1zM461 275h1v1h-1zM463 275h1v1h-1zM467 275h3v1h-3zM472 275h1v1h-1zM481 275h1v1h-1zM49 276h1v1h-1zM64 276h4v1h-4zM69 276h13v1h-13zM83 276h4v1h-4zM90 276h2v1h-2zM93 276h1v1h-1zM96 276h1v1h-1zM116 276h1v1h-1zM215 276h1v1h-1zM252 276h1v1h-1zM272 276h1v1h-1zM277 276h1v1h-1zM290 276h2v1h-2zM293 276h1v1h-1zM295 276h3v1h-3zM299 276h2v1h-2zM302 276h1v1h-1zM406 276h1v1h-1zM411 276h3v1h-3zM415 276h1v1h-1zM417 276h1v1h-1zM419 276h1v1h-1zM421 276h3v1h-3zM425 276h2v1h-2zM428 276h3v1h-3zM434 276h1v1h-1zM437 276h1v1h-1zM454 276h2v1h-2zM459 276h1v1h-1zM470 276h1v1h-1zM481 276h1v1h-1zM60 277h1v1h-1zM65 277h22v1h-22zM93 277h2v1h-2zM99 277h1v1h-1zM101 277h1v1h-1zM108 277h1v1h-1zM116 277h1v1h-1zM232 277h1v1h-1zM250 277h1v1h-1zM272 277h1v1h-1zM276 277h1v1h-1zM280 277h1v1h-1zM290 277h11v1h-11zM306 277h1v1h-1zM315 277h1v1h-1zM413 277h1v1h-1zM415 277h4v1h-4zM420 277h3v1h-3zM424 277h4v1h-4zM429 277h2v1h-2zM433 277h3v1h-3zM437 277h1v1h-1zM441 277h1v1h-1zM443 277h1v1h-1zM451 277h1v1h-1zM459 277h1v1h-1zM468 277h1v1h-1zM474 277h1v1h-1zM64 278h1v1h-1zM66 278h18v1h-18zM85 278h4v1h-4zM103 278h1v1h-1zM232 278h1v1h-1zM238 278h1v1h-1zM245 278h1v1h-1zM253 278h1v1h-1zM259 278h1v1h-1zM267 278h1v1h-1zM292 278h1v1h-1zM294 278h3v1h-3zM298 278h1v1h-1zM301 278h1v1h-1zM412 278h2v1h-2zM415 278h1v1h-1zM417 278h1v1h-1zM419 278h5v1h-5zM425 278h9v1h-9zM478 278h1v1h-1zM48 279h1v1h-1zM65 279h3v1h-3zM69 279h13v1h-13zM83 279h1v1h-1zM86 279h1v1h-1zM114 279h1v1h-1zM117 279h1v1h-1zM234 279h1v1h-1zM245 279h1v1h-1zM271 279h1v1h-1zM292 279h1v1h-1zM295 279h4v1h-4zM300 279h1v1h-1zM303 279h1v1h-1zM405 279h1v1h-1zM412 279h17v1h-17zM430 279h1v1h-1zM432 279h3v1h-3zM438 279h1v1h-1zM443 279h1v1h-1zM458 279h1v1h-1zM53 280h1v1h-1zM64 280h1v1h-1zM66 280h1v1h-1zM69 280h6v1h-6zM76 280h1v1h-1zM78 280h7v1h-7zM86 280h1v1h-1zM89 280h1v1h-1zM93 280h1v1h-1zM106 280h1v1h-1zM218 280h1v1h-1zM273 280h1v1h-1zM275 280h1v1h-1zM285 280h1v1h-1zM293 280h4v1h-4zM298 280h2v1h-2zM303 280h1v1h-1zM307 280h1v1h-1zM403 280h1v1h-1zM411 280h1v1h-1zM413 280h7v1h-7zM421 280h4v1h-4zM426 280h1v1h-1zM430 280h1v1h-1zM433 280h2v1h-2zM440 280h2v1h-2zM443 280h1v1h-1zM449 280h1v1h-1zM454 280h1v1h-1zM466 280h1v1h-1zM477 280h1v1h-1zM66 281h13v1h-13zM80 281h5v1h-5zM86 281h2v1h-2zM93 281h1v1h-1zM101 281h2v1h-2zM114 281h1v1h-1zM119 281h1v1h-1zM219 281h1v1h-1zM221 281h1v1h-1zM231 281h1v1h-1zM253 281h1v1h-1zM255 281h1v1h-1zM259 281h2v1h-2zM265 281h2v1h-2zM279 281h1v1h-1zM286 281h1v1h-1zM292 281h1v1h-1zM294 281h1v1h-1zM402 281h1v1h-1zM407 281h1v1h-1zM412 281h1v1h-1zM414 281h2v1h-2zM417 281h10v1h-10zM433 281h1v1h-1zM436 281h1v1h-1zM448 281h1v1h-1zM450 281h1v1h-1zM454 281h1v1h-1zM457 281h1v1h-1zM459 281h1v1h-1zM481 281h1v1h-1zM65 282h3v1h-3zM71 282h13v1h-13zM85 282h1v1h-1zM123 282h1v1h-1zM131 282h1v1h-1zM239 282h1v1h-1zM255 282h1v1h-1zM266 282h1v1h-1zM276 282h2v1h-2zM296 282h1v1h-1zM299 282h1v1h-1zM405 282h1v1h-1zM411 282h2v1h-2zM414 282h2v1h-2zM417 282h2v1h-2zM420 282h4v1h-4zM425 282h3v1h-3zM429 282h3v1h-3zM433 282h1v1h-1zM441 282h1v1h-1zM447 282h1v1h-1zM449 282h1v1h-1zM460 282h1v1h-1zM466 282h1v1h-1zM65 283h3v1h-3zM69 283h9v1h-9zM79 283h1v1h-1zM81 283h4v1h-4zM87 283h1v1h-1zM112 283h2v1h-2zM120 283h3v1h-3zM215 283h1v1h-1zM222 283h1v1h-1zM255 283h1v1h-1zM279 283h1v1h-1zM283 283h1v1h-1zM292 283h1v1h-1zM407 283h1v1h-1zM412 283h3v1h-3zM416 283h4v1h-4zM422 283h3v1h-3zM426 283h1v1h-1zM428 283h1v1h-1zM430 283h1v1h-1zM432 283h2v1h-2zM447 283h1v1h-1zM451 283h1v1h-1zM464 283h1v1h-1zM68 284h12v1h-12zM81 284h4v1h-4zM101 284h1v1h-1zM116 284h1v1h-1zM219 284h1v1h-1zM242 284h1v1h-1zM246 284h1v1h-1zM284 284h1v1h-1zM292 284h1v1h-1zM412 284h1v1h-1zM414 284h1v1h-1zM416 284h1v1h-1zM418 284h3v1h-3zM422 284h1v1h-1zM424 284h3v1h-3zM432 284h1v1h-1zM461 284h1v1h-1zM52 285h1v1h-1zM57 285h1v1h-1zM66 285h2v1h-2zM69 285h3v1h-3zM74 285h2v1h-2zM77 285h4v1h-4zM82 285h1v1h-1zM90 285h1v1h-1zM118 285h1v1h-1zM124 285h1v1h-1zM230 285h1v1h-1zM233 285h1v1h-1zM243 285h1v1h-1zM277 285h1v1h-1zM294 285h1v1h-1zM301 285h1v1h-1zM412 285h2v1h-2zM416 285h1v1h-1zM418 285h4v1h-4zM423 285h6v1h-6zM431 285h1v1h-1zM433 285h1v1h-1zM436 285h1v1h-1zM440 285h1v1h-1zM443 285h1v1h-1zM464 285h1v1h-1zM68 286h1v1h-1zM73 286h2v1h-2zM76 286h5v1h-5zM84 286h1v1h-1zM94 286h1v1h-1zM98 286h1v1h-1zM218 286h1v1h-1zM228 286h1v1h-1zM244 286h1v1h-1zM254 286h2v1h-2zM273 286h1v1h-1zM307 286h1v1h-1zM309 286h1v1h-1zM411 286h1v1h-1zM414 286h5v1h-5zM425 286h3v1h-3zM438 286h1v1h-1zM445 286h1v1h-1zM456 286h1v1h-1zM53 287h1v1h-1zM62 287h1v1h-1zM65 287h1v1h-1zM69 287h6v1h-6zM76 287h1v1h-1zM79 287h1v1h-1zM83 287h2v1h-2zM117 287h1v1h-1zM135 287h1v1h-1zM219 287h1v1h-1zM237 287h1v1h-1zM260 287h1v1h-1zM262 287h1v1h-1zM282 287h2v1h-2zM416 287h1v1h-1zM418 287h1v1h-1zM424 287h1v1h-1zM426 287h1v1h-1zM440 287h1v1h-1zM471 287h1v1h-1zM73 288h1v1h-1zM79 288h2v1h-2zM82 288h1v1h-1zM102 288h1v1h-1zM125 288h1v1h-1zM248 288h1v1h-1zM269 288h1v1h-1zM275 288h1v1h-1zM280 288h1v1h-1zM290 288h1v1h-1zM402 288h1v1h-1zM420 288h3v1h-3zM443 288h1v1h-1zM445 288h1v1h-1zM459 288h1v1h-1zM481 288h1v1h-1zM483 288h1v1h-1zM74 289h1v1h-1zM77 289h2v1h-2zM81 289h2v1h-2zM104 289h1v1h-1zM119 289h1v1h-1zM125 289h1v1h-1zM254 289h1v1h-1zM258 289h1v1h-1zM266 289h1v1h-1zM272 289h1v1h-1zM415 289h1v1h-1zM433 289h1v1h-1zM437 289h1v1h-1zM444 289h1v1h-1zM456 289h1v1h-1zM471 289h1v1h-1zM88 290h1v1h-1zM128 290h1v1h-1zM217 290h1v1h-1zM222 290h1v1h-1zM234 290h1v1h-1zM243 290h1v1h-1zM245 290h1v1h-1zM286 290h1v1h-1zM420 290h1v1h-1zM56 291h1v1h-1zM73 291h1v1h-1zM75 291h2v1h-2zM81 291h2v1h-2zM126 291h1v1h-1zM129 291h1v1h-1zM135 291h1v1h-1zM228 291h1v1h-1zM231 291h1v1h-1zM234 291h1v1h-1zM267 291h1v1h-1zM317 291h1v1h-1zM407 291h1v1h-1zM422 291h1v1h-1zM486 291h1v1h-1zM61 292h1v1h-1zM67 292h1v1h-1zM69 292h1v1h-1zM105 292h1v1h-1zM128 292h1v1h-1zM238 292h1v1h-1zM262 292h1v1h-1zM281 292h1v1h-1zM438 292h1v1h-1zM451 292h1v1h-1zM481 292h1v1h-1zM239 400h1v1h-1zM241 402h1v1h-1zM242 403h1v1h-1zM73 404h1v1h-1zM225 404h1v1h-1zM226 405h1v1h-1zM53 406h1v1h-1zM236 406h1v1h-1zM244 406h1v1h-1zM253 406h1v1h-1zM60 407h1v1h-1zM70 407h1v1h-1zM244 407h1v1h-1zM224 408h1v1h-1zM228 408h1v1h-1zM236 408h1v1h-1zM240 408h1v1h-1zM59 409h1v1h-1zM68 409h1v1h-1zM297 409h1v1h-1zM42 410h1v1h-1zM52 410h1v1h-1zM59 410h1v1h-1zM227 410h1v1h-1zM232 410h1v1h-1zM285 410h1v1h-1zM46 411h1v1h-1zM68 411h1v1h-1zM228 411h1v1h-1zM230 411h1v1h-1zM249 411h1v1h-1zM44 412h1v1h-1zM57 412h1v1h-1zM228 412h1v1h-1zM237 412h1v1h-1zM245 412h1v1h-1zM250 412h1v1h-1zM45 413h1v1h-1zM49 413h1v1h-1zM231 413h1v1h-1zM234 413h1v1h-1zM293 413h1v1h-1zM47 414h2v1h-2zM53 414h1v1h-1zM71 414h1v1h-1zM224 414h1v1h-1zM228 414h1v1h-1zM236 414h1v1h-1zM238 414h1v1h-1zM252 414h1v1h-1zM255 414h1v1h-1zM287 414h1v1h-1zM295 414h1v1h-1zM48 415h1v1h-1zM50 415h1v1h-1zM52 415h2v1h-2zM232 415h1v1h-1zM237 415h1v1h-1zM239 415h2v1h-2zM246 415h1v1h-1zM55 416h1v1h-1zM69 416h1v1h-1zM224 416h1v1h-1zM226 416h1v1h-1zM230 416h1v1h-1zM234 416h2v1h-2zM237 416h1v1h-1zM253 416h1v1h-1zM43 417h1v1h-1zM45 417h1v1h-1zM47 417h1v1h-1zM57 417h1v1h-1zM67 417h1v1h-1zM228 417h1v1h-1zM242 417h3v1h-3zM247 417h1v1h-1zM283 417h1v1h-1zM52 418h1v1h-1zM55 418h1v1h-1zM63 418h1v1h-1zM228 418h1v1h-1zM232 418h2v1h-2zM235 418h1v1h-1zM237 418h1v1h-1zM242 418h1v1h-1zM249 418h1v1h-1zM255 418h1v1h-1zM285 418h2v1h-2zM63 419h1v1h-1zM73 419h1v1h-1zM223 419h1v1h-1zM228 419h1v1h-1zM231 419h3v1h-3zM243 419h1v1h-1zM247 419h2v1h-2zM250 419h1v1h-1zM254 419h1v1h-1zM257 419h1v1h-1zM278 419h1v1h-1zM284 419h3v1h-3zM288 419h1v1h-1zM50 420h2v1h-2zM53 420h2v1h-2zM59 420h1v1h-1zM65 420h1v1h-1zM223 420h1v1h-1zM226 420h1v1h-1zM230 420h1v1h-1zM232 420h1v1h-1zM242 420h1v1h-1zM244 420h3v1h-3zM248 420h1v1h-1zM263 420h1v1h-1zM268 420h1v1h-1zM286 420h1v1h-1zM288 420h2v1h-2zM291 420h1v1h-1zM293 420h1v1h-1zM46 421h2v1h-2zM51 421h1v1h-1zM54 421h1v1h-1zM56 421h1v1h-1zM63 421h1v1h-1zM68 421h1v1h-1zM224 421h1v1h-1zM226 421h1v1h-1zM228 421h1v1h-1zM230 421h1v1h-1zM232 421h1v1h-1zM234 421h1v1h-1zM236 421h1v1h-1zM240 421h1v1h-1zM242 421h1v1h-1zM245 421h1v1h-1zM250 421h1v1h-1zM254 421h1v1h-1zM259 421h1v1h-1zM281 421h11v1h-11zM47 422h1v1h-1zM49 422h1v1h-1zM59 422h1v1h-1zM63 422h1v1h-1zM223 422h1v1h-1zM228 422h1v1h-1zM230 422h1v1h-1zM232 422h2v1h-2zM235 422h1v1h-1zM237 422h3v1h-3zM242 422h2v1h-2zM245 422h2v1h-2zM248 422h1v1h-1zM250 422h3v1h-3zM258 422h1v1h-1zM281 422h6v1h-6zM288 422h1v1h-1zM290 422h1v1h-1zM64 423h1v1h-1zM66 423h2v1h-2zM233 423h1v1h-1zM235 423h2v1h-2zM240 423h2v1h-2zM244 423h1v1h-1zM246 423h1v1h-1zM248 423h1v1h-1zM251 423h1v1h-1zM255 423h2v1h-2zM264 423h1v1h-1zM267 423h1v1h-1zM280 423h2v1h-2zM283 423h5v1h-5zM289 423h4v1h-4zM43 424h1v1h-1zM45 424h1v1h-1zM47 424h1v1h-1zM58 424h1v1h-1zM71 424h1v1h-1zM225 424h1v1h-1zM229 424h4v1h-4zM234 424h1v1h-1zM236 424h1v1h-1zM238 424h9v1h-9zM251 424h1v1h-1zM254 424h2v1h-2zM261 424h1v1h-1zM266 424h1v1h-1zM280 424h1v1h-1zM282 424h8v1h-8zM292 424h1v1h-1zM52 425h1v1h-1zM58 425h1v1h-1zM223 425h1v1h-1zM226 425h1v1h-1zM229 425h1v1h-1zM231 425h1v1h-1zM233 425h1v1h-1zM235 425h4v1h-4zM240 425h3v1h-3zM244 425h3v1h-3zM251 425h5v1h-5zM257 425h2v1h-2zM280 425h12v1h-12zM293 425h1v1h-1zM298 425h1v1h-1zM44 426h1v1h-1zM48 426h1v1h-1zM53 426h1v1h-1zM56 426h3v1h-3zM61 426h1v1h-1zM65 426h1v1h-1zM224 426h2v1h-2zM228 426h4v1h-4zM233 426h3v1h-3zM237 426h1v1h-1zM239 426h3v1h-3zM246 426h2v1h-2zM249 426h2v1h-2zM252 426h1v1h-1zM256 426h2v1h-2zM261 426h2v1h-2zM272 426h1v1h-1zM274 426h1v1h-1zM279 426h1v1h-1zM282 426h12v1h-12zM44 427h1v1h-1zM51 427h1v1h-1zM54 427h1v1h-1zM58 427h1v1h-1zM60 427h1v1h-1zM65 427h1v1h-1zM68 427h1v1h-1zM70 427h1v1h-1zM74 427h1v1h-1zM222 427h1v1h-1zM224 427h1v1h-1zM228 427h4v1h-4zM234 427h1v1h-1zM237 427h1v1h-1zM240 427h1v1h-1zM242 427h6v1h-6zM249 427h7v1h-7zM257 427h1v1h-1zM267 427h1v1h-1zM283 427h6v1h-6zM290 427h2v1h-2zM293 427h2v1h-2zM66 428h1v1h-1zM70 428h1v1h-1zM72 428h1v1h-1zM222 428h2v1h-2zM225 428h1v1h-1zM228 428h1v1h-1zM230 428h2v1h-2zM233 428h1v1h-1zM235 428h7v1h-7zM243 428h6v1h-6zM251 428h3v1h-3zM255 428h1v1h-1zM258 428h1v1h-1zM261 428h1v1h-1zM279 428h5v1h-5zM285 428h8v1h-8zM44 429h1v1h-1zM64 429h1v1h-1zM70 429h2v1h-2zM223 429h2v1h-2zM226 429h4v1h-4zM232 429h1v1h-1zM234 429h7v1h-7zM243 429h2v1h-2zM246 429h2v1h-2zM249 429h1v1h-1zM251 429h1v1h-1zM253 429h1v1h-1zM257 429h1v1h-1zM271 429h1v1h-1zM275 429h1v1h-1zM282 429h4v1h-4zM287 429h6v1h-6zM294 429h1v1h-1zM64 430h1v1h-1zM68 430h1v1h-1zM223 430h2v1h-2zM227 430h1v1h-1zM229 430h1v1h-1zM231 430h3v1h-3zM235 430h1v1h-1zM238 430h1v1h-1zM241 430h4v1h-4zM246 430h1v1h-1zM248 430h1v1h-1zM250 430h3v1h-3zM255 430h2v1h-2zM266 430h1v1h-1zM282 430h12v1h-12zM298 430h1v1h-1zM46 431h1v1h-1zM50 431h1v1h-1zM52 431h1v1h-1zM56 431h1v1h-1zM225 431h5v1h-5zM231 431h4v1h-4zM236 431h3v1h-3zM240 431h3v1h-3zM244 431h1v1h-1zM246 431h8v1h-8zM255 431h3v1h-3zM260 431h1v1h-1zM263 431h1v1h-1zM278 431h1v1h-1zM284 431h6v1h-6zM291 431h2v1h-2zM295 431h1v1h-1zM46 432h1v1h-1zM49 432h1v1h-1zM61 432h2v1h-2zM64 432h1v1h-1zM67 432h1v1h-1zM69 432h1v1h-1zM71 432h3v1h-3zM75 432h1v1h-1zM111 432h1v1h-1zM223 432h1v1h-1zM225 432h2v1h-2zM228 432h1v1h-1zM230 432h1v1h-1zM232 432h1v1h-1zM234 432h3v1h-3zM238 432h10v1h-10zM249 432h1v1h-1zM251 432h4v1h-4zM259 432h1v1h-1zM270 432h1v1h-1zM274 432h1v1h-1zM283 432h8v1h-8zM292 432h1v1h-1zM46 433h2v1h-2zM49 433h1v1h-1zM51 433h2v1h-2zM54 433h2v1h-2zM63 433h1v1h-1zM66 433h2v1h-2zM69 433h1v1h-1zM71 433h1v1h-1zM223 433h3v1h-3zM227 433h3v1h-3zM231 433h11v1h-11zM243 433h5v1h-5zM251 433h3v1h-3zM256 433h2v1h-2zM259 433h1v1h-1zM263 433h1v1h-1zM265 433h1v1h-1zM279 433h1v1h-1zM282 433h1v1h-1zM285 433h2v1h-2zM288 433h3v1h-3zM292 433h1v1h-1zM42 434h1v1h-1zM46 434h3v1h-3zM51 434h2v1h-2zM54 434h2v1h-2zM58 434h1v1h-1zM61 434h2v1h-2zM65 434h3v1h-3zM73 434h1v1h-1zM75 434h2v1h-2zM222 434h1v1h-1zM226 434h1v1h-1zM229 434h1v1h-1zM231 434h1v1h-1zM233 434h5v1h-5zM239 434h2v1h-2zM242 434h5v1h-5zM252 434h3v1h-3zM257 434h1v1h-1zM261 434h1v1h-1zM285 434h4v1h-4zM290 434h2v1h-2zM302 434h1v1h-1zM44 435h1v1h-1zM47 435h1v1h-1zM50 435h1v1h-1zM52 435h2v1h-2zM56 435h2v1h-2zM62 435h1v1h-1zM65 435h1v1h-1zM71 435h1v1h-1zM74 435h1v1h-1zM223 435h1v1h-1zM226 435h1v1h-1zM229 435h1v1h-1zM232 435h1v1h-1zM235 435h2v1h-2zM238 435h1v1h-1zM240 435h2v1h-2zM243 435h1v1h-1zM246 435h3v1h-3zM250 435h4v1h-4zM255 435h1v1h-1zM257 435h1v1h-1zM282 435h1v1h-1zM285 435h3v1h-3zM289 435h2v1h-2zM293 435h1v1h-1zM44 436h1v1h-1zM46 436h3v1h-3zM50 436h1v1h-1zM53 436h1v1h-1zM55 436h1v1h-1zM57 436h2v1h-2zM60 436h1v1h-1zM62 436h1v1h-1zM69 436h2v1h-2zM223 436h1v1h-1zM225 436h1v1h-1zM228 436h2v1h-2zM234 436h1v1h-1zM238 436h1v1h-1zM240 436h5v1h-5zM252 436h4v1h-4zM259 436h1v1h-1zM262 436h1v1h-1zM284 436h1v1h-1zM287 436h1v1h-1zM289 436h2v1h-2zM44 437h1v1h-1zM46 437h7v1h-7zM55 437h1v1h-1zM58 437h1v1h-1zM60 437h6v1h-6zM68 437h4v1h-4zM73 437h3v1h-3zM223 437h1v1h-1zM225 437h1v1h-1zM229 437h1v1h-1zM233 437h1v1h-1zM237 437h1v1h-1zM240 437h1v1h-1zM242 437h1v1h-1zM245 437h3v1h-3zM249 437h2v1h-2zM252 437h3v1h-3zM260 437h2v1h-2zM265 437h1v1h-1zM277 437h1v1h-1zM285 437h1v1h-1zM288 437h1v1h-1zM290 437h1v1h-1zM42 438h1v1h-1zM45 438h2v1h-2zM54 438h4v1h-4zM59 438h1v1h-1zM61 438h1v1h-1zM63 438h3v1h-3zM67 438h2v1h-2zM71 438h1v1h-1zM94 438h1v1h-1zM109 438h1v1h-1zM114 438h1v1h-1zM226 438h1v1h-1zM230 438h1v1h-1zM232 438h1v1h-1zM234 438h4v1h-4zM239 438h2v1h-2zM242 438h2v1h-2zM247 438h4v1h-4zM253 438h1v1h-1zM260 438h1v1h-1zM266 438h1v1h-1zM283 438h1v1h-1zM286 438h1v1h-1zM289 438h1v1h-1zM45 439h1v1h-1zM48 439h4v1h-4zM58 439h3v1h-3zM63 439h2v1h-2zM67 439h1v1h-1zM70 439h1v1h-1zM73 439h2v1h-2zM81 439h1v1h-1zM91 439h1v1h-1zM222 439h3v1h-3zM227 439h1v1h-1zM229 439h2v1h-2zM234 439h3v1h-3zM240 439h1v1h-1zM242 439h1v1h-1zM244 439h4v1h-4zM249 439h1v1h-1zM251 439h3v1h-3zM256 439h1v1h-1zM261 439h1v1h-1zM285 439h1v1h-1zM42 440h2v1h-2zM45 440h1v1h-1zM48 440h1v1h-1zM50 440h4v1h-4zM56 440h1v1h-1zM61 440h3v1h-3zM66 440h1v1h-1zM69 440h2v1h-2zM72 440h4v1h-4zM77 440h1v1h-1zM81 440h1v1h-1zM86 440h1v1h-1zM114 440h1v1h-1zM230 440h1v1h-1zM233 440h3v1h-3zM237 440h5v1h-5zM243 440h13v1h-13zM258 440h1v1h-1zM260 440h1v1h-1zM266 440h1v1h-1zM283 440h1v1h-1zM285 440h1v1h-1zM287 440h7v1h-7zM295 440h1v1h-1zM42 441h1v1h-1zM44 441h2v1h-2zM50 441h5v1h-5zM56 441h2v1h-2zM61 441h4v1h-4zM66 441h2v1h-2zM70 441h2v1h-2zM75 441h1v1h-1zM81 441h1v1h-1zM101 441h1v1h-1zM106 441h1v1h-1zM227 441h1v1h-1zM230 441h1v1h-1zM232 441h2v1h-2zM236 441h3v1h-3zM241 441h1v1h-1zM243 441h2v1h-2zM246 441h5v1h-5zM252 441h1v1h-1zM255 441h1v1h-1zM261 441h1v1h-1zM272 441h1v1h-1zM284 441h1v1h-1zM289 441h1v1h-1zM292 441h2v1h-2zM45 442h1v1h-1zM47 442h2v1h-2zM52 442h2v1h-2zM56 442h1v1h-1zM58 442h3v1h-3zM62 442h1v1h-1zM64 442h2v1h-2zM67 442h2v1h-2zM71 442h1v1h-1zM73 442h1v1h-1zM75 442h1v1h-1zM77 442h1v1h-1zM86 442h1v1h-1zM92 442h1v1h-1zM105 442h1v1h-1zM108 442h1v1h-1zM111 442h1v1h-1zM119 442h1v1h-1zM225 442h1v1h-1zM229 442h1v1h-1zM232 442h2v1h-2zM235 442h1v1h-1zM238 442h1v1h-1zM240 442h2v1h-2zM246 442h2v1h-2zM249 442h5v1h-5zM255 442h2v1h-2zM258 442h1v1h-1zM261 442h3v1h-3zM283 442h1v1h-1zM287 442h1v1h-1zM290 442h1v1h-1zM42 443h2v1h-2zM45 443h1v1h-1zM47 443h2v1h-2zM50 443h2v1h-2zM57 443h1v1h-1zM60 443h1v1h-1zM62 443h3v1h-3zM66 443h1v1h-1zM68 443h3v1h-3zM73 443h5v1h-5zM87 443h1v1h-1zM95 443h2v1h-2zM99 443h1v1h-1zM104 443h1v1h-1zM106 443h1v1h-1zM108 443h1v1h-1zM111 443h2v1h-2zM114 443h1v1h-1zM224 443h2v1h-2zM230 443h1v1h-1zM232 443h1v1h-1zM234 443h3v1h-3zM240 443h1v1h-1zM243 443h3v1h-3zM247 443h1v1h-1zM249 443h12v1h-12zM263 443h1v1h-1zM268 443h1v1h-1zM277 443h1v1h-1zM282 443h1v1h-1zM284 443h5v1h-5zM42 444h2v1h-2zM47 444h1v1h-1zM49 444h1v1h-1zM53 444h1v1h-1zM57 444h1v1h-1zM59 444h2v1h-2zM62 444h3v1h-3zM66 444h2v1h-2zM69 444h2v1h-2zM73 444h1v1h-1zM76 444h1v1h-1zM83 444h1v1h-1zM85 444h1v1h-1zM87 444h2v1h-2zM105 444h6v1h-6zM118 444h1v1h-1zM223 444h2v1h-2zM226 444h3v1h-3zM231 444h2v1h-2zM234 444h3v1h-3zM238 444h1v1h-1zM240 444h3v1h-3zM244 444h1v1h-1zM246 444h2v1h-2zM249 444h1v1h-1zM251 444h3v1h-3zM255 444h1v1h-1zM257 444h1v1h-1zM261 444h1v1h-1zM263 444h1v1h-1zM268 444h1v1h-1zM282 444h4v1h-4zM287 444h1v1h-1zM289 444h1v1h-1zM291 444h1v1h-1zM42 445h4v1h-4zM47 445h8v1h-8zM56 445h12v1h-12zM69 445h1v1h-1zM71 445h1v1h-1zM73 445h2v1h-2zM77 445h1v1h-1zM85 445h1v1h-1zM97 445h1v1h-1zM99 445h1v1h-1zM102 445h1v1h-1zM104 445h2v1h-2zM107 445h7v1h-7zM222 445h4v1h-4zM229 445h2v1h-2zM235 445h3v1h-3zM239 445h1v1h-1zM241 445h1v1h-1zM243 445h7v1h-7zM251 445h6v1h-6zM259 445h3v1h-3zM281 445h2v1h-2zM284 445h2v1h-2zM287 445h4v1h-4zM43 446h2v1h-2zM46 446h6v1h-6zM56 446h7v1h-7zM64 446h1v1h-1zM66 446h5v1h-5zM74 446h3v1h-3zM81 446h1v1h-1zM94 446h1v1h-1zM97 446h1v1h-1zM99 446h1v1h-1zM101 446h12v1h-12zM223 446h2v1h-2zM227 446h1v1h-1zM230 446h1v1h-1zM232 446h2v1h-2zM235 446h3v1h-3zM239 446h2v1h-2zM244 446h14v1h-14zM261 446h1v1h-1zM265 446h1v1h-1zM280 446h2v1h-2zM283 446h2v1h-2zM286 446h2v1h-2zM290 446h1v1h-1zM292 446h1v1h-1zM296 446h1v1h-1zM298 446h1v1h-1zM42 447h1v1h-1zM47 447h9v1h-9zM57 447h1v1h-1zM59 447h1v1h-1zM61 447h6v1h-6zM71 447h3v1h-3zM75 447h2v1h-2zM98 447h1v1h-1zM101 447h1v1h-1zM103 447h12v1h-12zM225 447h1v1h-1zM229 447h2v1h-2zM235 447h5v1h-5zM242 447h2v1h-2zM245 447h11v1h-11zM257 447h2v1h-2zM261 447h1v1h-1zM270 447h1v1h-1zM279 447h1v1h-1zM283 447h4v1h-4zM288 447h3v1h-3zM296 447h1v1h-1zM42 448h4v1h-4zM47 448h2v1h-2zM50 448h15v1h-15zM66 448h5v1h-5zM72 448h2v1h-2zM81 448h1v1h-1zM87 448h1v1h-1zM100 448h1v1h-1zM102 448h13v1h-13zM116 448h3v1h-3zM222 448h1v1h-1zM225 448h8v1h-8zM234 448h1v1h-1zM237 448h22v1h-22zM260 448h1v1h-1zM263 448h1v1h-1zM266 448h1v1h-1zM280 448h1v1h-1zM282 448h2v1h-2zM285 448h2v1h-2zM288 448h3v1h-3zM43 449h11v1h-11zM56 449h1v1h-1zM58 449h10v1h-10zM69 449h1v1h-1zM71 449h1v1h-1zM76 449h4v1h-4zM81 449h1v1h-1zM88 449h1v1h-1zM90 449h1v1h-1zM101 449h14v1h-14zM224 449h1v1h-1zM228 449h1v1h-1zM230 449h5v1h-5zM236 449h21v1h-21zM258 449h2v1h-2zM261 449h2v1h-2zM276 449h1v1h-1zM280 449h1v1h-1zM282 449h1v1h-1zM284 449h1v1h-1zM288 449h2v1h-2zM296 449h1v1h-1zM43 450h5v1h-5zM49 450h10v1h-10zM60 450h13v1h-13zM80 450h2v1h-2zM85 450h2v1h-2zM89 450h2v1h-2zM99 450h17v1h-17zM225 450h5v1h-5zM232 450h8v1h-8zM241 450h10v1h-10zM252 450h7v1h-7zM260 450h1v1h-1zM263 450h1v1h-1zM266 450h1v1h-1zM275 450h1v1h-1zM281 450h2v1h-2zM286 450h5v1h-5zM297 450h1v1h-1zM42 451h2v1h-2zM45 451h1v1h-1zM47 451h1v1h-1zM49 451h8v1h-8zM59 451h1v1h-1zM61 451h13v1h-13zM81 451h1v1h-1zM86 451h1v1h-1zM88 451h1v1h-1zM92 451h1v1h-1zM97 451h1v1h-1zM99 451h1v1h-1zM101 451h14v1h-14zM117 451h1v1h-1zM223 451h1v1h-1zM225 451h1v1h-1zM231 451h2v1h-2zM234 451h3v1h-3zM238 451h21v1h-21zM260 451h1v1h-1zM263 451h1v1h-1zM266 451h1v1h-1zM279 451h1v1h-1zM282 451h1v1h-1zM285 451h1v1h-1zM287 451h2v1h-2zM290 451h2v1h-2zM42 452h9v1h-9zM52 452h2v1h-2zM55 452h7v1h-7zM63 452h10v1h-10zM74 452h1v1h-1zM89 452h1v1h-1zM95 452h1v1h-1zM97 452h2v1h-2zM101 452h16v1h-16zM224 452h1v1h-1zM226 452h1v1h-1zM229 452h27v1h-27zM257 452h1v1h-1zM259 452h3v1h-3zM263 452h1v1h-1zM269 452h1v1h-1zM281 452h1v1h-1zM283 452h3v1h-3zM288 452h4v1h-4zM42 453h1v1h-1zM44 453h3v1h-3zM48 453h22v1h-22zM76 453h1v1h-1zM84 453h1v1h-1zM86 453h1v1h-1zM92 453h1v1h-1zM94 453h1v1h-1zM97 453h1v1h-1zM101 453h14v1h-14zM224 453h2v1h-2zM227 453h2v1h-2zM230 453h3v1h-3zM234 453h25v1h-25zM265 453h1v1h-1zM282 453h3v1h-3zM286 453h2v1h-2zM289 453h1v1h-1zM42 454h2v1h-2zM46 454h2v1h-2zM49 454h4v1h-4zM55 454h1v1h-1zM57 454h4v1h-4zM62 454h5v1h-5zM68 454h4v1h-4zM73 454h1v1h-1zM78 454h1v1h-1zM80 454h1v1h-1zM86 454h1v1h-1zM93 454h2v1h-2zM99 454h1v1h-1zM102 454h11v1h-11zM115 454h1v1h-1zM226 454h2v1h-2zM229 454h29v1h-29zM259 454h2v1h-2zM268 454h1v1h-1zM275 454h1v1h-1zM280 454h2v1h-2zM283 454h1v1h-1zM285 454h2v1h-2zM290 454h1v1h-1zM293 454h1v1h-1zM42 455h2v1h-2zM45 455h4v1h-4zM50 455h24v1h-24zM79 455h1v1h-1zM84 455h1v1h-1zM95 455h1v1h-1zM101 455h1v1h-1zM103 455h10v1h-10zM222 455h2v1h-2zM225 455h2v1h-2zM228 455h5v1h-5zM234 455h26v1h-26zM263 455h1v1h-1zM283 455h1v1h-1zM286 455h3v1h-3zM291 455h3v1h-3zM296 455h1v1h-1zM42 456h3v1h-3zM46 456h6v1h-6zM53 456h13v1h-13zM67 456h3v1h-3zM72 456h1v1h-1zM77 456h1v1h-1zM83 456h1v1h-1zM92 456h1v1h-1zM94 456h2v1h-2zM98 456h1v1h-1zM101 456h1v1h-1zM105 456h6v1h-6zM112 456h1v1h-1zM223 456h3v1h-3zM227 456h4v1h-4zM232 456h26v1h-26zM260 456h3v1h-3zM265 456h1v1h-1zM269 456h1v1h-1zM277 456h1v1h-1zM281 456h2v1h-2zM284 456h3v1h-3zM290 456h2v1h-2zM42 457h1v1h-1zM45 457h15v1h-15zM61 457h9v1h-9zM74 457h1v1h-1zM76 457h1v1h-1zM80 457h1v1h-1zM87 457h1v1h-1zM105 457h5v1h-5zM124 457h1v1h-1zM225 457h1v1h-1zM227 457h5v1h-5zM233 457h27v1h-27zM263 457h1v1h-1zM265 457h1v1h-1zM268 457h1v1h-1zM282 457h2v1h-2zM285 457h4v1h-4zM292 457h1v1h-1zM43 458h7v1h-7zM51 458h16v1h-16zM68 458h4v1h-4zM79 458h1v1h-1zM82 458h1v1h-1zM86 458h1v1h-1zM92 458h1v1h-1zM105 458h5v1h-5zM112 458h2v1h-2zM222 458h1v1h-1zM224 458h5v1h-5zM230 458h30v1h-30zM261 458h1v1h-1zM263 458h1v1h-1zM265 458h3v1h-3zM282 458h1v1h-1zM288 458h2v1h-2zM291 458h2v1h-2zM42 459h14v1h-14zM57 459h3v1h-3zM61 459h10v1h-10zM73 459h1v1h-1zM78 459h1v1h-1zM83 459h1v1h-1zM87 459h1v1h-1zM100 459h1v1h-1zM106 459h1v1h-1zM115 459h1v1h-1zM228 459h35v1h-35zM264 459h1v1h-1zM284 459h2v1h-2zM288 459h1v1h-1zM290 459h3v1h-3zM42 460h30v1h-30zM73 460h2v1h-2zM77 460h1v1h-1zM94 460h1v1h-1zM96 460h1v1h-1zM102 460h3v1h-3zM108 460h1v1h-1zM114 460h1v1h-1zM225 460h32v1h-32zM258 460h3v1h-3zM262 460h3v1h-3zM269 460h1v1h-1zM272 460h1v1h-1zM281 460h1v1h-1zM284 460h5v1h-5zM290 460h1v1h-1zM292 460h1v1h-1zM42 461h2v1h-2zM45 461h19v1h-19zM65 461h2v1h-2zM68 461h3v1h-3zM79 461h1v1h-1zM99 461h1v1h-1zM101 461h1v1h-1zM105 461h1v1h-1zM107 461h2v1h-2zM111 461h1v1h-1zM223 461h6v1h-6zM230 461h1v1h-1zM232 461h30v1h-30zM263 461h1v1h-1zM265 461h3v1h-3zM280 461h1v1h-1zM282 461h1v1h-1zM285 461h5v1h-5zM293 461h1v1h-1zM42 462h3v1h-3zM46 462h1v1h-1zM48 462h1v1h-1zM50 462h7v1h-7zM58 462h7v1h-7zM66 462h3v1h-3zM70 462h3v1h-3zM75 462h2v1h-2zM80 462h1v1h-1zM82 462h1v1h-1zM84 462h1v1h-1zM87 462h1v1h-1zM91 462h1v1h-1zM95 462h1v1h-1zM99 462h1v1h-1zM223 462h1v1h-1zM225 462h3v1h-3zM229 462h3v1h-3zM233 462h2v1h-2zM236 462h24v1h-24zM261 462h6v1h-6zM284 462h1v1h-1zM286 462h2v1h-2zM292 462h1v1h-1zM298 462h1v1h-1zM42 463h1v1h-1zM45 463h2v1h-2zM48 463h6v1h-6zM55 463h5v1h-5zM61 463h3v1h-3zM65 463h1v1h-1zM67 463h3v1h-3zM72 463h1v1h-1zM86 463h3v1h-3zM93 463h2v1h-2zM106 463h1v1h-1zM222 463h2v1h-2zM226 463h2v1h-2zM229 463h2v1h-2zM232 463h26v1h-26zM260 463h2v1h-2zM269 463h1v1h-1zM274 463h1v1h-1zM285 463h1v1h-1zM292 463h1v1h-1zM223 464h6v1h-6zM230 464h6v1h-6zM238 464h18v1h-18zM257 464h6v1h-6zM283 464h1v1h-1zM290 464h1v1h-1zM225 465h5v1h-5zM232 465h1v1h-1zM234 465h1v1h-1zM236 465h5v1h-5zM242 465h14v1h-14zM257 465h3v1h-3zM261 465h1v1h-1zM264 465h1v1h-1zM266 465h1v1h-1zM285 465h1v1h-1zM292 465h1v1h-1z" fill="#000"/>
<rect x="116" y="399" width="1.4" height="1.4" fill="#666"/>
<rect x="92" y="419" width="1.4" height="1.4" fill="#666"/>
<rect x="114" y="423" width="1.4" height="1.4" fill="#666"/>
<rect x="88" y="434" width="1.4" height="1.4" fill="#666"/>
<rect x="99" y="441" width="1.4" height="1.4" fill="#666"/>
<rect x="302" y="430" width="1.4" height="1.4" fill="#666"/>
<rect x="296" y="436" width="1.4" height="1.4" fill="#666"/>
<rect x="247" y="215" width="1.4" height="1.4" fill="#666"/>
<rect x="86" y="222" width="1.4" height="1.4" fill="#666"/>
<rect x="226" y="248" width="1.4" height="1.4" fill="#666"/>
<rect x="35" y="205.6" width="123.6" height="88.29999999999998" fill="none" stroke="#111" stroke-width="1.1"/>
<line x1="90.5" y1="205.6" x2="90.5" y2="293.9" stroke="#111" stroke-width="1.2" />
<line x1="35" y1="265.4" x2="158.6" y2="265.4" stroke="#111" stroke-width="1.2" />
<text transform="translate(35.80 308.90)" x="-7.50" y="0" font-family='"Liberation Sans", sans-serif' font-size="8.7" fill="#222" stroke="#222" stroke-width="0.28">10<tspan dx="0.6" dy="-5.50" font-size="8.50">0</tspan></text>
<text transform="translate(66.70 308.90)" x="-7.50" y="0" font-family='"Liberation Sans", sans-serif' font-size="8.7" fill="#222" stroke="#222" stroke-width="0.28">10<tspan dx="0.6" dy="-5.50" font-size="8.50">1</tspan></text>
<text transform="translate(97.60 308.90)" x="-7.50" y="0" font-family='"Liberation Sans", sans-serif' font-size="8.7" fill="#222" stroke="#222" stroke-width="0.28">10<tspan dx="0.6" dy="-5.50" font-size="8.50">2</tspan></text>
<text transform="translate(128.50 308.90)" x="-7.50" y="0" font-family='"Liberation Sans", sans-serif' font-size="8.7" fill="#222" stroke="#222" stroke-width="0.28">10<tspan dx="0.6" dy="-5.50" font-size="8.50">3</tspan></text>
<text transform="translate(159.40 308.90)" x="-7.50" y="0" font-family='"Liberation Sans", sans-serif' font-size="8.7" fill="#222" stroke="#222" stroke-width="0.28">10<tspan dx="0.6" dy="-5.50" font-size="8.50">4</tspan></text>
<path d="M35.0 293.9v3.5200000000000005M44.3 293.9v2.2M49.7 293.9v2.2M53.6 293.9v2.2M56.6 293.9v2.2M59.0 293.9v2.2M61.1 293.9v2.2M62.9 293.9v2.2M64.5 293.9v2.2M65.9 293.9v3.5200000000000005M75.2 293.9v2.2M80.6 293.9v2.2M84.5 293.9v2.2M87.5 293.9v2.2M89.9 293.9v2.2M92.0 293.9v2.2M93.8 293.9v2.2M95.4 293.9v2.2M96.8 293.9v3.5200000000000005M106.1 293.9v2.2M111.5 293.9v2.2M115.4 293.9v2.2M118.4 293.9v2.2M120.8 293.9v2.2M122.9 293.9v2.2M124.7 293.9v2.2M126.3 293.9v2.2M127.7 293.9v3.5200000000000005M137.0 293.9v2.2M142.4 293.9v2.2M146.3 293.9v2.2M149.3 293.9v2.2M151.7 293.9v2.2M153.8 293.9v2.2M155.6 293.9v2.2M157.2 293.9v2.2M158.6 293.9v3.5200000000000005" stroke="#111" stroke-width="1.0" fill="none"/>
<text transform="translate(27.60 293.90) rotate(-90) scale(0.800 1)" x="-7.27" y="0" font-family='"Liberation Sans", sans-serif' font-size="8.7" fill="#222" stroke="#222" stroke-width="0.28">10<tspan dx="0.3" dy="-5.50" font-size="8.20">0</tspan></text>
<text transform="translate(27.60 271.82) rotate(-90) scale(0.800 1)" x="-7.27" y="0" font-family='"Liberation Sans", sans-serif' font-size="8.7" fill="#222" stroke="#222" stroke-width="0.28">10<tspan dx="0.3" dy="-5.50" font-size="8.20">1</tspan></text>
<text transform="translate(27.60 249.75) rotate(-90) scale(0.800 1)" x="-7.27" y="0" font-family='"Liberation Sans", sans-serif' font-size="8.7" fill="#222" stroke="#222" stroke-width="0.28">10<tspan dx="0.3" dy="-5.50" font-size="8.20">2</tspan></text>
<text transform="translate(27.60 227.67) rotate(-90) scale(0.800 1)" x="-7.27" y="0" font-family='"Liberation Sans", sans-serif' font-size="8.7" fill="#222" stroke="#222" stroke-width="0.28">10<tspan dx="0.3" dy="-5.50" font-size="8.20">3</tspan></text>
<text transform="translate(27.60 205.60) rotate(-90) scale(0.800 1)" x="-7.27" y="0" font-family='"Liberation Sans", sans-serif' font-size="8.7" fill="#222" stroke="#222" stroke-width="0.28">10<tspan dx="0.3" dy="-5.50" font-size="8.20">4</tspan></text>
<path d="M35 293.9h-3.5200000000000005M35 287.3h-2.2M35 283.4h-2.2M35 280.6h-2.2M35 278.5h-2.2M35 276.7h-2.2M35 275.2h-2.2M35 274.0h-2.2M35 272.8h-2.2M35 271.8h-3.5200000000000005M35 265.2h-2.2M35 261.3h-2.2M35 258.5h-2.2M35 256.4h-2.2M35 254.6h-2.2M35 253.2h-2.2M35 251.9h-2.2M35 250.8h-2.2M35 249.8h-3.5200000000000005M35 243.1h-2.2M35 239.2h-2.2M35 236.5h-2.2M35 234.3h-2.2M35 232.6h-2.2M35 231.1h-2.2M35 229.8h-2.2M35 228.7h-2.2M35 227.7h-3.5200000000000005M35 221.0h-2.2M35 217.1h-2.2M35 214.4h-2.2M35 212.2h-2.2M35 210.5h-2.2M35 209.0h-2.2M35 207.7h-2.2M35 206.6h-2.2M35 205.6h-3.5200000000000005" stroke="#111" stroke-width="1.0" fill="none"/>
<rect x="211" y="206" width="121" height="90" fill="none" stroke="#111" stroke-width="1.1"/>
<line x1="262.7" y1="206" x2="262.7" y2="296" stroke="#111" stroke-width="1.2" />
<line x1="211" y1="262.9" x2="332" y2="262.9" stroke="#111" stroke-width="1.2" />
<text transform="translate(211.80 311.00)" x="-7.50" y="0" font-family='"Liberation Sans", sans-serif' font-size="8.7" fill="#222" stroke="#222" stroke-width="0.28">10<tspan dx="0.6" dy="-5.50" font-size="8.50">0</tspan></text>
<text transform="translate(242.05 311.00)" x="-7.50" y="0" font-family='"Liberation Sans", sans-serif' font-size="8.7" fill="#222" stroke="#222" stroke-width="0.28">10<tspan dx="0.6" dy="-5.50" font-size="8.50">1</tspan></text>
<text transform="translate(272.30 311.00)" x="-7.50" y="0" font-family='"Liberation Sans", sans-serif' font-size="8.7" fill="#222" stroke="#222" stroke-width="0.28">10<tspan dx="0.6" dy="-5.50" font-size="8.50">2</tspan></text>
<text transform="translate(302.55 311.00)" x="-7.50" y="0" font-family='"Liberation Sans", sans-serif' font-size="8.7" fill="#222" stroke="#222" stroke-width="0.28">10<tspan dx="0.6" dy="-5.50" font-size="8.50">3</tspan></text>
<text transform="translate(332.80 311.00)" x="-7.50" y="0" font-family='"Liberation Sans", sans-serif' font-size="8.7" fill="#222" stroke="#222" stroke-width="0.28">10<tspan dx="0.6" dy="-5.50" font-size="8.50">4</tspan></text>
<path d="M211.0 296v3.5200000000000005M220.1 296v2.2M225.4 296v2.2M229.2 296v2.2M232.1 296v2.2M234.5 296v2.2M236.6 296v2.2M238.3 296v2.2M239.9 296v2.2M241.2 296v3.5200000000000005M250.4 296v2.2M255.7 296v2.2M259.5 296v2.2M262.4 296v2.2M264.8 296v2.2M266.8 296v2.2M268.6 296v2.2M270.1 296v2.2M271.5 296v3.5200000000000005M280.6 296v2.2M285.9 296v2.2M289.7 296v2.2M292.6 296v2.2M295.0 296v2.2M297.1 296v2.2M298.8 296v2.2M300.4 296v2.2M301.8 296v3.5200000000000005M310.9 296v2.2M316.2 296v2.2M320.0 296v2.2M322.9 296v2.2M325.3 296v2.2M327.3 296v2.2M329.1 296v2.2M330.6 296v2.2M332.0 296v3.5200000000000005" stroke="#111" stroke-width="1.0" fill="none"/>
<text transform="translate(203.60 296.00) rotate(-90) scale(0.800 1)" x="-7.27" y="0" font-family='"Liberation Sans", sans-serif' font-size="8.7" fill="#222" stroke="#222" stroke-width="0.28">10<tspan dx="0.3" dy="-5.50" font-size="8.20">0</tspan></text>
<text transform="translate(203.60 273.50) rotate(-90) scale(0.800 1)" x="-7.27" y="0" font-family='"Liberation Sans", sans-serif' font-size="8.7" fill="#222" stroke="#222" stroke-width="0.28">10<tspan dx="0.3" dy="-5.50" font-size="8.20">1</tspan></text>
<text transform="translate(203.60 251.00) rotate(-90) scale(0.800 1)" x="-7.27" y="0" font-family='"Liberation Sans", sans-serif' font-size="8.7" fill="#222" stroke="#222" stroke-width="0.28">10<tspan dx="0.3" dy="-5.50" font-size="8.20">2</tspan></text>
<text transform="translate(203.60 228.50) rotate(-90) scale(0.800 1)" x="-7.27" y="0" font-family='"Liberation Sans", sans-serif' font-size="8.7" fill="#222" stroke="#222" stroke-width="0.28">10<tspan dx="0.3" dy="-5.50" font-size="8.20">3</tspan></text>
<text transform="translate(203.60 206.00) rotate(-90) scale(0.800 1)" x="-7.27" y="0" font-family='"Liberation Sans", sans-serif' font-size="8.7" fill="#222" stroke="#222" stroke-width="0.28">10<tspan dx="0.3" dy="-5.50" font-size="8.20">4</tspan></text>
<path d="M211 296.0h-3.5200000000000005M211 289.2h-2.2M211 285.3h-2.2M211 282.5h-2.2M211 280.3h-2.2M211 278.5h-2.2M211 277.0h-2.2M211 275.7h-2.2M211 274.5h-2.2M211 273.5h-3.5200000000000005M211 266.7h-2.2M211 262.8h-2.2M211 260.0h-2.2M211 257.8h-2.2M211 256.0h-2.2M211 254.5h-2.2M211 253.2h-2.2M211 252.0h-2.2M211 251.0h-3.5200000000000005M211 244.2h-2.2M211 240.3h-2.2M211 237.5h-2.2M211 235.3h-2.2M211 233.5h-2.2M211 232.0h-2.2M211 230.7h-2.2M211 229.5h-2.2M211 228.5h-3.5200000000000005M211 221.7h-2.2M211 217.8h-2.2M211 215.0h-2.2M211 212.8h-2.2M211 211.0h-2.2M211 209.5h-2.2M211 208.2h-2.2M211 207.0h-2.2M211 206.0h-3.5200000000000005" stroke="#111" stroke-width="1.0" fill="none"/>
<rect x="388.5" y="203.8" width="123.0" height="90.0" fill="none" stroke="#111" stroke-width="1.1"/>
<line x1="441.2" y1="203.8" x2="441.2" y2="293.8" stroke="#111" stroke-width="1.2" />
<line x1="388.5" y1="265" x2="511.5" y2="265" stroke="#111" stroke-width="1.2" />
<text transform="translate(389.30 308.80)" x="-7.50" y="0" font-family='"Liberation Sans", sans-serif' font-size="8.7" fill="#222" stroke="#222" stroke-width="0.28">10<tspan dx="0.6" dy="-5.50" font-size="8.50">0</tspan></text>
<text transform="translate(420.05 308.80)" x="-7.50" y="0" font-family='"Liberation Sans", sans-serif' font-size="8.7" fill="#222" stroke="#222" stroke-width="0.28">10<tspan dx="0.6" dy="-5.50" font-size="8.50">1</tspan></text>
<text transform="translate(450.80 308.80)" x="-7.50" y="0" font-family='"Liberation Sans", sans-serif' font-size="8.7" fill="#222" stroke="#222" stroke-width="0.28">10<tspan dx="0.6" dy="-5.50" font-size="8.50">2</tspan></text>
<text transform="translate(481.55 308.80)" x="-7.50" y="0" font-family='"Liberation Sans", sans-serif' font-size="8.7" fill="#222" stroke="#222" stroke-width="0.28">10<tspan dx="0.6" dy="-5.50" font-size="8.50">3</tspan></text>
<text transform="translate(512.30 308.80)" x="-7.50" y="0" font-family='"Liberation Sans", sans-serif' font-size="8.7" fill="#222" stroke="#222" stroke-width="0.28">10<tspan dx="0.6" dy="-5.50" font-size="8.50">4</tspan></text>
<path d="M388.5 293.8v3.5200000000000005M397.8 293.8v2.2M403.2 293.8v2.2M407.0 293.8v2.2M410.0 293.8v2.2M412.4 293.8v2.2M414.5 293.8v2.2M416.3 293.8v2.2M417.8 293.8v2.2M419.2 293.8v3.5200000000000005M428.5 293.8v2.2M433.9 293.8v2.2M437.8 293.8v2.2M440.7 293.8v2.2M443.2 293.8v2.2M445.2 293.8v2.2M447.0 293.8v2.2M448.6 293.8v2.2M450.0 293.8v3.5200000000000005M459.3 293.8v2.2M464.7 293.8v2.2M468.5 293.8v2.2M471.5 293.8v2.2M473.9 293.8v2.2M476.0 293.8v2.2M477.8 293.8v2.2M479.3 293.8v2.2M480.8 293.8v3.5200000000000005M490.0 293.8v2.2M495.4 293.8v2.2M499.3 293.8v2.2M502.2 293.8v2.2M504.7 293.8v2.2M506.7 293.8v2.2M508.5 293.8v2.2M510.1 293.8v2.2M511.5 293.8v3.5200000000000005" stroke="#111" stroke-width="1.0" fill="none"/>
<text transform="translate(381.10 293.80) rotate(-90) scale(0.800 1)" x="-7.27" y="0" font-family='"Liberation Sans", sans-serif' font-size="8.7" fill="#222" stroke="#222" stroke-width="0.28">10<tspan dx="0.3" dy="-5.50" font-size="8.20">0</tspan></text>
<text transform="translate(381.10 271.30) rotate(-90) scale(0.800 1)" x="-7.27" y="0" font-family='"Liberation Sans", sans-serif' font-size="8.7" fill="#222" stroke="#222" stroke-width="0.28">10<tspan dx="0.3" dy="-5.50" font-size="8.20">1</tspan></text>
<text transform="translate(381.10 248.80) rotate(-90) scale(0.800 1)" x="-7.27" y="0" font-family='"Liberation Sans", sans-serif' font-size="8.7" fill="#222" stroke="#222" stroke-width="0.28">10<tspan dx="0.3" dy="-5.50" font-size="8.20">2</tspan></text>
<text transform="translate(381.10 226.30) rotate(-90) scale(0.800 1)" x="-7.27" y="0" font-family='"Liberation Sans", sans-serif' font-size="8.7" fill="#222" stroke="#222" stroke-width="0.28">10<tspan dx="0.3" dy="-5.50" font-size="8.20">3</tspan></text>
<text transform="translate(381.10 203.80) rotate(-90) scale(0.800 1)" x="-7.27" y="0" font-family='"Liberation Sans", sans-serif' font-size="8.7" fill="#222" stroke="#222" stroke-width="0.28">10<tspan dx="0.3" dy="-5.50" font-size="8.20">4</tspan></text>
<path d="M388.5 293.8h-3.5200000000000005M388.5 287.0h-2.2M388.5 283.1h-2.2M388.5 280.3h-2.2M388.5 278.1h-2.2M388.5 276.3h-2.2M388.5 274.8h-2.2M388.5 273.5h-2.2M388.5 272.3h-2.2M388.5 271.3h-3.5200000000000005M388.5 264.5h-2.2M388.5 260.6h-2.2M388.5 257.8h-2.2M388.5 255.6h-2.2M388.5 253.8h-2.2M388.5 252.3h-2.2M388.5 251.0h-2.2M388.5 249.8h-2.2M388.5 248.8h-3.5200000000000005M388.5 242.0h-2.2M388.5 238.1h-2.2M388.5 235.3h-2.2M388.5 233.1h-2.2M388.5 231.3h-2.2M388.5 229.8h-2.2M388.5 228.5h-2.2M388.5 227.3h-2.2M388.5 226.3h-3.5200000000000005M388.5 219.5h-2.2M388.5 215.6h-2.2M388.5 212.8h-2.2M388.5 210.6h-2.2M388.5 208.8h-2.2M388.5 207.3h-2.2M388.5 206.0h-2.2M388.5 204.8h-2.2M388.5 203.8h-3.5200000000000005" stroke="#111" stroke-width="1.0" fill="none"/>
<rect x="40.8" y="376.8" width="117.7" height="87.89999999999998" fill="none" stroke="#111" stroke-width="1.1"/>
<line x1="86.2" y1="376.8" x2="86.2" y2="464.7" stroke="#111" stroke-width="1.2" />
<line x1="40.8" y1="440.3" x2="158.5" y2="440.3" stroke="#111" stroke-width="1.2" />
<text transform="translate(41.60 476.40) scale(1.200 1)" x="-5.44" y="0" font-family='"Liberation Sans", sans-serif' font-size="6.4" fill="#222" stroke="#222" stroke-width="0.28">10<tspan dx="0.6" dy="-4.00" font-size="5.70">0</tspan></text>
<text transform="translate(71.02 476.40) scale(1.200 1)" x="-5.44" y="0" font-family='"Liberation Sans", sans-serif' font-size="6.4" fill="#222" stroke="#222" stroke-width="0.28">10<tspan dx="0.6" dy="-4.00" font-size="5.70">1</tspan></text>
<text transform="translate(100.45 476.40) scale(1.200 1)" x="-5.44" y="0" font-family='"Liberation Sans", sans-serif' font-size="6.4" fill="#222" stroke="#222" stroke-width="0.28">10<tspan dx="0.6" dy="-4.00" font-size="5.70">2</tspan></text>
<text transform="translate(129.88 476.40) scale(1.200 1)" x="-5.44" y="0" font-family='"Liberation Sans", sans-serif' font-size="6.4" fill="#222" stroke="#222" stroke-width="0.28">10<tspan dx="0.6" dy="-4.00" font-size="5.70">3</tspan></text>
<text transform="translate(159.30 476.40) scale(1.200 1)" x="-5.44" y="0" font-family='"Liberation Sans", sans-serif' font-size="6.4" fill="#222" stroke="#222" stroke-width="0.28">10<tspan dx="0.6" dy="-4.00" font-size="5.70">4</tspan></text>
<path d="M40.8 464.7v3.5200000000000005M49.7 464.7v2.2M54.8 464.7v2.2M58.5 464.7v2.2M61.4 464.7v2.2M63.7 464.7v2.2M65.7 464.7v2.2M67.4 464.7v2.2M68.9 464.7v2.2M70.2 464.7v3.5200000000000005M79.1 464.7v2.2M84.3 464.7v2.2M87.9 464.7v2.2M90.8 464.7v2.2M93.1 464.7v2.2M95.1 464.7v2.2M96.8 464.7v2.2M98.3 464.7v2.2M99.7 464.7v3.5200000000000005M108.5 464.7v2.2M113.7 464.7v2.2M117.4 464.7v2.2M120.2 464.7v2.2M122.5 464.7v2.2M124.5 464.7v2.2M126.2 464.7v2.2M127.7 464.7v2.2M129.1 464.7v3.5200000000000005M137.9 464.7v2.2M143.1 464.7v2.2M146.8 464.7v2.2M149.6 464.7v2.2M152.0 464.7v2.2M153.9 464.7v2.2M155.6 464.7v2.2M157.2 464.7v2.2M158.5 464.7v3.5200000000000005" stroke="#111" stroke-width="1.0" fill="none"/>
<text transform="translate(33.60 464.70) rotate(-90) scale(0.730 1)" x="-7.21" y="0" font-family='"Liberation Sans", sans-serif' font-size="8.7" fill="#222" stroke="#222" stroke-width="0.28">10<tspan dx="0.3" dy="-5.50" font-size="8.00">0</tspan></text>
<text transform="translate(33.60 442.73) rotate(-90) scale(0.730 1)" x="-7.21" y="0" font-family='"Liberation Sans", sans-serif' font-size="8.7" fill="#222" stroke="#222" stroke-width="0.28">10<tspan dx="0.3" dy="-5.50" font-size="8.00">1</tspan></text>
<text transform="translate(33.60 420.75) rotate(-90) scale(0.730 1)" x="-7.21" y="0" font-family='"Liberation Sans", sans-serif' font-size="8.7" fill="#222" stroke="#222" stroke-width="0.28">10<tspan dx="0.3" dy="-5.50" font-size="8.00">2</tspan></text>
<text transform="translate(33.60 398.77) rotate(-90) scale(0.730 1)" x="-7.21" y="0" font-family='"Liberation Sans", sans-serif' font-size="8.7" fill="#222" stroke="#222" stroke-width="0.28">10<tspan dx="0.3" dy="-5.50" font-size="8.00">3</tspan></text>
<text transform="translate(33.60 376.80) rotate(-90) scale(0.730 1)" x="-7.21" y="0" font-family='"Liberation Sans", sans-serif' font-size="8.7" fill="#222" stroke="#222" stroke-width="0.28">10<tspan dx="0.3" dy="-5.50" font-size="8.00">4</tspan></text>
<path d="M40.8 464.7h-3.5200000000000005M40.8 458.1h-2.2M40.8 454.2h-2.2M40.8 451.5h-2.2M40.8 449.3h-2.2M40.8 447.6h-2.2M40.8 446.1h-2.2M40.8 444.9h-2.2M40.8 443.7h-2.2M40.8 442.7h-3.5200000000000005M40.8 436.1h-2.2M40.8 432.2h-2.2M40.8 429.5h-2.2M40.8 427.4h-2.2M40.8 425.6h-2.2M40.8 424.2h-2.2M40.8 422.9h-2.2M40.8 421.8h-2.2M40.8 420.8h-3.5200000000000005M40.8 414.1h-2.2M40.8 410.3h-2.2M40.8 407.5h-2.2M40.8 405.4h-2.2M40.8 403.7h-2.2M40.8 402.2h-2.2M40.8 400.9h-2.2M40.8 399.8h-2.2M40.8 398.8h-3.5200000000000005M40.8 392.2h-2.2M40.8 388.3h-2.2M40.8 385.5h-2.2M40.8 383.4h-2.2M40.8 381.7h-2.2M40.8 380.2h-2.2M40.8 378.9h-2.2M40.8 377.8h-2.2M40.8 376.8h-3.5200000000000005" stroke="#111" stroke-width="1.0" fill="none"/>
<rect x="220.7" y="378.6" width="115.90000000000003" height="88.69999999999999" fill="none" stroke="#111" stroke-width="1.1"/>
<line x1="265.7" y1="378.6" x2="265.7" y2="467.3" stroke="#111" stroke-width="1.2" />
<line x1="220.7" y1="442.6" x2="336.6" y2="442.6" stroke="#111" stroke-width="1.2" />
<text transform="translate(221.50 479.00) scale(1.250 1)" x="-5.33" y="0" font-family='"Liberation Sans", sans-serif' font-size="6.2" fill="#222" stroke="#222" stroke-width="0.28">10<tspan dx="0.6" dy="-4.00" font-size="5.70">0</tspan></text>
<text transform="translate(250.48 479.00) scale(1.250 1)" x="-5.33" y="0" font-family='"Liberation Sans", sans-serif' font-size="6.2" fill="#222" stroke="#222" stroke-width="0.28">10<tspan dx="0.6" dy="-4.00" font-size="5.70">1</tspan></text>
<text transform="translate(279.45 479.00) scale(1.250 1)" x="-5.33" y="0" font-family='"Liberation Sans", sans-serif' font-size="6.2" fill="#222" stroke="#222" stroke-width="0.28">10<tspan dx="0.6" dy="-4.00" font-size="5.70">2</tspan></text>
<text transform="translate(308.43 479.00) scale(1.250 1)" x="-5.33" y="0" font-family='"Liberation Sans", sans-serif' font-size="6.2" fill="#222" stroke="#222" stroke-width="0.28">10<tspan dx="0.6" dy="-4.00" font-size="5.70">3</tspan></text>
<text transform="translate(337.40 479.00) scale(1.250 1)" x="-5.33" y="0" font-family='"Liberation Sans", sans-serif' font-size="6.2" fill="#222" stroke="#222" stroke-width="0.28">10<tspan dx="0.6" dy="-4.00" font-size="5.70">4</tspan></text>
<path d="M220.7 467.3v3.5200000000000005M229.4 467.3v2.2M234.5 467.3v2.2M238.1 467.3v2.2M241.0 467.3v2.2M243.2 467.3v2.2M245.2 467.3v2.2M246.9 467.3v2.2M248.3 467.3v2.2M249.7 467.3v3.5200000000000005M258.4 467.3v2.2M263.5 467.3v2.2M267.1 467.3v2.2M269.9 467.3v2.2M272.2 467.3v2.2M274.2 467.3v2.2M275.8 467.3v2.2M277.3 467.3v2.2M278.6 467.3v3.5200000000000005M287.4 467.3v2.2M292.5 467.3v2.2M296.1 467.3v2.2M298.9 467.3v2.2M301.2 467.3v2.2M303.1 467.3v2.2M304.8 467.3v2.2M306.3 467.3v2.2M307.6 467.3v3.5200000000000005M316.3 467.3v2.2M321.4 467.3v2.2M325.1 467.3v2.2M327.9 467.3v2.2M330.2 467.3v2.2M332.1 467.3v2.2M333.8 467.3v2.2M335.3 467.3v2.2M336.6 467.3v3.5200000000000005" stroke="#111" stroke-width="1.0" fill="none"/>
<text transform="translate(214.70 467.30) rotate(-90) scale(0.730 1)" x="-7.10" y="0" font-family='"Liberation Sans", sans-serif' font-size="8.5" fill="#222" stroke="#222" stroke-width="0.28">10<tspan dx="0.3" dy="-5.50" font-size="8.00">0</tspan></text>
<text transform="translate(214.70 445.12) rotate(-90) scale(0.730 1)" x="-7.10" y="0" font-family='"Liberation Sans", sans-serif' font-size="8.5" fill="#222" stroke="#222" stroke-width="0.28">10<tspan dx="0.3" dy="-5.50" font-size="8.00">1</tspan></text>
<text transform="translate(214.70 422.95) rotate(-90) scale(0.730 1)" x="-7.10" y="0" font-family='"Liberation Sans", sans-serif' font-size="8.5" fill="#222" stroke="#222" stroke-width="0.28">10<tspan dx="0.3" dy="-5.50" font-size="8.00">2</tspan></text>
<text transform="translate(214.70 400.78) rotate(-90) scale(0.730 1)" x="-7.10" y="0" font-family='"Liberation Sans", sans-serif' font-size="8.5" fill="#222" stroke="#222" stroke-width="0.28">10<tspan dx="0.3" dy="-5.50" font-size="8.00">3</tspan></text>
<text transform="translate(214.70 378.60) rotate(-90) scale(0.730 1)" x="-7.10" y="0" font-family='"Liberation Sans", sans-serif' font-size="8.5" fill="#222" stroke="#222" stroke-width="0.28">10<tspan dx="0.3" dy="-5.50" font-size="8.00">4</tspan></text>
<path d="M220.7 467.3h-3.5200000000000005M220.7 460.6h-2.2M220.7 456.7h-2.2M220.7 453.9h-2.2M220.7 451.8h-2.2M220.7 450.0h-2.2M220.7 448.6h-2.2M220.7 447.3h-2.2M220.7 446.1h-2.2M220.7 445.1h-3.5200000000000005M220.7 438.4h-2.2M220.7 434.5h-2.2M220.7 431.8h-2.2M220.7 429.6h-2.2M220.7 427.9h-2.2M220.7 426.4h-2.2M220.7 425.1h-2.2M220.7 424.0h-2.2M220.7 423.0h-3.5200000000000005M220.7 416.3h-2.2M220.7 412.4h-2.2M220.7 409.6h-2.2M220.7 407.5h-2.2M220.7 405.7h-2.2M220.7 404.2h-2.2M220.7 402.9h-2.2M220.7 401.8h-2.2M220.7 400.8h-3.5200000000000005M220.7 394.1h-2.2M220.7 390.2h-2.2M220.7 387.4h-2.2M220.7 385.3h-2.2M220.7 383.5h-2.2M220.7 382.0h-2.2M220.7 380.7h-2.2M220.7 379.6h-2.2M220.7 378.6h-3.5200000000000005" stroke="#111" stroke-width="1.0" fill="none"/>
<text transform="translate(97.85 325.40)" font-family='"Liberation Serif", serif' font-size="18.3" text-anchor="middle" font-weight="normal" fill="#000" stroke="#000" stroke-width="0.3">CD45RA</text>
<text transform="translate(266.50 325.40)" font-family='"Liberation Serif", serif' font-size="18.3" text-anchor="middle" font-weight="normal" fill="#000" stroke="#000" stroke-width="0.3">CD45RO</text>
<text transform="translate(451.10 322.70)" font-family='"Liberation Serif", serif' font-size="18.3" text-anchor="middle" font-weight="normal" fill="#000" stroke="#000" stroke-width="0.3">CD62L</text>
<text transform="translate(12.50 251.60) rotate(-90)" font-family='"Liberation Serif", serif' font-size="15.4" text-anchor="middle" font-weight="normal" fill="#000" stroke="#000" stroke-width="0.3">Ephrin-A1-Fc</text>
<text transform="translate(20.00 430.80) rotate(-90)" font-family='"Liberation Serif", serif' font-size="15.9" text-anchor="middle" font-weight="normal" fill="#000" stroke="#000" stroke-width="0.3">Control-Fc</text>
<text transform="translate(200.00 424.20) rotate(-90)" font-family='"Liberation Serif", serif' font-size="15.8" text-anchor="middle" font-weight="normal" fill="#000" stroke="#000" stroke-width="0.3">Ephrin-A1-Fc</text>
<line x1="29.2" y1="483" x2="327" y2="483" stroke="#222" stroke-width="1.8" />
<path d="M325.5 478.7 L334.2 483 L325.5 487.7 Z" fill="#000"/>
<text transform="translate(186.00 500.80)" font-family='"Liberation Serif", serif' font-size="18.3" text-anchor="middle" font-weight="normal" fill="#000" stroke="#000" stroke-width="0.3">CD4</text>
</svg>
</body></html>
